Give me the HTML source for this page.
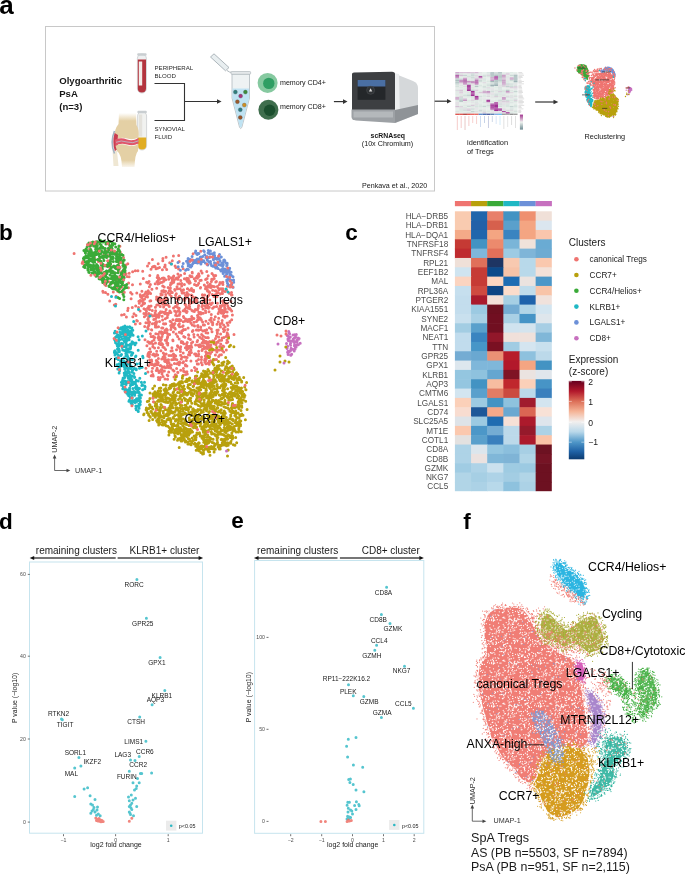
<!DOCTYPE html><html><head><meta charset="utf-8"><style>html,body{margin:0;padding:0;background:#fff}body{width:685px;height:874px;overflow:hidden;font-family:"Liberation Sans",sans-serif}svg{display:block;will-change:transform}</style></head><body><svg width="685" height="874" viewBox="0 0 685 874" font-family="Liberation Sans, sans-serif"><defs><g id="umapb"><path d="M166.7 269.6h0M126.1 273.7h0M121.9 286.7h0M143.4 295.2h0M118.5 264.5h0M103.1 292.2h0M140.1 323.5h0M142.7 271.3h0M159.5 267.6h0M171.4 264h0M107.9 294.2h0M131.1 298.7h0M105.1 282.2h0M127.8 263.7h0M158.2 263.8h0M137.9 270.7h0M183.2 268.8h0M157.8 275.4h0M149 263.3h0M147.5 266.1h0M149 281.4h0M135.3 270.7h0M140.2 294.7h0M127.7 310.6h0M136.8 292.9h0M130.6 292.5h0M169.7 262.7h0M136 315.6h0M162.4 269.7h0M117.1 280.3h0M115.4 279h0M129.2 273.2h0M136.7 320.5h0M135.4 324h0M105.9 285.5h0M121.6 314.9h0M128.6 283.1h0M117.5 256h0M172.3 260.8h0M140.1 301h0M154.6 266.3h0M105.3 284.1h0M162.8 260.8h0M178.7 255.6h0M121.7 271.4h0M116.1 296.2h0M114.3 304.9h0M152.5 266.9h0M173.4 256h0M129.1 276.8h0M109.7 300.9h0M168.6 276.5h0M175.9 267.4h0M152.4 259.5h0M128.1 308.3h0M156 268.7h0M132.6 271.7h0M139.3 303.3h0M108.7 281.7h0M132 294.1h0M118.5 271.3h0M128.4 287.7h0M149.8 275.4h0M126.4 317h0M153.3 266.6h0M137.4 320.9h0M132.3 307.4h0M158 280.9h0M105.5 292.5h0M165.1 266.9h0M122.9 293.8h0M110.8 266.4h0M155.1 266.4h0M132.5 284.7h0M146.6 282.2h0M132.8 316.8h0M179.2 261.6h0M149.4 286.8h0M164.5 266.9h0M178.6 268.9h0M166.1 257.3h0M127 276.4h0M121.2 282.7h0M119.5 261.7h0M102.8 291.3h0M115.8 304.2h0M122.9 293.1h0M124.3 292.3h0M134 313.7h0M175.1 266h0M117.9 291.5h0M120.3 288.3h0M125.9 265.1h0M165.1 264.9h0M113.3 292.1h0M124.2 314.5h0M135.7 306h0M157.6 268.3h0M140.3 283.9h0M162.9 258.6h0M138.9 301.2h0M151 269.3h0M117 287.4h0M140.1 300.4h0M155.2 283.7h0M148 282.9h0M140.1 310.9h0M143.3 278.4h0M138.5 307.6h0M103 282.4h0M159.9 303.1h0M187 292.4h0M166.9 332.6h0M187.7 278.6h0M145.9 368.2h0M188.5 354.7h0M145 339.8h0M169 355.5h0M141.5 305.8h0M227.1 332.8h0M168.7 279.3h0M177.1 288.4h0M155.4 326.9h0M234 334.5h0M207.2 307.5h0M189.8 355.1h0M198.5 359.5h0M193.6 290.2h0M183.5 329.5h0M158.9 339.8h0M216.3 291h0M188.4 348.2h0M176.5 306.7h0M167.7 336.5h0M200.7 327h0M156.3 360.5h0M156.7 288.3h0M148.8 313.5h0M155.8 324.7h0M159.5 321.4h0M190.5 352.8h0M178 284.1h0M210.2 283.9h0M212.3 303.1h0M226.6 289.9h0M186.8 349.8h0M190.2 300.5h0M148.8 306.3h0M143.3 304.1h0M160.6 312.4h0M124.6 268.3h0M98.4 261.6h0M94.5 258h0M109.8 246.1h0M119.9 246.3h0M116 284.1h0M105.4 265.7h0M90.9 275.2h0M91.1 245.6h0M86.9 251h0M111.7 259h0M97.4 243.6h0M107.4 256.5h0M99.5 259h0M120.3 252.3h0M115.5 253h0M120.3 252.3h0M106.9 251h0M74.1 253.6h0M89.6 249h0M82.2 263.2h0M107.9 255.5h0M109.8 267.4h0M84.3 264.8h0M110.5 263.9h0M123.5 257.4h0M108 250.2h0M111.2 283.8h0M113.5 252h0M103.7 255.2h0" stroke="#ef7470" stroke-linecap="round" fill="none"/><path d="M224.8 311h0M170.4 284.9h0M225.2 291.4h0M195.6 344.9h0M208.2 275.7h0M148.5 326h0M144.7 326.5h0M208.5 343.3h0M197.3 276.1h0M162 369.7h0M151.5 329.7h0M156 316.1h0M190.9 350.1h0M172.3 279.3h0M156.4 321.6h0M188.6 338.6h0M176.5 349.7h0M183.4 316.4h0M174 325.3h0M166.1 297.6h0M153.8 319.4h0M167.3 363.1h0M218.9 308.8h0M173.4 332h0M181.3 342.5h0M214 340.9h0M220.9 306.9h0M205.8 300.1h0M187.3 346h0M158.7 277.7h0M213.6 360h0M201.9 306.4h0M201.2 280.2h0M201.6 334.4h0M197.4 320.2h0M160.9 350.8h0M183.2 353h0M173.9 280.7h0M190.4 339.5h0M164.3 347.7h0M175.3 306.4h0M185.4 329.4h0M204.6 341.2h0M203.1 313.2h0M203 309h0M196.5 321.5h0M192.3 272.9h0M186.4 295.2h0M175.9 279.1h0M173 282.6h0M197.7 285h0M222.9 284.5h0M173.7 325.4h0M151 306.1h0M165.6 349.5h0M231.7 310.9h0M213.5 286.4h0M193.9 318.6h0M166.8 361.4h0M209.4 285.7h0M167.2 361.1h0M208.9 341.9h0M160.6 311.7h0M168.1 314.5h0M181.3 358.8h0M161.7 343.6h0M202.6 322.1h0M157.5 315.3h0M209.3 291.8h0M148.4 321.9h0M161.8 359.1h0M218.1 342.2h0M157.4 361.5h0M207.7 353.2h0M204.9 362.3h0M167.7 345h0M188.1 308.2h0M170.4 288.1h0M185.7 311.6h0M179.2 364.7h0M203.4 345.8h0M231.5 295h0M187.2 281.2h0M176.5 375.5h0M148 354.3h0M220.5 327h0M214.2 319.5h0M172.9 326.6h0M158.1 304.8h0M171.2 296.2h0M227.4 286.2h0M200.2 318.1h0M158.3 282.7h0M149.6 309.4h0M177.9 372.6h0M207 287.1h0M191.5 288.5h0M171.4 291.9h0M149.5 342.7h0M206.5 299.2h0M212.6 324.7h0M189.8 321.3h0M214.2 278.6h0M186 296.8h0M149.5 292.5h0M163.1 376.6h0M205 305.7h0M176.4 319.5h0M167.3 317.4h0M211.7 279.3h0M165.7 323.7h0M202.9 342.1h0M207.4 282.6h0M156.8 305h0M166.2 354.1h0M143.1 303.7h0M195.3 309.4h0M173 340.7h0M220.4 308.5h0M152.8 364.6h0M146.5 311.3h0M214 343.7h0M146.2 315.2h0M199.3 346.7h0M182 291.7h0M229.8 322.3h0M206.7 329.8h0M147.5 297h0M145.9 292h0M158.6 316.6h0M169.9 310.9h0M149.6 359.9h0M189.7 319.3h0M164.9 330.7h0M160.6 365.4h0M216.6 306.4h0M167.8 343.3h0M220.2 324.8h0M218.3 321.7h0M164.5 323.9h0M171.2 355.4h0M217.3 286.5h0M155.3 313.2h0M207.9 345.5h0M165.1 312h0M165.7 279.7h0M169.3 306.5h0M161.4 369.6h0M219.5 340.2h0M192 295.5h0M221.4 354.7h0M187.7 288.7h0M160.1 312.7h0M170.8 277.7h0M177.8 320.4h0M166.7 313.3h0M170.9 312.5h0M197.6 325.7h0M158.4 358.5h0M187.7 321.4h0M206.3 353.7h0M202.2 350.3h0M154.6 347.9h0M163.7 299.4h0M151.2 314.7h0M209.6 356.3h0M152 341.5h0M158 300.5h0M183 289.9h0M190.1 308.8h0M200.9 329.4h0M203.8 298.1h0M205.8 351.8h0M207.1 278.5h0M228 334.5h0M165.3 318.8h0M188.1 328h0M163.1 300.1h0M173.8 356.9h0M180.7 275.2h0M182.1 293.1h0M167.3 330.1h0M173.3 276.9h0M157.3 317h0M174.7 289.4h0M201.5 357h0M210.7 345.3h0M141.6 296.3h0M187.9 348.3h0M175.9 320.4h0M165 302.9h0M144.4 316.8h0M200.4 287.9h0M218.1 292.6h0M205.5 288.8h0M222 293.1h0M208 363.3h0M163.7 281.2h0M194.5 325.9h0M184.6 356.9h0M183.1 325.7h0M185.3 321h0M177.7 288.7h0M167.5 300.1h0M163.1 357.1h0M150.6 293.6h0M189 305.4h0M162.3 312.1h0M186.7 345.2h0M180 320.7h0M178.7 297.3h0M159.1 343.8h0M194.8 301.7h0M227.1 316h0M195.5 281h0M222.9 282.3h0M176.6 368.4h0M217 296.7h0M186.4 279.4h0M223.7 346.6h0M174.4 363.6h0M214.1 306.9h0M197.6 309.7h0M172.3 280.5h0M220.7 344.1h0M161.6 333.4h0M168.7 372.1h0M171.8 292.6h0M144 308.7h0M232 295h0M216.4 281.5h0M153.3 336.2h0M191.7 347.3h0M168.5 313.3h0M162.4 303.1h0M156.3 370.5h0M222.5 310.6h0M204.5 324.9h0M166.1 309.5h0M229.8 308.6h0M167.7 360h0M150.6 351.7h0M230.9 301.6h0M188.5 294.5h0M147.8 319.3h0M206.9 356.6h0M163 303.1h0M208.5 307.6h0M183 362.8h0M173.2 359.6h0M212.7 322.6h0M223.4 313.3h0M209.7 341.4h0M170.8 329.5h0M196.4 330.1h0M227.8 329.5h0M151.7 361.3h0M180.3 349.5h0M216.9 330.2h0M165.1 357.4h0M221.2 310.1h0M178.1 307.7h0M140.5 296.5h0M170.8 282.9h0M211.2 318h0M192.8 302.3h0M173.5 353.9h0M183.7 336.6h0M179.3 332.3h0M223.5 300.4h0M188.3 346.6h0M186.4 298h0M210.7 360.7h0M148.3 329h0M199.7 337.3h0M176.1 333.9h0M191.6 370.6h0M216.9 352.1h0M211.6 322h0M209.9 303.6h0M183.5 361.7h0M143.3 303h0M185.4 364.7h0M165.1 361.5h0M162.7 304.3h0M191.5 342.9h0M163.3 353h0M199.1 313.5h0M184.6 371.8h0M151.9 289.3h0M211.1 304.6h0M194.4 325.7h0M153.6 354h0M209 287h0M164.2 359.1h0M186.7 311.4h0M181.4 290.4h0M186.1 296.4h0M155.1 312.9h0M145.9 322.7h0M204.7 342.7h0M181.3 358.9h0M166.5 328.9h0M187.1 357.6h0M169 362.4h0M141.7 297.2h0M156.5 299.3h0M167.8 334.2h0M205.4 356.1h0M175.6 295.2h0M219.3 284.4h0M146 296.5h0M185.8 374.6h0M207.8 333h0M188.5 347.3h0M198.3 308h0M148.6 293.1h0M212.8 340.8h0M214.1 275.9h0M223.8 313h0M226.1 336.4h0M190.9 361h0M198.2 345.2h0M154.7 337.5h0M173.2 279.3h0M152.4 323.8h0M164.4 355.2h0M187.4 294.1h0M159.4 315.3h0M213.5 275.3h0M192 310.6h0M161.8 291.1h0M170.1 364.7h0M202.1 273.1h0M202.6 305.5h0M220.1 294.1h0M179.7 283.7h0M200 280.6h0M156.7 355.3h0M186.5 343.8h0M208.3 337.7h0M158.4 347.8h0M150.8 300.7h0M181.7 283.6h0M149.9 342.7h0M209 311.8h0M176.3 293.8h0M188.5 334.8h0M172.2 350.8h0M216.7 342.6h0M166.9 339.5h0M221.6 282.8h0M184.6 273.5h0M218.6 356.6h0M204.3 284.9h0M188.8 346.8h0M171.2 326.4h0M186.7 278.3h0M151.3 364.6h0M209.1 362.9h0M193.8 334.4h0M189.3 351.9h0M170.7 325.6h0M183.7 343.8h0M148.2 290.7h0M219.7 349.9h0M209.7 319.9h0M149.6 322.2h0M220.3 327h0M198.8 312.2h0M154 339.9h0M185.1 309h0M164 347.6h0M169.6 334.4h0M164.2 353.9h0M174.9 323.6h0M226.3 350h0M208.5 308.3h0M218.2 313.4h0M201.3 362.5h0M190.6 351.6h0M214.4 286.7h0M162.6 334.2h0M210.9 287.4h0M229.3 309.1h0M185.2 310.9h0M198.5 356.1h0M224.4 311.1h0M227.2 303.7h0M154.4 365.7h0M205.4 348.3h0M218.2 330h0M187.1 311.4h0M154.9 355.9h0M165.6 291.2h0M158.3 334.1h0M166 297.7h0M149.2 306.7h0M212 273.4h0M184.9 337.3h0M144.6 303.3h0M219.1 289.7h0M211.1 320.6h0M155.9 323.9h0M176.4 278h0M187.6 295.8h0M190.6 347.6h0M184.8 309.8h0M163 303.7h0M144.6 299.1h0M207.7 357.8h0M177.6 336.5h0M160.5 344.5h0M205.8 351.8h0M220.6 334h0M203.5 301.2h0M227.8 342h0M223.2 302.7h0M189.3 283.2h0M157.7 355.1h0M146.1 313.1h0M157.8 364.5h0M147.7 308h0M219.6 346.6h0M209.3 353.3h0M206.4 278.9h0M147.8 356h0M196.9 299.9h0M148.4 353.3h0M171.7 359.8h0M148.9 325.3h0M149.3 356.8h0M192.1 296.8h0M171.3 365.1h0M175.3 374.7h0M167.6 379.3h0M167.1 317.6h0M199.2 276h0M160.8 282.4h0M208.8 295.3h0M186.3 307.1h0M162 373.9h0M187.2 342.6h0M205.5 361.3h0M164.5 279.6h0M183.5 289.7h0M198.3 316.6h0M152.7 354.7h0M189.6 290.2h0M189.4 304h0M200.6 287.6h0M197.4 278.3h0M171.9 347.7h0M197.3 364.1h0M164.9 313.8h0M163.5 290.5h0M156.9 354.6h0M160.8 299.4h0M181.7 286h0M165 378.9h0M213.6 278.7h0M205.7 312.4h0M207 303.5h0M167.5 365.6h0M222.9 346.1h0M209.6 292.4h0M172.9 369.9h0M231.7 319.7h0M200.8 313.9h0M183.3 321.8h0M211.3 347.6h0M218.2 287.9h0M162 336.6h0M227.1 322.9h0M158.7 336.4h0M223.6 316.2h0M164.4 366.8h0M176.4 302.5h0M162.3 366.8h0M225.5 311.4h0M221.3 313h0M181.7 333.3h0M160.6 300.4h0M164.8 299.6h0M187.9 282.1h0M212.6 290.2h0M181.3 341.6h0M152.8 316h0M192.4 331.5h0M151.2 362.7h0M191.1 345.6h0M154.9 322.9h0M205.1 358.7h0M214.9 294.9h0M217.4 333.5h0M202.2 364.7h0M177.7 372.2h0M175.3 329.1h0M156.1 354.5h0M222.9 288.7h0M209.3 347.4h0M184.6 300.6h0M171.4 327.5h0M158.1 337.8h0M176.9 359.7h0M202 350.4h0M163.4 278h0M205.7 337.6h0M179 310.1h0M185.5 295.5h0M179.8 326.8h0M166.5 340.8h0M215.5 338.6h0M201.7 338.5h0M163.8 312.4h0M196.5 360.9h0M195.3 370.5h0M162.6 319.9h0M202.4 294.7h0M206.5 299.9h0M206 359.5h0M198.7 354.2h0M221.6 340.2h0M179.9 348.5h0M162.7 344.4h0M204.6 330.4h0M158.2 362.7h0M159.7 279.2h0M162.9 328.1h0M194.5 367.5h0M222.2 320.5h0M153.2 376.1h0M161.3 339.4h0M164.6 360.9h0M158.7 317.3h0M160.4 365.7h0M197.6 340.4h0M169.2 290.4h0M219.7 355.1h0M192 290.6h0M196.7 302.6h0M187.7 321.5h0M215.3 316.7h0M212 331.7h0M223.6 325.1h0M149.9 300.9h0M201.1 312.7h0M179.3 315.2h0M157.9 281.3h0M170.1 321.3h0M227 339.9h0M215.4 354.9h0M175.7 375.5h0M183.2 375.3h0M157.2 277.6h0M223.3 316.2h0M187.3 374h0M160.4 377.5h0M176.9 298.2h0M161.7 328h0M183.4 368.5h0M154.2 337.6h0M212.7 323.8h0M197.1 341.7h0M141.8 298.1h0M228 325.2h0M160.2 306.4h0M180.9 320.2h0M191 323.2h0M143.1 300.4h0M208.3 323.4h0M205.7 307.6h0M174.4 327.8h0M224.6 307.1h0M222 305.5h0M151.1 336.6h0M218.6 337h0M154.1 315.6h0M229.8 321.5h0M152.5 368.3h0M163.6 292h0M188.8 335.2h0M224.7 308.6h0M194.5 284.6h0M188.3 278.8h0M150.4 284.4h0M168 305.1h0M205.6 279.4h0M150.3 343.2h0M202.6 349.1h0M207 343.9h0M191.4 352.5h0M147.6 294.3h0M209 292.2h0M189.4 299.6h0M180.1 362.8h0M201.4 320h0M165.4 359.6h0M201.1 319.4h0M220.8 347.2h0M223.7 331.5h0M206 363.7h0M148.4 323.2h0M196.3 277.4h0M213.4 349.7h0M227.1 311.9h0M183.6 371.3h0M178.3 362.8h0M179.2 308.2h0M165.8 294.5h0M180.1 288.8h0M146.9 345.8h0M168.3 292.8h0M162.9 346.9h0M192.8 296.9h0M159.4 343h0M198.5 306h0M171.1 322h0M224.7 330.2h0M218.1 341.5h0M192.3 324.9h0M203.3 325.1h0M207.5 291h0M170 367h0M176.8 363.7h0M227.2 334.6h0M149.5 354.3h0M201.9 303h0M220.3 324.1h0M161.2 338.1h0M215.8 281.9h0M178.1 319.6h0M147.6 327.6h0M176.9 315.8h0M165 300.8h0M162.2 282.3h0M191.5 320.1h0M206.3 341.4h0M228.6 308.4h0M222.1 313.3h0M201.4 359.5h0M176.9 320.1h0M198.7 283.2h0M189.5 281.4h0M160.9 339.5h0M164.2 287.1h0M188.2 319.6h0M175.3 355.5h0M206 332.8h0M197.8 335h0M220 282.5h0M182 357h0M167.4 337.7h0M145.1 293.4h0M177.2 278.7h0M179.5 296.3h0M220.1 306.1h0M175.4 359.2h0M192 276.5h0M160.2 338.2h0M158.5 298.3h0M197.9 325.4h0M165 332.5h0M198.9 275.3h0M165.5 304.8h0M172.3 292.4h0M204.6 360.2h0M204.7 294.9h0M225.2 303.2h0M213.3 279.2h0M182.4 326.6h0M190.8 276.7h0M180 312.3h0M177.7 311.1h0M211.4 281.5h0M216 344.8h0M180.5 349.1h0M177 286.7h0M178.8 276.7h0M148.1 319.3h0M216.7 293.4h0M202.8 335.8h0M194.1 337.1h0M183.2 310.7h0M162.2 278.2h0M174.3 355.7h0M191.4 289h0M215.7 275.6h0M226.6 342.7h0M191.7 316.4h0M167.6 315.2h0M189.9 275.8h0M149.2 352.2h0M189.6 346.6h0M184.3 293.1h0M174.7 311.1h0M223.3 328.7h0M186.3 360.6h0M184.4 284.4h0M189.2 280.8h0M222.5 291.2h0M202.1 342.9h0M169.8 294.6h0M163.6 306.9h0M194.3 311.6h0M150.4 333.7h0M207.3 348.5h0M185.5 304.8h0M198.5 319.5h0M229.2 293.2h0M215.7 350.1h0M162 372.4h0M177.5 345.7h0M228.6 336.5h0M194.2 278.8h0M195.5 297.5h0M176.1 312.6h0M207.4 290h0M168.3 367.5h0M151.2 375.8h0M179.7 313.9h0M187.9 319.8h0M183.8 317.6h0M205.3 301.4h0M155.5 318.8h0M148.2 320.2h0M186 357.3h0M150.1 314.7h0M212.6 308.2h0M217.8 350h0M143.9 313.4h0M211.3 328.9h0M202.8 331.1h0M218.7 318.3h0M141 301h0M196.5 302.2h0M232.4 315h0M161.2 331.8h0M172 283.3h0M206.3 347.1h0M163.5 323.7h0M198.6 305.6h0M150 363.1h0M155.3 325h0M180.7 370.3h0M192 317.7h0M230.8 309.8h0M207.6 296.7h0M210.4 353.6h0M217 324.3h0M160.7 340.5h0M224.7 305.1h0M141.9 291.3h0M222.9 313.2h0M204.3 348.6h0M180.4 351.6h0M182.9 330.6h0M195.2 300.2h0M165.6 367.7h0M173.7 282.3h0M198.6 330.2h0M145.4 309.4h0M196.8 301.8h0M186.9 371.7h0M143.2 295.7h0M225.1 327h0M155.8 333.7h0M207.9 337.4h0M147.8 341.7h0M180.8 280.4h0M221.5 311.5h0M222.1 338h0M197.8 317.6h0M202.5 297.8h0M163.9 367.2h0M158.9 313.5h0M209.3 307.3h0M174 371h0M159.2 297.5h0M222.5 301.3h0M170.7 368h0M161 294.9h0M210 361.9h0M160.9 293.7h0M162.7 286.1h0M179.2 326.3h0M198.4 277.1h0M157.9 283.9h0M165.1 291.4h0M227.1 312.1h0M152.9 344.3h0M200.3 312.6h0M177.5 304.2h0M215 359.4h0M185.5 365.8h0M200.7 346.4h0M165 297.6h0M161.2 371.4h0M216.5 359.5h0M180.6 355.2h0M155.5 343.1h0M221.8 289.1h0M211.5 361.6h0M179.1 339.1h0M222.4 350.5h0M159.6 332h0M192.2 272.3h0M152.3 310.5h0M156.6 297.1h0M182.6 342.1h0M210.8 345h0M201.1 271.1h0M220.9 288.7h0M156.8 327.1h0M194.6 354.1h0M167.2 375h0M198.4 363.9h0M184.4 278.8h0M179.6 319.5h0M170.3 290.6h0M184.1 299h0M223 290.7h0M175.7 356h0M194 322.3h0M158.7 370.7h0M185 304.1h0M179.3 323.7h0M183.6 370.9h0M225.4 309.1h0M166.7 342.9h0M158.5 315.1h0M206.8 271.6h0M211.8 351.7h0M176 298.3h0M190.2 303.5h0M216.4 336h0M168.5 359.8h0M196.5 285.5h0M178.5 324.9h0M227.9 306.3h0M179.6 362h0M149 314.3h0M157.1 368.2h0M191.4 295h0M148.6 317.3h0M149 324.4h0M207.8 305.1h0M155.6 310.8h0M155.5 363.8h0M148.9 352.5h0M171 351.1h0M211.7 285.9h0M192.7 341.9h0M170 290.2h0M209.2 361.3h0M159.2 283.5h0M172.8 339.9h0M174 377h0M195.8 354.1h0M193.5 291.6h0M213.9 296.6h0M209 307.6h0M200.6 345.7h0M180.7 346.8h0M157 281.8h0M209.4 327.8h0M198.6 351.3h0M192.9 310.9h0M219.1 311.6h0M186.6 312.5h0M198.6 273.8h0M174.9 327.9h0M187.7 281.4h0M186.9 366h0M156.9 364.8h0M165.2 330.3h0M205.8 287h0M199.8 344.8h0M221.8 293.2h0M151.5 360h0M164.3 278.3h0M148.5 342h0M189.8 353.3h0M175.7 298.3h0M224.9 317.2h0M185.4 347.8h0M204 347.3h0M198 326.9h0M211.3 314.5h0M164.4 371h0M218.7 350h0M165.3 340.2h0M205.5 310.7h0M152.8 346.7h0M175 290.2h0M172.5 324h0M196.7 309.8h0M217.3 332.3h0M195.1 298.4h0M212.2 294.6h0M152.8 336.7h0M217.4 303.2h0M168.1 287.4h0M196.1 355.8h0M151.7 329.9h0M190.2 282.7h0M189.3 300.9h0M158.5 379.4h0M148.4 308.8h0M197.5 315.5h0M162.2 316.3h0M225.1 316.2h0M209.2 364.3h0M158.3 377.6h0M149.4 343.3h0M162.2 294.7h0M152.8 374.6h0M151.9 371.4h0M155.4 307.2h0M159.7 379.7h0M148.6 365.7h0M167.9 375.8h0M209.8 300h0M187.4 288.7h0M177.9 273.9h0M203.4 336.3h0M175.6 315.2h0M189.6 306.6h0M163.2 357.4h0" stroke="#ef7470" stroke-linecap="round" fill="none"/><path d="M182.4 377.6h0M206.1 449h0M243 415.3h0M183.1 430.1h0M202 437.9h0M234.3 426.5h0M163.9 417.7h0M226.1 396.1h0M159.3 388.2h0M226.4 374.3h0M228.2 429.1h0M201.7 419.1h0M222.7 386.1h0M163.3 425h0M186.5 394.4h0M158.3 415.5h0M158.7 425h0M189.7 430.7h0M227.5 455.9h0M208 369.6h0M149.1 420.4h0M203.5 379.2h0M160.6 390.9h0M173.6 391.8h0M180.1 431.6h0M191.1 444.7h0M196.9 383h0M245.4 419.7h0M234.3 375.7h0M182.4 378.2h0M163.3 384.7h0M198.8 393.6h0M173.6 418.3h0M198.8 450.8h0M197.3 400.7h0M165.5 409.5h0M203.5 453.7h0M175.2 389.8h0M246 389.8h0M203.5 383.6h0M173 407.7h0M147.3 401.4h0M209.2 397.2h0M165.1 424.1h0M206.4 390.2h0M207.4 440.4h0M197.8 393.9h0M209.3 404.4h0M187.6 430.6h0M200.2 435.9h0M192.3 380.7h0M225.6 439.6h0M196.2 450.3h0M219.3 448.9h0M227.9 450.3h0M177.7 410h0M240.8 421h0M174 383.8h0M205.6 371.4h0M193.4 419.7h0M215.2 401.8h0M236.7 374.2h0M211.4 386.8h0M174.8 412.2h0M235.3 386.5h0M176.2 419.5h0M216.4 424.1h0M237.6 422.6h0M216.7 415.5h0M214.6 428.8h0M213.9 365.1h0M185.2 412.9h0M164.9 407.7h0M144 414.1h0M213.8 409h0M176.3 429.3h0M184.5 389h0M222.3 422.5h0M189.2 417.9h0M204.4 437.5h0M217.4 366.1h0M151.7 408.1h0M177.7 384.2h0M208.6 451.8h0M181.2 434.6h0M175.1 430.2h0M215.3 431h0M185.6 399.3h0M232.1 405.5h0M218.2 421.4h0M233 404.7h0M172.9 403.2h0M193.9 416.1h0M246.6 382.6h0M209.5 404.2h0M213.2 363.8h0M200.9 452.5h0M203.4 452.6h0M204.9 374.5h0M187.8 429.3h0M196.9 387.9h0M209.8 439.9h0M160.7 415.9h0M170.6 406.3h0M193.6 411.3h0M202 448.8h0M209.6 387.8h0M229.5 368.3h0M223.5 412.6h0M169.8 431.8h0M172.2 405.4h0M210.4 384.4h0M202.6 454h0M175.7 403.1h0M233.4 444.7h0M243.8 394.1h0M179.7 385.9h0M200.9 398.9h0M215.7 394.9h0M203.5 371.1h0M150 392.9h0M152.8 388.4h0M227.8 368.3h0M213 373.7h0M212.3 362.2h0M203 377h0M224.3 385h0M182.7 376h0M156.6 420.5h0M205.9 375.7h0M223 420.5h0M243.7 377.6h0M177.5 440.2h0M190 398.2h0M238.9 430.4h0M189.8 425h0M163 424.6h0M170.9 422h0M181.2 434.9h0M195.2 378.5h0M180.7 386h0M192.3 422.6h0M205.9 390.1h0M160.6 415.4h0M214.6 371.5h0M235.1 422.4h0M199.2 450.3h0M154.6 386h0M148.5 414.1h0M219.4 423.6h0M180.4 405.3h0M245.7 401.3h0M191.2 411.9h0M240.4 415.6h0M177.5 414.8h0M217.4 370h0M225.8 384.3h0M196.4 381.8h0M225.7 357.5h0M228.2 450.1h0M217.6 426.3h0M170.3 429.2h0M221.4 385.4h0M238.4 431.9h0M222.6 384.5h0M147.3 412.2h0M221.9 363h0M224.8 432h0M210.7 403.3h0M191.9 414.6h0M224.6 424.7h0M222.8 434.5h0M187.9 444.1h0M219.3 394.9h0M218.5 361.6h0M183.4 438.1h0M195.6 410.8h0M203.8 450.3h0M161.9 424.7h0M189.2 378.4h0M143.7 414.8h0M159 415.1h0M185.9 393.1h0M203.9 396h0M160.6 396.3h0M237.8 374.2h0M213.5 379.3h0M197.9 409.6h0M243.4 400.1h0M169.5 427.8h0M178.4 399.6h0M175.9 385.2h0M215.1 403h0M168.9 408.1h0M212.8 385.6h0M232.9 431h0M227.2 421.6h0M164.3 424.5h0M197.6 372.1h0M156 415.4h0M200.8 410.2h0M217.5 402.8h0M203.8 420.1h0M241.4 397.5h0M179.2 447.6h0M172.5 384.2h0M241 399.2h0M196.9 398.3h0M241.2 431.7h0M242 396h0M217.4 431.8h0M183.2 435.1h0M227.7 424.9h0M234.9 445.3h0M179.3 392.7h0M185.4 381.6h0M247.1 409.6h0M218.6 416.1h0M156.6 404.1h0M210 455.2h0M238.7 425.9h0M183.5 390.1h0M216.8 389.3h0M225.1 428.7h0M168.9 435h0M210.6 415.9h0M235.1 383.1h0M221.7 381.3h0M175.4 421.1h0M176.3 376.7h0M236.7 442.7h0M158.1 390.9h0M184.5 432h0M225.4 368.5h0M175.2 379.5h0M215.2 369.1h0M200.9 423.5h0M233.1 406.6h0M165.5 397.1h0M207.5 405.4h0M172 385.8h0M200.9 418.5h0M203.1 394.2h0M191.8 403.2h0M238.6 391.1h0M179.4 412.4h0M204.4 427.2h0M184.8 393.2h0M156.5 413.9h0M224 362.1h0M224.2 411.1h0M151.7 407h0M213.1 396.4h0M232 397h0M224.1 392.1h0M175.1 411.6h0M159.2 424h0M197.3 379.2h0M199.9 400.4h0M217.9 444.5h0M241 393.2h0M210.6 415.7h0M172.8 398.4h0M208.3 405.9h0M154.6 415.3h0M240.5 425.8h0M235.2 430.8h0M211.7 429h0M237.9 378.6h0M219.4 375h0M192 390.3h0M209.6 418.7h0M222.2 430.4h0M207 442h0M234.8 415.6h0M212.5 379.7h0M195.1 413.8h0M182.2 408.5h0M205.3 449h0M202 426.7h0M226.9 367.5h0M204.3 446.3h0M225 393.6h0M204.1 402.6h0M241 410.6h0M152.9 408.9h0M195.1 401.8h0M174.3 385.2h0M218.1 447h0M222 365.3h0M229.1 435.9h0M231.1 427.1h0M171.6 405h0M200.1 383.2h0M227.6 361.1h0M217.6 434.3h0M192.1 382h0M194.7 410.3h0M189.3 388.2h0M213.2 442.7h0M180.1 407.9h0M198 443.4h0M193.7 382.6h0M182 441h0M179.7 383h0M187.3 434.3h0M157.2 406.4h0M233.6 388h0M233.1 369.5h0M210.2 388.5h0M216.6 372.1h0M234.9 412.7h0M241.5 414.6h0M203.3 439.5h0M207.4 385.9h0M207.2 437.2h0M177.8 420.2h0M221.4 431h0M221.7 439.2h0M218.6 401.6h0M229.6 425.9h0M239.9 406.1h0M171.7 396.1h0M212.3 442.5h0M199.8 401.8h0M198.6 446.7h0M185 419.7h0M215.1 435.3h0M227.9 434.8h0M206.1 447.8h0M213 371.3h0M199.9 394.8h0M153.8 393.8h0M155.2 417.3h0M177.8 430.9h0M220.4 432.1h0M203.8 409.6h0M213.8 375.8h0M238.7 405.5h0M204.2 429.7h0M226.9 424.1h0M190.3 384.6h0M150.3 417.3h0M156.2 393.1h0M228.8 376.4h0M238.7 429.1h0M198.6 387.7h0M238.7 387.8h0M178.9 412.1h0M159.5 401.3h0M159 401h0M221.1 398.6h0M216.8 375.4h0M215.3 411.5h0M215.6 424.7h0M225.2 403.5h0M203.2 381.8h0M185.3 408h0M193.9 390.1h0M208.5 396.1h0M232.5 403.4h0M181.2 420.8h0M235.3 374h0M233.1 395.2h0M181.9 435.5h0M203.3 412h0M203.1 430.7h0M234.9 396h0M178.2 438.7h0M217.1 438.4h0M217.9 405.1h0M202.1 411.8h0M223.6 412.2h0M202.8 429.6h0M227.9 425.5h0M146.1 409.7h0M230.2 435.9h0M241.8 407.3h0M197.3 411.6h0M184 432.1h0M205.5 441.4h0M179.9 396.2h0M151.1 407.2h0M224 406.8h0M198.2 445h0M223.2 387.9h0M213.9 406.2h0M223.1 439.8h0M187.8 386.9h0M157.7 409.4h0M189.6 384.6h0M197.9 421.5h0M182.4 387.2h0M233.1 420.5h0M229.7 378h0M167.1 390.5h0M214.7 393.8h0M212.4 424.7h0M146.7 410.2h0M210.2 418.5h0M211.4 432.1h0M179.2 438.8h0M211.4 390.6h0M209.8 393.5h0M195.8 410.8h0M217.2 386.1h0M213.3 380.1h0M225.7 380h0M206.1 388.7h0M203.6 387.5h0M189.8 440.7h0M241.7 406h0M220.4 446.3h0M164.2 394.3h0M235.5 407.3h0M159.2 418.6h0M237.8 383h0M183.2 418.9h0M175.6 404.9h0M199.5 378.2h0M223.9 377.8h0M227.7 396.3h0M239.9 392.5h0M173.3 397.5h0M236.1 413.7h0M227.6 439.1h0M229.9 429.8h0M202.5 396.4h0M158.1 391.8h0M227.3 431h0M219.5 411.8h0M239 379.8h0M208.3 398h0M241.1 390.6h0M169.3 431h0M227.6 426.3h0M224.9 376.2h0M206.7 409h0M237.8 395.8h0M170.1 387.2h0M216.2 426.4h0M192.6 395.7h0M240 400.8h0M165.6 395.1h0M207.4 437h0M158.9 418h0M206.7 407.1h0M188.5 409.4h0M242.6 391.5h0M237.8 390.8h0M212.5 415.2h0M212.4 433.5h0M231.4 412.2h0M188.2 384.7h0M218.1 434.6h0M149.9 404.7h0M229.7 418.7h0M188.1 387.7h0M195.7 390.9h0M185 405.2h0M152.9 415.3h0M204.4 425.6h0M217.2 393h0M206 383.7h0M180.5 383h0M195.3 419.5h0M169 388h0M192.2 424.2h0M197.9 401.1h0M153.5 393.4h0M148.6 415.1h0M238.2 407.2h0M192.3 395h0M221.4 375.9h0M238.8 400.8h0M205.9 447.8h0M174.9 415.5h0M207.8 376h0M206.2 426.9h0M227.3 439.3h0M178.1 430.7h0M160.4 393.7h0M186.4 424.1h0M207.8 435.3h0M220.1 380.8h0M231.1 387.5h0M186.9 395h0M176 408.9h0M198.5 433.4h0M218.8 376.8h0M179.6 382h0M220.8 431.2h0M230 396.8h0M174.5 433.3h0M147.1 412.4h0M239.3 398.7h0M172.6 412.9h0M177.6 392.5h0M195.9 380.2h0M196.3 404.1h0M228.4 379.8h0M196.7 400.3h0M169.6 399.3h0M201.7 428.8h0M244.3 397.2h0M224.6 389.6h0M219.5 423.1h0M149.5 404.8h0M167.2 414.2h0M163.6 415.9h0M223.5 414.4h0M230.4 394.2h0M213.2 400.5h0M232.3 366.1h0M216.1 367.7h0M224.6 379.1h0M203.8 438.5h0M225.8 367h0M231.3 375.1h0M223.4 417.6h0M184.3 394.3h0M176.4 403.2h0M146.4 408.1h0M233.3 385.6h0M212.4 448.7h0M222 430.6h0M187.6 403.3h0M237 380.5h0M196.6 427.3h0M179.4 402.8h0M167.9 426.2h0M226.5 445.7h0M215.1 379.8h0M178 392.5h0M165.7 402.3h0M225.7 407.6h0M200 434.8h0M206.8 440.8h0M206.4 432h0M167.3 413.6h0M172.2 429.7h0M170.7 387.7h0M189.3 380.2h0M218.3 427.9h0M196.8 376h0M180.4 427.8h0M169.7 400.6h0M210.6 373.1h0M203.4 405.9h0M156.5 408.6h0M155.1 412.6h0M212.1 407.1h0M168 402.4h0M204.2 400h0M194.8 443.2h0M150.8 411.4h0M174 394.9h0M239.1 417.8h0M174 400.9h0M188.4 408.3h0M210 408.2h0M204.3 393.2h0M235.8 410.9h0M232.3 424h0M214.3 421.8h0M224.1 435.3h0M214.7 388.5h0M232.3 404.2h0M163 407h0M217.3 419.1h0M236.1 431.9h0M233.3 394.6h0M211.8 421.4h0M223.5 441.9h0M181.1 440.9h0M163.3 413.1h0M180.6 408.7h0M165.1 394.4h0M192.1 413h0M165.9 415.5h0M172.7 412h0M190.5 420.6h0M156.2 397.2h0M235.4 412.3h0M209.5 411.5h0M193.4 426.4h0M192.5 432h0M174.4 389.1h0M238.1 413h0M221.3 413h0M193.9 411h0M218.7 446.2h0M236 406.7h0M211.8 381.4h0M159.7 413h0M237.1 397.8h0M202.4 447.3h0M188.9 412.7h0M188.7 400.2h0M240.4 389.1h0M209.6 404.3h0M224.4 415.4h0M179.9 397.9h0M232.3 393h0M239.5 399.9h0M225 400.2h0M168.1 414.1h0M231.4 407.8h0M165.9 398.7h0M240.4 379.4h0M216.3 381.4h0M195.4 376.3h0M171.3 424h0M232.6 435.9h0M219.5 410.9h0M217.1 443.8h0M232.6 419.3h0M186 409.4h0M201.2 412.6h0M217.3 367.6h0M158.5 393.8h0M212 382.5h0M184.9 413.7h0M215.7 400.7h0M212.2 423.9h0M180.5 439.9h0M205.4 394.1h0M217.6 388h0M232.1 388.6h0M176.2 432.5h0M202.7 447.1h0M193.6 427.7h0M227.6 403.5h0M163.4 394.5h0M184.8 392.2h0M217.9 437.5h0M229.7 376.7h0M162.2 421.7h0M219.8 432.5h0M237.2 389.9h0M214.3 406.6h0M208.6 440.6h0M203.7 442.3h0M228 408.1h0M208.2 402.7h0M184.5 427.5h0M206.3 393.1h0M211.6 408.9h0M195.7 446.2h0M172.1 424.2h0M213.7 448.3h0M180.8 423.4h0M206.4 422.8h0M241.7 391.5h0M160.4 410.4h0M202.1 394.2h0M175 435.7h0M153.2 398.1h0M226.9 436.8h0M217.3 407.8h0M161.2 395.6h0M219.4 432.2h0M207.3 443.4h0M202.6 438.5h0M237.3 374h0M175.2 400.6h0M188.2 438.6h0M190.5 441.1h0M207 409.6h0M222.5 390.5h0M157.6 393.2h0M229.7 399.4h0M185.5 432.3h0M176.5 429.1h0M161.8 420.3h0M211.8 406.3h0M234.6 407.7h0M228.5 428h0M172.8 429h0M175.2 397.9h0M196.1 437.6h0M226 372.9h0M200.3 387.1h0M165.9 392.8h0M214.4 445.9h0M221.3 405.3h0M184.6 434.2h0M230.2 437.6h0M208.1 419.6h0M149.9 398.6h0M208.8 383.9h0M214.5 410.5h0M213.1 439.3h0M179.1 417.3h0M228.1 423.4h0M215.5 411.3h0M178.2 433.7h0M158.4 413.3h0M196.2 418.2h0M162.4 397.5h0M212.3 399.9h0M218.8 366.1h0M220.4 395.5h0M221.3 429.8h0M227 445h0M190.3 429.3h0M220.9 398.8h0M162.9 421h0M217.9 417h0M181.7 390.1h0M166.3 400h0M224.7 439h0M238.2 379h0M211 397.6h0M182 430h0M202.3 417.1h0M211.9 417.8h0M222.5 444.8h0M235.6 389.5h0M227.1 444.6h0M197.7 397.6h0M205.2 381.6h0M230.7 392.1h0M174.7 431.7h0M180 385.1h0M216.8 431.4h0M220 421.5h0M221.3 445.7h0M171.9 384.4h0M212.8 433.4h0M210.6 387.3h0M202.7 381.2h0M227.5 371.2h0M225 441.9h0M193.7 423.2h0M213.1 400.2h0M230.8 443.2h0M193.1 386.6h0M240.6 424.5h0M185.2 400.2h0M228 424.7h0M197.1 444.3h0M204.7 440.1h0M232.7 427.8h0M235.3 376.2h0M221.1 439.4h0M178.6 416h0M178.8 428.4h0M168 415.4h0M226.4 417.6h0M202.9 393.7h0M213.7 448.5h0M171.3 432.2h0M175.3 429.7h0M165.8 414.7h0M182.3 408.6h0M183.2 414.4h0M220.4 424.6h0M229.4 368.1h0M183.7 432.9h0M220 445.3h0M210.3 441.2h0M208.2 430.8h0M195.4 425.5h0M232.9 377.6h0M180.3 396.2h0M231.4 435.5h0M196.6 395.4h0M204.6 417.8h0M245.8 389.8h0M187.2 431.7h0M196.4 427.9h0M222.5 379.4h0M236.5 372.8h0M185.5 421.5h0M179.5 389.2h0M189.2 443.9h0M181.3 413.7h0M200.2 448.8h0M196.9 433.1h0M221.5 402.3h0M187.7 401.7h0M153.4 395.6h0M212.4 426h0M241.7 381.2h0M177.4 429.1h0M208.8 417.4h0M179.6 430.6h0M152.6 413.8h0M238.9 408.8h0M212.4 383.6h0M179.9 432.4h0M219.9 434h0M164.4 390.6h0M209.9 405.7h0M227.3 397.3h0M237.9 378.9h0M211.7 434h0M235.2 415.2h0M210.4 382.4h0M204.4 374.6h0M213.9 372.8h0M230.2 429h0M209.6 386.2h0M212.7 424.1h0M196 423.9h0M225.7 442.7h0M229.7 368.2h0M194.3 444h0M158.4 400.2h0M215.1 411.6h0M235.9 419.8h0M219.3 365.6h0M229.8 392.6h0M231.2 436.5h0M220 387.7h0M232.5 368.9h0M197.7 410.1h0M207.3 443.3h0M180.6 396.6h0M234 369.6h0M159.6 422.7h0M219.4 379.4h0M215.7 391.9h0M161.4 400.9h0M191.2 394.6h0M237.8 394.6h0M210.3 448.4h0M191 415.5h0M179.8 430.9h0M211 431.9h0M211.1 426.1h0M158.7 420.4h0M221.2 445.4h0M209.2 437.5h0M219 404.6h0M172.4 427.3h0M232.3 378.8h0M217.5 431.3h0M177.5 433.6h0M181.8 429.8h0M189.7 378.1h0M166 385.2h0M226 438h0M209.4 377.7h0M175.4 395h0M242.2 395h0M232.4 429.4h0M224.8 412.3h0M176.1 432.5h0M164.3 424.1h0M202.7 395.5h0M199.1 381.1h0M214.1 413h0M211 424.7h0M238.9 428.1h0M204.4 404.5h0M160.8 388.1h0M206.3 390.6h0M197.1 392.8h0M201.6 373.8h0M212.5 394.6h0M239.5 388.1h0M231.8 395.4h0M211.7 391.7h0M227.5 379.3h0M183.9 427.7h0M192.2 438.1h0M204.8 408.7h0M205.2 376.2h0M161.8 416.9h0M174.2 386h0M171.3 386.6h0M170.6 387.9h0M175.4 436.9h0M244.9 395.4h0M233.5 368.1h0M194.2 436.1h0M185.7 405.4h0M166.3 401.3h0M220 401.7h0M207.6 422.9h0M172 400.2h0M235.7 390.7h0M241.9 400.3h0M211.4 432.7h0M197.6 447.7h0M227.6 442.7h0M199.5 448.3h0M201.4 398.8h0M156.5 393.6h0M163.8 401.4h0M185.4 441.9h0M218.6 400.4h0M201.5 448.8h0M222.3 416.5h0M180.7 395.2h0M178.5 421h0M233.3 386.5h0M237.8 397.8h0M195.1 382.4h0M170.6 399.6h0M195.4 438.2h0M181.7 430.7h0M170.9 403.4h0M181 418.9h0M202.3 404.4h0M155.2 405.9h0M202.6 384.2h0M214.8 371.6h0M227.4 363.5h0M231 437.5h0M236.8 375h0M211.7 402.1h0M166 421.8h0M203.3 450.2h0M176.2 403.7h0M182.9 394.3h0M204.5 432.7h0M214.7 369h0M173.1 417.5h0M222.7 440.4h0M181.8 401.6h0M149.9 407.3h0M176 408h0M206.3 374.3h0M220 373.7h0M224.2 427.5h0M239.6 420.5h0M184.1 427.9h0M206.7 385.9h0M232.7 407.1h0M239.7 415.1h0M203.8 406.1h0M164.8 391.3h0M236.4 422.4h0M223.5 397.5h0M187.6 431.9h0M211.3 446.4h0M213.8 377h0M213.9 426.6h0M193.8 419.1h0M221.2 434.2h0M212.2 396.4h0M214.7 381.2h0M172.3 426.2h0M187.7 441.9h0M229.4 422.6h0M181.7 399.7h0M178.8 387.6h0M216 409.5h0M178.7 389h0M160.8 417.1h0M239.8 423.3h0M180.2 411.5h0M151.4 411.8h0M204.8 372.7h0M197 419.7h0M199.3 422.4h0M214.6 420.8h0M232.7 372h0M182 437.9h0M211.7 394.8h0M169.5 407.5h0M229.1 377.2h0M170.2 405.5h0M227.6 397.6h0M199.5 432.7h0M213.7 410.1h0M189.3 420.2h0M229.9 371.7h0M227.6 388.8h0M190.7 406.8h0M191.6 392.9h0M228.6 409.1h0M172.1 431.9h0M161.1 398.5h0M162.5 396.7h0M183.7 408.5h0M158 419h0M216.9 375.2h0M238.8 407h0M198.8 442.8h0M222.6 421.7h0M169.4 388.8h0M171.9 403.5h0M231.7 409.1h0M168.2 393.3h0M209.5 426.8h0M224.6 386.8h0M170.1 385.4h0M191.7 442.7h0M227.1 420.2h0M224.2 382.1h0M224.6 379.4h0M196.6 395.6h0M195.1 403.8h0M189.5 392h0M168.3 418.6h0M244.7 387.1h0M185.8 424.3h0M211.2 391.7h0M235.9 416.4h0M229.9 411.3h0M217.5 442.2h0M203.3 403.5h0M198.1 392.2h0M173.2 384.8h0M196.5 427.5h0M208.4 430.4h0M168.2 410.2h0M198 396.6h0M238.7 396.1h0M166.7 415.1h0M204.4 432.6h0M169 431.2h0M169 398.5h0M232.8 437.9h0M205.4 376.6h0M200.2 425.9h0M220.3 411.8h0M206.1 407.5h0M226 419.8h0M214.6 443.8h0M199.3 400.4h0M237.6 387.3h0M214 424h0M164.4 401.7h0M163.3 411.2h0M207.8 402.7h0M202.6 376.8h0M203.7 439.1h0M231.6 368.5h0M178.1 426.2h0M205.3 394.7h0M230 443h0M202.4 381.7h0M213.9 412.1h0M196 423.7h0M179.3 417.5h0M234.4 412.4h0M198.5 416.1h0M164 389.7h0M218.1 412h0M187 381.5h0M219.5 387.4h0M160 407.6h0M213.2 447.1h0M215 368.2h0M198.1 444.6h0M240.2 401.8h0M176.2 395.8h0M163.2 399.4h0M193.1 408.7h0M208.9 412.4h0M229.3 362.6h0M204.8 393.1h0M210.4 447.1h0M180.8 408.7h0M229.5 427.7h0M201 376.3h0M196.4 399.8h0M230.8 416.3h0M170.2 412.8h0M178 419.6h0M148.8 415.3h0M202.1 445.9h0M203.3 432.3h0M167.6 410.5h0M186.7 436.6h0M205.8 434h0M231.9 419.5h0M180.7 414.6h0M225.6 435.9h0M209.4 401.3h0M210.8 395.6h0M214 407.5h0M231.4 383.8h0M196.4 435.1h0M168.7 419.3h0M200.6 422.7h0M203.7 375.3h0M213.7 389.2h0M243 396h0M178.6 382.9h0M182.5 382.7h0M225.1 395.5h0M214.7 416.6h0M206.7 424.1h0M167.2 410h0M224.7 422.2h0M198 422.9h0M171.4 424.2h0M222.3 442.7h0M226.7 443.8h0M232.2 439h0M222.3 444.1h0M214.2 392.5h0M176.7 425.9h0M201.2 446.1h0M220.2 448.9h0M182.4 395.4h0M195.1 439.1h0M167.1 419.6h0M238.2 391.2h0M210.1 428.7h0M205.5 382.6h0M224.8 401.7h0M201.7 418.4h0M178.2 420.5h0M198.4 405.4h0M215.3 449.2h0M149.9 416.6h0M216.8 403.6h0M189 425.6h0M200.2 397.6h0M211.8 415.6h0M236.2 373.1h0M198.2 418.5h0M177.9 414.9h0M214.6 434.3h0M169.6 409.4h0M232.6 399.5h0M203.2 397h0M220.5 417.6h0M224.4 412.4h0M171 406.7h0M157.5 421.9h0M211.4 405.4h0M184.3 438.9h0M181.3 381.5h0M218.7 419.3h0M187.4 435.6h0M190.8 389.4h0M187.4 432.6h0M231.3 392.3h0M191.7 430.7h0M182.4 381.7h0M192.8 419.5h0M230.5 436.1h0M190.7 401h0M198.4 391.2h0M169.4 413.9h0M220.9 376.1h0M203.6 380.7h0M212.6 418.8h0M222.1 371.2h0M217.6 376.2h0M234.4 428.9h0M212.8 424.4h0M164.8 408h0M221.7 378.4h0M176.1 384.8h0M241.8 414.1h0M215.4 426.3h0M228.3 370.9h0M165.3 390.4h0M188.7 435.3h0M217.5 434.7h0M177.4 407.9h0M226.6 430.9h0M189.3 431.6h0M222.3 375.1h0M200.6 406.5h0M224 444.9h0M230.6 400h0M201.2 403.5h0M234.6 412h0M216.8 431h0M187.3 431.7h0M197.9 383.7h0M207 421.4h0M190.1 433.2h0M223.2 422.1h0M221.7 398.7h0M160.9 408.2h0M216 400.2h0M213.9 376.2h0M237.6 423.6h0M179.3 432.1h0M236.7 373.8h0M239.3 377.2h0M223.5 403.5h0M225.8 366.8h0M221.3 371h0M219.5 427.4h0M210.9 392.9h0M209 398.9h0M225.6 422.1h0M235.7 437.5h0M230.6 367h0M241.4 415.6h0M204 436.4h0M193.3 440.4h0M227.2 363.9h0M174.5 398.9h0M181.3 418.6h0M167.7 402.6h0M160.9 404.6h0M228.7 381.7h0M217.8 391.8h0M180.1 418.7h0M178.7 416.4h0M221.4 378.5h0M148.8 408.6h0M194.3 383.8h0M228 404.7h0M241.6 382.1h0M204.5 431.8h0M198.1 388.4h0M210.6 426.2h0M226.8 422.8h0M203.5 435.8h0M208.5 425.6h0M159.6 397.3h0M154.9 391.7h0M202.9 385.6h0M222.4 394h0M224.3 394.9h0M201.1 386.7h0M197.4 433.5h0M225 432h0M183.8 385.9h0M168 402.5h0M206.5 439.9h0M202.9 385.4h0M204.5 385h0M233.8 379.6h0M186.8 379.3h0M165.7 388.5h0M236.7 393.7h0M238.8 379.7h0M170.8 410.8h0M190.7 398.3h0M211 402.8h0M189.5 439.3h0M158.1 395.8h0M155.2 395.7h0M226.6 437.1h0M216.5 374.4h0M206.1 395.6h0M175.6 395.3h0M236.5 413h0M159.8 411.4h0M161.3 405h0M217.3 416.3h0M216 367.9h0M239.3 404.3h0M200 393h0M185.7 441h0M222.4 394.8h0M228.3 394h0M188.3 400h0M162.9 424.9h0M169.3 419.8h0M198.8 419.5h0M236.1 425.6h0M207.7 422.9h0M228.3 373h0M160.8 399.4h0M221.2 409.7h0M235.1 407.1h0M196.6 416.2h0M195.3 380.6h0M219.8 428.1h0M237.7 404.4h0M217.1 440h0M241.2 414.6h0M219.9 419h0M206.5 397.7h0M236.6 385.9h0M210.4 380.2h0M232.8 410.9h0M223.6 422.9h0M204.8 435.3h0M193 394.3h0M220.6 405h0M206.8 372.5h0M225 369.4h0M189.3 431h0M209.9 437.8h0M228.2 445.3h0M210.9 438.6h0M186.1 414.1h0M201 400h0M190.7 425.2h0M217.4 377.2h0M180.6 437.9h0M188.2 438.5h0M184.2 397.9h0M195.8 439.8h0M208.3 448h0M197.5 379.5h0M230.7 415h0M227.8 420.7h0M189.9 406.8h0M225.4 380h0M213.6 408.1h0M202.9 416.6h0M230.1 436.9h0M227.7 363.6h0M234.4 407.7h0M153.3 397h0M196.6 415.2h0M206.4 404.7h0M158.7 423h0M219.3 368.9h0M155.6 404.4h0M212.8 395.6h0M242 403.1h0M159.1 414.8h0M196.3 428.1h0M231.8 432.9h0M225.7 432.6h0M170.9 419.8h0M177.2 425.3h0M157.5 401.3h0M226.8 444.5h0M228 362.1h0M214.1 451.9h0M156.3 413.5h0M180.4 411h0M222.3 376.4h0M211.7 422.1h0M180.1 386h0M168.4 415.3h0M158.6 410.1h0M186.4 406.7h0M222.4 379.4h0M176.9 403.8h0M178.2 422.8h0M194.6 390.8h0M199.9 434.2h0M169.2 432.5h0M221.3 417.9h0M235.5 415.2h0M232.1 412.7h0M174.7 415.4h0M218.6 426.4h0M185.6 429.2h0M188.2 410.3h0M181.1 416.1h0M204.9 422h0M207.3 415.4h0M173 393.1h0M208.8 370.9h0M148.7 400.9h0M183.1 411.2h0M225.5 393h0M241.5 388.1h0M186.7 424.4h0M183.3 422.7h0M151.2 412.3h0M210.9 384.3h0M211.9 387.1h0M223.2 364.8h0M198.2 448.3h0M209.1 447.3h0M227 427.8h0M197.1 433h0M225.4 439.9h0M192.3 426.2h0M187.8 394.3h0M170 418.4h0M182.8 392.8h0M180.7 391.2h0M166.1 425.8h0M215.1 445.1h0M184.3 431h0M217.4 428.7h0M193.6 385.9h0M153 394.1h0M232.4 389.4h0M202.2 436.3h0M155.7 393.2h0M182.7 425.6h0M175.7 396h0M173.7 397.2h0M181.9 405.4h0M170.5 395.1h0M167.4 397.9h0M225.8 385.3h0M202.6 383h0M183.8 440.1h0M217.1 384.4h0M169.2 411.7h0M227.2 426.9h0M185.7 428.2h0M188.4 379.6h0M230.8 376.4h0M211 384.8h0M208.1 374.4h0M234.4 393.1h0M214.4 429.2h0M192.7 409.2h0M157.1 409.4h0M199.2 443h0M186.4 432.6h0M218.3 402.3h0M164.9 421.4h0M169.6 400.9h0M185.1 424h0M163.6 415.9h0M206.5 410.8h0M226.6 366.9h0M217.8 408h0M234.4 406.8h0M214.3 382.4h0M230.3 422.8h0M194.1 393.5h0M235.6 378h0M174.7 425.5h0M223 362.6h0M229.2 435.6h0M208.6 442.7h0M182.7 388.7h0M228.7 400.1h0M216.1 436h0M156.6 396.2h0M225.3 413.2h0M205.4 444.2h0M177.9 424.3h0M197.9 410.8h0M214.1 386h0M172.3 397.2h0M209.6 451.7h0M201 384.9h0M237 417.8h0M208.2 401.8h0M223.7 421.7h0M200.7 389.8h0M225 444.5h0M208 395.8h0M188.3 393.1h0M199.3 414.3h0M230.9 441.4h0M174.1 439.2h0M227.2 422.2h0M171.5 407.7h0M184.8 435.9h0M224.2 429.8h0M195.1 402h0M152.7 419.4h0M230.7 381.9h0M158.2 418.7h0M154.6 402.2h0M228.9 428.2h0M225.7 420h0M173.7 424h0M203.3 417.2h0M221.7 385.5h0M238.2 401.9h0M177.2 408.1h0M213.7 449h0M200 409.4h0M227.2 381h0M199.7 422.9h0M205.7 430.8h0M210.7 387.4h0M204.7 424.1h0M208.2 450.7h0M208.7 399.7h0M237.7 417.7h0M216.7 347.4h0M213.8 342.5h0M209.3 357.4h0M211.6 349.2h0M229.3 346.4h0M207.9 356.3h0M233.9 346.8h0M211.3 342h0M213.3 359.6h0M228.6 338.1h0M230.5 345.2h0M209.5 350.2h0M212.9 349.4h0M222.1 348.5h0" stroke="#b8a00c" stroke-linecap="round" fill="none"/><path d="M159 372.6h0M181.7 331h0M196.8 301.6h0M203.4 339.8h0M185.6 319.1h0M148.4 355.7h0M196.7 369h0M222.4 293.6h0M215.3 290.8h0M156 323.2h0M193 330.4h0M221.9 322.9h0M172.9 319.7h0M156.7 351.2h0M158.5 326.8h0M149.9 348.7h0M174.6 356.1h0M156.5 322.4h0M223.7 351.9h0M158.4 278.8h0M178 347h0M178.1 279.2h0M147.9 372.1h0M162.7 332.5h0M178.9 299.2h0M223.9 337.4h0M205.9 321.2h0M173.7 276.1h0M208.1 285.4h0M173.5 307.9h0" stroke="#ef7470" stroke-linecap="round" fill="none"/><path d="M112.3 243.7h0M121.1 278.5h0M119.1 288.9h0M110.4 284.2h0M107.6 252.1h0M111.7 272.9h0M96.8 242.4h0M125.4 267h0M120.5 258.5h0M112.7 288.8h0M114.8 253.3h0M99.1 273.5h0M116.4 261.5h0M112.8 243.3h0M96.4 241.8h0M96.7 248.7h0M103.2 256.4h0M99.8 270h0M93.4 259.9h0M123.6 260.4h0M103 264.8h0M102.3 280.5h0M105.2 256.6h0M98.3 249.6h0M111.4 282.2h0M116.5 277.3h0M98.4 254.1h0M116.7 253.4h0M105.7 275.1h0M122.2 278.6h0M115.7 289.3h0M109.1 270.4h0M117.9 257.4h0M119 269h0M100.7 267.9h0M105.6 280.8h0M123.7 269.6h0M119.3 250.4h0M111.6 287.7h0M97.5 248.9h0M105.9 255.5h0M103.8 276.5h0M117.3 278.3h0M83.7 266.7h0M84 257.6h0M89.2 264.4h0M91.1 255.7h0M115 278.7h0M115.1 276.5h0M97.4 241.7h0M124.4 265.5h0M98.2 251h0M105.3 248.6h0M111.5 267.4h0M101 244.8h0M105.9 244h0M119.4 260.2h0M94.5 252.5h0M90.8 249.5h0M108.4 248.3h0M105.9 283.8h0M114.4 266.9h0M100.7 257.2h0M92.8 260.8h0M125.4 267.4h0M94.5 253.4h0M101.3 262.5h0M97 267.4h0M114.5 275h0M113.9 266.1h0M107.3 281.6h0M114.2 287.8h0M116.6 260h0M92.7 262.1h0M118.2 251.1h0M116.5 277.3h0M106 265.7h0M84.5 265.9h0M85.3 252.7h0M104.1 252.8h0M96.1 249.1h0M98 248.9h0M118.9 267.9h0M101.6 241.5h0M115.2 273h0M103.9 260.6h0M114 288.7h0M105.9 251.8h0M113.3 279.3h0M87.2 250.6h0M96.6 264.5h0M107.3 264.7h0M118.3 248.7h0M124.1 277.8h0M106.7 252.6h0M111.6 256.8h0M116.6 276.5h0M92 243.3h0M108.8 244.1h0M106.9 273.4h0M99.4 271.4h0M104.6 275.6h0M103.5 266h0M102.5 247.7h0M100.1 278.9h0M119.6 282.2h0M114.5 288.4h0M111.6 247.7h0M109.6 256.3h0M88.8 272.2h0M106.4 271h0M108 242.1h0M108.2 261.8h0M114.2 272.7h0M100 247.8h0M102.5 264.1h0M94.7 260.8h0M109.4 262h0M118 249.5h0M90.4 255.3h0M104.7 256h0M123.2 266.2h0M104.4 272.2h0M117.1 254.5h0M101.4 250.4h0M113.5 276.7h0M92 259.1h0M118.1 272.7h0M102.3 251.7h0M117.6 285.8h0M99.6 248.4h0M103.1 242h0M118.7 280.2h0M101.7 273.3h0M96.7 254.6h0M122.8 274.4h0M109.7 265.5h0M94.7 261.9h0M121.2 282.5h0M111.3 272.6h0M106.7 282.2h0M85.3 265.1h0M92.3 260.5h0M96.3 267.8h0M87.5 262.2h0M95.9 274.1h0M92.6 257.1h0M85.9 249.2h0M120.5 258.6h0M114.9 243.8h0M87.9 270.1h0M88.9 251.9h0M97.8 271.1h0M88.9 243.1h0M99 273.7h0M117.5 268.3h0M115.4 273h0M105.1 250.3h0M123.8 266.1h0M119.6 254.6h0M89.1 261.4h0M98.7 267.8h0M110.6 260.1h0M111.1 271h0M103.8 241.2h0M93.3 258.8h0M113.3 258h0M92.9 241.9h0M113.1 258.4h0M104.9 283.9h0M110.8 252.1h0M94 271.1h0M118.4 248.9h0M100.1 250.2h0M99.5 260.4h0M91.8 242.5h0M96 273.9h0M90.1 246.3h0M106.1 242.4h0M106.3 276.9h0M119 262.5h0M101.9 256.6h0M108.9 241.4h0M112 276.6h0M112.3 270.9h0M95.9 274h0M98.7 272.1h0M92.8 253.1h0M110.5 248.4h0M118.6 281h0M106.1 252.8h0M96.9 247.3h0M114.7 287.8h0M90.8 250.1h0M99.4 256.6h0M93.4 268.7h0M90.3 251.3h0M91.6 244h0M85.9 255.8h0M94.3 269.3h0M106.9 280.1h0M99.7 256.4h0M120.6 261.9h0M94.6 259.9h0M107.8 252h0M103.9 256.3h0M118.2 284.9h0M99.7 257.4h0M94.3 256.4h0M97.3 245.7h0M118.1 261.1h0M90.2 260.5h0M102.8 277.4h0M88.8 264.9h0M115.5 280.7h0M88.3 258.1h0M112.8 256.8h0M110.9 253h0M96 243.6h0M110.1 254.5h0M85.5 253h0M89.6 258.6h0M118.8 280h0M103.7 279.2h0M123.3 270.5h0M87.6 257.3h0M117.3 259.7h0M120.7 286.5h0M93.7 246.1h0M118.6 280.7h0M93.4 269.9h0M89.3 272.6h0M113.2 266.4h0M103.9 274h0M108.7 263.8h0M94.1 253.5h0M109 249.5h0M112.7 244.1h0M98.8 254h0M121.1 259.3h0M92.3 272.8h0M104.1 274h0M95.2 266.2h0M106.7 271h0M116.7 261.4h0M100.8 261.3h0M83.4 258.4h0M122.8 273.9h0M93.8 260.7h0M94.5 260.3h0M87.8 268.6h0M87.9 262.5h0M115.4 284.8h0M110.9 258.9h0M90.6 253.9h0M93.7 273.2h0M115.7 247h0M101.8 277.9h0M112.6 245.2h0M119.7 251.7h0M118.9 289.2h0M87 261.6h0M110.8 283.4h0M118.5 260.5h0M97.4 274.9h0M93.9 260.9h0M119.5 253.9h0M85.4 258.1h0M111.8 251h0M124.3 269.8h0M85.1 251.6h0M103.3 281.5h0M101.9 267.7h0M86.7 257.1h0M110.5 264h0M123.3 260.8h0M111.7 278.4h0M109.1 286.5h0M121.8 254.6h0M103.2 256.1h0M91.1 268.4h0M99.1 278.8h0M108.9 271.2h0M90.1 266.2h0M118.9 266.2h0M110 274.9h0M97.8 265.7h0M97.4 253.7h0M96.8 275.5h0M90.8 269.7h0M114.6 274.8h0M87 265h0M121.6 277h0M102.8 281.7h0M108.3 278.4h0M94.7 271.8h0M88.4 256.3h0M88.5 254.1h0M120.6 281.4h0M101 271.5h0M107 272h0M108.9 286.1h0M110.5 241.4h0M114.9 267.8h0M116.5 256.7h0M90.8 265.2h0M91.7 269.4h0M105.8 274.5h0M87 263.6h0M117 285.6h0M93.5 265h0M120.4 282.8h0M107.9 265h0M92.8 266.4h0M120 275.9h0M118.1 270.1h0M85.9 249.2h0M102.8 276.6h0M100.9 268.5h0M92.2 254.6h0M103.3 257.9h0M97.8 268.2h0M83.7 261.3h0M110.8 278.5h0M102.8 247.3h0M125.1 270.7h0M107.5 277.8h0M101.3 264.7h0M83.9 250.5h0M93 262h0M93 266.3h0M103.7 278.6h0M105.2 265.5h0M101.3 246h0M95.8 247.3h0M116.8 254.5h0M110.4 269.5h0M112.7 253.5h0M103.5 275.8h0M101.3 241.1h0M87 247.2h0M124.2 260h0M97.1 270h0M94.7 254.6h0M109.6 260.8h0M104.7 283.2h0M110.2 245.7h0M123 255.2h0M91.3 251.1h0M99.9 244h0M111.7 282.9h0M96.6 273.6h0M87.5 257.8h0M88.5 245h0M93.8 258.3h0M110.2 254.2h0M100.9 253.5h0M123 262.9h0M118 265.3h0M124.1 270.6h0M119.8 267.9h0M106.4 271.3h0M118.9 246h0M113.3 275.7h0M112.2 258.4h0M118.1 249.3h0M103.3 248h0M123.5 276.2h0M119.9 277.8h0M121.5 272.7h0M114.9 254.3h0M113.3 261.6h0M119.5 256.8h0M95 259.7h0M116.1 252.4h0M115.4 282.6h0M109.3 249.6h0M114 279h0M125 270.2h0M107.7 278.6h0M103.6 265h0M112 282.8h0M118.5 259.7h0M121.1 258.1h0M95.6 249.2h0M94 253.3h0M110.5 254h0M116.4 258.6h0M105 250.3h0M96.1 276.3h0M88 245.2h0M110.6 261.6h0M110 253h0M102.9 282.4h0M107.6 266.4h0M100.2 240.2h0M97.6 272.8h0M95.7 251.7h0M113.3 271.8h0M106.6 255.4h0M99.9 248.1h0M99.7 242.1h0M89.8 251.7h0M88.5 266.7h0M88 244.3h0M122.9 265.4h0M115.1 266.4h0M88.7 255.3h0M112.1 248.8h0M99.1 277.4h0M120.1 279.4h0M118 260.2h0M98.3 267.2h0M89.4 266.7h0M106.2 255.9h0M88 244.3h0M97.5 266.9h0M102.4 268.9h0M91.1 253h0M102.8 257.5h0M83.8 259.2h0M117.3 281.9h0M94.4 245h0M93.7 270.5h0M124.8 271.8h0M117.3 265.5h0M122.6 282.9h0M112.6 281.6h0M121.3 273.8h0M85.1 261.8h0M124.6 274.5h0M97.6 259.5h0M105.4 273.8h0M106.9 256.5h0M106.6 257.5h0M111.3 267.8h0M123.3 271.1h0M84.9 267.5h0M88.8 260.8h0M115.9 268.5h0M94.8 245h0M113.1 251.9h0M119.6 298.4h0M126.7 287.6h0M126.7 284.5h0M116.5 282.7h0M124.6 288.3h0M120.2 282.4h0M119.7 287h0M114.7 283.2h0M118 297.4h0M123.8 299.7h0M117.6 285.4h0M113.8 279.4h0M122.9 281.3h0M122.3 284.5h0M122.2 291h0M123.4 289.6h0M121.9 291.6h0M117.7 290.6h0M123.2 294.4h0M123.9 296.4h0M119.4 282.1h0M114.5 287.1h0M117.7 283.3h0M124.8 285.6h0M119.5 291.9h0" stroke="#3aaa38" stroke-linecap="round" fill="none"/><path d="M104.9 265.2h0M100.7 276.4h0M94.8 275.1h0M95.2 241.9h0M103.2 275.2h0M99.7 277.4h0M114.6 251.1h0M104.6 283.9h0M99.3 251h0M120.7 262.6h0M105.4 281.2h0M124.3 274.4h0M87.4 244.7h0M119.6 276.9h0M117.9 267.2h0M107.8 243.4h0M100.5 268.1h0M94.3 243.8h0M104.4 273.5h0M119.9 267.2h0M88.2 244.7h0M100.9 263.3h0M111.3 250h0M101.2 270.2h0M82.8 261.7h0M107.7 260.8h0M90.4 243h0M123.7 279.8h0" stroke="#ef7470" stroke-linecap="round" fill="none"/><path d="M190.8 265.6h0M192.7 263.8h0M224 271.4h0M230.1 279.5h0M214.6 255.6h0M189.5 264.7h0M229.6 272h0M227.4 280.6h0M201.7 261.9h0M214.7 264h0M190.2 266.8h0M229 285.5h0M231.1 272.3h0M229.8 276.5h0M197.5 263.1h0M198.4 260.9h0M218.1 268.6h0M229.8 274.1h0M226.3 270.1h0M200.9 263.9h0M198.9 260.2h0M212.7 254.2h0M213.3 256.4h0M218.1 262.6h0M209.1 257.6h0M226.3 263.2h0M220.9 265.3h0M215.9 267.1h0M195.6 262.6h0M221.6 269.4h0M187.9 263.4h0M188.2 266h0M233.7 282.3h0M216.6 266.5h0M214.3 252.8h0M229.9 275.3h0M201.7 261.1h0M220.5 264.9h0M223.1 269.2h0M221.3 256.9h0M233.1 287.3h0M229.6 276.4h0M192.8 260.2h0M220.1 261h0M228 270.3h0M223.1 273.6h0M186.5 261.2h0M212.1 253.7h0M223 262.6h0M222.2 263.3h0M202.6 256.5h0M219.2 259.2h0M208.3 250.4h0M228.1 278.2h0M231.7 284.4h0M195.7 251h0M197.1 259h0M220.5 269.9h0M190.2 259.4h0M224.4 260.1h0M193.7 260.2h0M228 284.6h0M226.7 274.1h0M196.5 261.8h0M222.7 266.6h0M228.2 269.9h0M223.5 262.2h0M212.9 266.3h0M203.1 261.4h0M228.2 272.1h0M215.7 268h0M219.1 264.7h0M207.4 260.3h0M208 253.1h0M188.1 258.5h0M221.8 263.2h0M219.5 254.5h0M221 271.1h0M213.5 259.8h0M203.8 260.8h0M231.2 275.2h0M210.8 263.8h0M195.7 260.8h0M226.9 281.3h0M197.6 253.6h0M226.6 272.3h0M204.7 254.8h0M191.8 265.7h0M194.3 261.3h0M192.1 256.6h0M203.6 250.8h0M205.9 257.6h0M209.7 254h0M218.3 257.4h0M224.8 269h0M226.7 266.1h0M215.7 258.4h0M227.2 263.2h0M188.4 259.8h0M198.3 262.5h0M206.9 256.5h0M214.8 257.6h0M233 276.8h0M227.1 265.1h0M215.2 266.7h0M190.9 267h0M208.8 262h0M190 261h0M207.8 264.9h0M223.3 264.7h0M197.1 260.9h0M209.3 261.7h0M221.4 270.6h0M225.7 270.1h0M223.2 269.7h0M202.1 260.6h0M205.4 262.9h0M227.5 283.2h0M214.1 253.6h0M223.7 260.2h0M207.1 258.9h0M217.5 258.1h0M213.4 266.1h0M214.2 256.8h0M226.2 269.7h0M210.5 261.5h0M214.5 262.7h0M209.3 253.4h0M218.3 258.4h0M229.7 268.3h0M197.3 254.5h0M210.4 251.1h0M198.1 259.2h0M231.2 280.2h0M216.2 263.7h0M196.2 259.9h0M200.7 262.5h0M229.3 269.8h0M193.3 263h0M224.5 272h0M199.7 262.2h0M226.7 279.9h0M211.5 265.4h0M196.7 254h0M195.4 252.5h0M225.3 275.9h0M224.6 276.2h0M198.9 253.5h0M216.9 259.2h0M233.6 280h0M198.7 260h0M222.8 271.1h0M189 261.2h0M200.4 257h0M213.3 258.9h0M229.6 286.4h0M224.9 260.9h0M222.9 265.2h0M199.5 258.7h0M204.3 251.5h0M186.9 269.3h0M178 262.5h0M182.4 266.5h0M178.2 266.8h0M180.4 270.2h0M183.2 263.5h0M185.6 270.3h0M188.3 269.6h0" stroke="#6c90d8" stroke-linecap="round" fill="none"/><path d="M207 264.3h0M210.1 256.9h0M229.7 277.3h0M230.2 287h0M227.8 267.9h0M218.6 255.9h0M231.7 283h0M200.8 251.3h0M193.1 253.7h0M232.7 286.9h0M217.8 262.3h0M215.5 264.9h0M191.5 259.9h0M212.6 256.9h0M230.7 285.1h0M198.7 261.7h0M230.1 281h0M190 261.2h0M206.9 257.3h0M201.3 259.3h0M192.2 259.9h0M226.6 276.5h0" stroke="#ef7470" stroke-linecap="round" fill="none"/><path d="M119.1 345.6h0M119.7 369.7h0M121.5 329.2h0M123.4 332.5h0M130.6 345.7h0M134.7 393.8h0M124.2 341h0M135.9 406h0M139.3 393.1h0M124.7 369.1h0M119.2 367.2h0M119.1 338.2h0M126.8 364.7h0M122.2 381.2h0M139 395.6h0M122.7 349.9h0M124.7 377.4h0M126 351.4h0M131.5 344.2h0M134.5 383.2h0M139.3 405.6h0M135.5 384h0M120.6 361.3h0M126.5 337.1h0M130.9 344.3h0M132.8 353h0M131.9 367h0M133.5 391.7h0M125.5 338.4h0M136.5 389.2h0M137.8 398.7h0M120.6 364.8h0M129.1 393.7h0M128.4 330.9h0M123.4 386.9h0M119 364.1h0M128.9 392h0M122 344.4h0M132.7 384.4h0M121.4 343.2h0M116.7 336.1h0M134.7 395.3h0M126.7 392.9h0M128.3 378.3h0M127.4 326.9h0M126.3 350.7h0M126.1 346.1h0M131.9 327.9h0M124.4 333.7h0M132.3 400.5h0M130.4 397.5h0M126.5 327.5h0M130.1 391.2h0M123.1 365.5h0M134.1 376.4h0M125.2 375.5h0M124.4 365.7h0M123.6 346.6h0M127.1 354.9h0M129.9 363.4h0M136.5 398.7h0M127.7 356.5h0M129.5 400h0M128.7 395.7h0M123.5 383.8h0M129.2 382.8h0M126 336.9h0M114.4 333.1h0M124.2 380.7h0M122.8 379.6h0M128.1 330.1h0M128.7 382.4h0M129.6 352h0M130.1 380.9h0M138 390.5h0M125 390.9h0M132.4 359.8h0M126.7 368.2h0M115.7 332.5h0M117.9 344.3h0M119.3 350.3h0M124.5 388.9h0M130.1 336.4h0M132.2 376.3h0M119.6 369.3h0M128 330.6h0M117.9 340.5h0M138.9 404.1h0M125.3 373.2h0M115.5 337.3h0M126.8 335.1h0M126.5 371.9h0M124.4 367.1h0M131.7 401.7h0M118.3 341.2h0M131.1 403.3h0M119.9 366.4h0M139 392.3h0M132.8 330.2h0M132.9 388.4h0M115 350.8h0M132.3 404.2h0M139.4 396.6h0M130.5 343.9h0M122.6 343.8h0M129.6 333.9h0M135.5 381.9h0M135.5 387.6h0M132 353.1h0M138.5 392.4h0M117.3 345.8h0M126.3 346.1h0M133.1 335.2h0M130.5 352h0M127.3 373.6h0M127.7 394.3h0M119.2 345.8h0M117 364.8h0M125.9 356.1h0M139.1 400.6h0M119.9 332.2h0M122.1 365.7h0M115.2 340.8h0M131.8 379.5h0M120.4 335.8h0M129.4 335.3h0M125.4 329.7h0M134.2 401.7h0M116.8 358h0M122.1 364.2h0M117.1 353.3h0M127.8 331.9h0M129.3 375.9h0M124.4 361.5h0M122.2 339.3h0M122.9 383h0M129.1 339.7h0M126.5 340.9h0M117.6 335.1h0M118.6 342h0M126.2 382.3h0M115.9 354.1h0M124.9 367h0M132.3 370.3h0M128.1 350.2h0M128.2 370.5h0M134.4 368.4h0M119.5 339.9h0M129.6 393.9h0M132.2 392.2h0M116.1 332.8h0M129.2 393h0M126.7 330.7h0M128.1 358.9h0M132.1 341.7h0M126.1 347.1h0M118.5 355.4h0M131.9 354.7h0M116.4 352.4h0M126 368.3h0M117.2 335.8h0M115.8 358.4h0M131.9 371.7h0M125.4 346.8h0M126.1 384.5h0M114.6 339h0M126.4 349.2h0M114.4 352.5h0M118.6 344.2h0M129.8 380.1h0M138.6 406.5h0M123.3 383.2h0M132.9 394.1h0M127.9 331.9h0M121.5 360.4h0M128.8 345.3h0M140.4 401.7h0M117.9 335.1h0M115.4 342.6h0M130.1 374.8h0M119.6 370.7h0M124.1 335.7h0M130.4 366.5h0M126.1 342.8h0M136.6 401.7h0M122.3 333.4h0M128.8 358.6h0M125.6 371.4h0M134.4 400.5h0M135.9 401.6h0M123 327h0M121.4 382.2h0M124.2 377.4h0M127.5 390h0M138.3 411.4h0M127.6 362h0M121.2 344.7h0M138 391.2h0M127.1 381.5h0M140.2 404.5h0M119.4 351.7h0M117 337.1h0M134.7 377.3h0M124.5 364.3h0M136.3 409.8h0M130.6 346.1h0M119.4 344.5h0M134 343.3h0M125.8 353.5h0M127.6 334.1h0M131.9 334.7h0M127.7 340.1h0M130.3 331.7h0M116.8 343.9h0M130.7 377.2h0M124.1 328.8h0M131.9 333.3h0M124.5 342h0M121.8 384.4h0M118.4 341.2h0M120.8 355.5h0M133.2 342.5h0M117.5 349.1h0M129.6 326.8h0M124.2 373.1h0M133.1 382.1h0M128.8 382.3h0M122.7 331.6h0M121 327.7h0M132.8 370.2h0M137.4 392.3h0M136.4 386.6h0M136.5 385.7h0M126.3 331.9h0M138.2 411.1h0M120.6 333.7h0M138 388.1h0M121.6 385.2h0M128.8 368.1h0M137.9 406.3h0M136.9 401.1h0M121.4 361.3h0M121.5 354.6h0M135.9 408.6h0M118.5 350.2h0M130.2 365.4h0M128.1 376.9h0M115.1 331.2h0M119.5 329.1h0M124.4 374.8h0M127.1 381.4h0M129.6 388.1h0M129 339.1h0M127.2 349.8h0M125.3 363.8h0M130 327.6h0M127.5 351.9h0M129 360.4h0M128.9 401.2h0M126.8 350h0M114.7 339.7h0M131.7 371.9h0M131.9 329.7h0M128.8 372.2h0M122.8 365.3h0M128.5 348.8h0M132.7 352.9h0M140.2 401h0M130.1 391.6h0M122.2 359.4h0M129.8 363.5h0M136.2 380.3h0M115 354.9h0M122.8 388.7h0M117.7 346.3h0M126.1 353.7h0M118.3 336.7h0M128.6 381.8h0M139.1 408.3h0M126 344.6h0M130.6 347.6h0M130.5 348.6h0M132.4 382.9h0M134.5 377.6h0M132.3 397.4h0M129.5 389.4h0M127.2 364.5h0M123.9 358.1h0M129.2 358.6h0M130 336.4h0M135 400.7h0M127.1 382.6h0M131.8 394.8h0M127.1 345.1h0M128.6 371.6h0M130.5 385.4h0M121.4 332.6h0M133.6 393.4h0M132.3 382.3h0M133.9 373.4h0M131.4 384.4h0M132.3 394h0M127.4 337.7h0M131.2 332.6h0M136.9 388.1h0M124.3 362.7h0M124.9 326h0M126.6 389.9h0M123.1 378.1h0M124.8 389.5h0M123.9 335.2h0M126.2 364.5h0M129.1 351.5h0M127.4 393.1h0M119.1 373h0M124.9 380.9h0M131.1 330.9h0M124.1 330.6h0M119.2 336.1h0M140.4 398h0M122.2 347.4h0M136 388.8h0M117.8 369.1h0M131.9 334.8h0M128.4 330.9h0M124.5 337.8h0M135.3 392.3h0M125.5 336.5h0M114.5 351.2h0M130.6 368.4h0M124.8 326.6h0M125.5 389h0M131.3 355.3h0M130.1 379.4h0M130.5 345h0M118.3 359.4h0M135.1 402.5h0M118.7 348.8h0M134.1 391.6h0M121.5 336.7h0M124.4 350.5h0M125.5 372.6h0M127 375.2h0M128.3 372.5h0M127.3 333.5h0M111.5 296.5h0M115.9 297.2h0M115.5 306h0M138.5 309.5h0M133.7 321.5h0M171.4 264h0M146 331h0M150 316h0M226 289h0M228 292h0M145.5 373.6h0M135.5 356.8h0M138.3 380.9h0M139.1 339.8h0M143 357.8h0M141.4 394.9h0M139.5 368.3h0M138.1 336.8h0M138.2 350.2h0M136 343h0M139.8 378.2h0M144.7 385.9h0M141.8 385.4h0M135 344.7h0M142.7 356.3h0M135.9 356h0M139.5 388.4h0M144.5 382.3h0M144.8 388.7h0M139.8 363.5h0M136.8 363.9h0M145.1 386.8h0M142.2 367.2h0M136.2 369.1h0M142.3 336h0M142.4 384.8h0M141.2 367.4h0M136.3 369.8h0M142.6 389.8h0M141.4 382.2h0" stroke="#1fb8c4" stroke-linecap="round" fill="none"/><path d="M118.5 357.7h0M117 332h0M114.1 338.4h0M116.4 340.3h0M125 386.9h0M131.9 398.1h0M125.4 334.6h0M131.9 405.8h0M119.3 369.6h0M118.1 327.8h0M128.4 361.9h0M121.9 346.2h0M125.3 392h0M128.5 382.2h0" stroke="#ef7470" stroke-linecap="round" fill="none"/><path d="M156 410.3h0M207.9 432.1h0M197.5 429.5h0M181.1 402.2h0M199.4 393.1h0M245.1 385.3h0M210.8 380.1h0M206.7 446.5h0M214.8 413.3h0M152.9 398.1h0M190.3 424h0M194.4 383.8h0M199.1 393.9h0M228.4 402.4h0M191.4 425.6h0M199.7 399.3h0M153.4 401.7h0M232 368.2h0M235.1 405.2h0M215.8 417.4h0M195.6 378.1h0M181.7 391.5h0M223.4 372.3h0M212.5 411.5h0M213.1 372.5h0M232.2 374.1h0M208.6 380.5h0M176.9 388.9h0M233.3 405.4h0M164.5 407.3h0" stroke="#ef7470" stroke-linecap="round" fill="none"/><path d="M291 349.3h0M293.8 341.9h0M290.4 350.7h0M287.6 346.2h0M288 351.2h0M294.6 341.7h0M291.8 349.2h0M294.4 334.7h0M296.3 334.6h0M287.1 348.4h0M286.5 343.4h0M289.2 338.2h0M288 338.7h0M296.8 341.5h0M293 335h0M295.1 349h0M290.6 345.2h0M289.1 333.1h0M287.6 352.3h0M294.2 350.9h0M294.6 344.3h0M290.9 340.9h0M299.1 338.6h0M289.6 333.7h0M289.3 352h0M290.3 336.9h0M293.3 339.1h0M295.2 346.9h0M288 335.8h0M291.7 354.3h0M298 337.9h0M295.2 337.6h0M293.5 349.4h0M288.1 354.6h0M289.7 351.1h0M294.1 338.3h0M290.3 344.2h0M296.1 334.7h0M300.2 343.3h0M296.9 340.2h0M288.8 331.4h0M292.9 340.7h0M291.1 348.3h0M290.8 355.3h0M287.2 335.6h0M290.7 342.8h0M295.6 337h0M298.6 339.3h0M298.3 344.7h0M288.9 332.7h0M297.1 341.7h0M288.2 340.5h0M295.5 347.3h0M294.4 345.7h0M295.3 345.3h0M296.1 347h0M288.6 340.8h0M297.3 344.4h0M288 339.5h0M293.3 339.4h0" stroke="#c770bf" stroke-linecap="round" fill="none"/><path d="M277 335h0M286 331h0M286 334h0M281 336h0M231.5 292.5h0" stroke="#ef7470" stroke-linecap="round" fill="none"/><path d="M280 356h0M285 361h0M280 362h0M289 362h0M275 370h0M285.8 347h0" stroke="#b8a00c" stroke-linecap="round" fill="none"/><path d="M278 344h0M284 363h0M226.5 451h0" stroke="#c770bf" stroke-linecap="round" fill="none"/></g></defs><use href="#umapb" stroke-width="3"/><text x="97.6" y="242.1" font-size="12.3">CCR4/Helios+</text><text x="198.2" y="246" font-size="12.3">LGALS1+</text><text x="156.7" y="304.3" font-size="12.3">canonical Tregs</text><text x="273.5" y="325" font-size="12.3">CD8+</text><text x="104.7" y="366.8" font-size="12.3">KLRB1+</text><text x="184.6" y="422.5" font-size="12.3">CCR7+</text><path d="M54.6 458V470.5H67" fill="none" stroke="#444" stroke-width="0.8"/><path d="M52.8 458.5L54.6 454.5L56.4 458.5Z" fill="#444"/><path d="M66.5 468.7L70.3 470.5L66.5 472.3Z" fill="#444"/><text x="75" y="472.6" font-size="7.2" fill="#333">UMAP-1</text><text transform="translate(57.2 452.8) rotate(-90)" font-size="7.2" fill="#333">UMAP-2</text><text x="-0.8" y="14" font-size="26" font-weight="bold">a</text><text x="-1" y="239.7" font-size="22.5" font-weight="bold">b</text><text x="345.2" y="240" font-size="22.5" font-weight="bold">c</text><text x="-1" y="529.2" font-size="22.5" font-weight="bold">d</text><text x="231.3" y="528.4" font-size="22.5" font-weight="bold">e</text><text x="463.2" y="529.2" font-size="22.5" font-weight="bold">f</text><rect x="45.5" y="26.5" width="389" height="164.5" fill="none" stroke="#c8c8c8" stroke-width="1"/><text x="59.2" y="84" font-size="9.6" font-weight="bold" fill="#161616">Olygoarthritic</text><text x="59.2" y="97" font-size="9.6" font-weight="bold" fill="#161616">PsA</text><text x="59.2" y="110" font-size="9.6" font-weight="bold" fill="#161616">(n=3)</text><g><rect x="137.4" y="54" width="9" height="39" rx="4.5" ry="4.5" fill="#eef0f1" stroke="#b9bec2" stroke-width="0.6"/><path d="M137.8 59.5h8.2v29a4.1 4.1 0 0 1 -8.2 0z" fill="#b3343e"/><rect x="138.8" y="61.5" width="3.4" height="24" fill="#f3ece9"/><rect x="137.2" y="53.3" width="9.4" height="2.4" rx="1" fill="#c9ced1"/></g><g><rect x="137.6" y="111.5" width="9" height="38.5" rx="4.5" ry="4.5" fill="#f1f2f0" stroke="#bcc0c3" stroke-width="0.6"/><path d="M138 137.5h8.2v8a4.1 4.1 0 0 1 -8.2 0z" fill="#e1ad23"/><rect x="139" y="114.5" width="3.2" height="22" fill="#e4e2dc"/><rect x="137.4" y="110.8" width="9.4" height="2.4" rx="1" fill="#c9ced1"/></g><defs><linearGradient id="bn" x1="0" y1="0" x2="0" y2="1"><stop offset="0" stop-color="#e4d0a5" stop-opacity="0"/><stop offset="0.3" stop-color="#e4d0a5"/><stop offset="1" stop-color="#e4d0a5"/></linearGradient><linearGradient id="bn2" x1="0" y1="0" x2="0" y2="1"><stop offset="0" stop-color="#e4d0a5"/><stop offset="0.7" stop-color="#e4d0a5"/><stop offset="1" stop-color="#e4d0a5" stop-opacity="0.2"/></linearGradient></defs><g><path d="M112.5 150 L117 151 L118.5 166 L113.5 166 Z" fill="#efe7d3"/><path d="M119 113 L136 113 L136.5 125 Q139.5 130 138.5 137.5 Q133 140.5 127 138.5 Q121 136.5 115.5 139.5 Q113.5 133 116.5 127 L118.5 124 Z" fill="url(#bn)"/><path d="M114.5 131 Q109.8 142 114.5 153.5" fill="none" stroke="#a3b2c2" stroke-width="1.6"/><path d="M114.6 133 Q112 142 114.8 151 L118.5 149 Q116.5 142 118 135 Z" fill="#c93d50"/><path d="M115 139.8 Q121 137 127 139.5 Q133 141.5 138.5 138 L138.5 143.5 Q133 146.5 127 144.5 Q121 142.5 115.5 145.5 Z" fill="#e0566a"/><path d="M116 142.3 Q121 139.8 127 142 Q133 144 138.5 140.8" fill="none" stroke="#b9c3cf" stroke-width="0.8"/><path d="M115.5 145.8 Q121 143.2 127 145.2 Q133 147.2 138.5 144.2 L138 151 Q135 154 134.5 167 L122 167 Q121.5 154 117 151 Z" fill="url(#bn2)"/></g><text x="154.5" y="70" font-size="6.1" fill="#2a2a2a">PERIPHERAL</text><text x="154.5" y="78.1" font-size="6.1" fill="#2a2a2a">BLOOD</text><text x="154.5" y="131" font-size="6.1" fill="#2a2a2a">SYNOVIAL</text><text x="154.5" y="139" font-size="6.1" fill="#2a2a2a">FLUID</text><path d="M154.5 83.5H184.5V120.5H154.5M184.5 101.5H218" fill="none" stroke="#333" stroke-width="1.1"/><path d="M217 99.2L221.6 101.5L217 103.8Z" fill="#333"/><g><path d="M210.5 57 L214 53.8 L229 67.5 L225.5 70.8 Z" fill="#e8eef0" stroke="#9aa5ab" stroke-width="0.8"/><path d="M227 70.5 Q229.5 72.5 232 72.5" fill="none" stroke="#9aa5ab" stroke-width="0.8"/><path d="M232 74 L249.5 74 L249.5 98 L241.8 127.5 Q240.7 129.5 239.6 127.5 L232 98 Z" fill="#eef2f3" stroke="#b0b9be" stroke-width="0.8"/><path d="M232.4 88.5 L249.1 88.5 L249.1 98 L241.6 126.8 Q240.7 128.3 239.8 126.8 L232.4 98 Z" fill="#bfe3f3"/><rect x="231" y="71.5" width="19.6" height="2.8" rx="0.8" fill="#e4e8ea" stroke="#a7b0b5" stroke-width="0.6"/></g><circle cx="235.4" cy="92.1" r="2" fill="#2f7f7d" stroke="#555" stroke-width="0.3"/><circle cx="245.4" cy="92.1" r="2" fill="#3c8c3a" stroke="#555" stroke-width="0.3"/><circle cx="240.6" cy="96.1" r="2" fill="#a5347a" stroke="#555" stroke-width="0.3"/><circle cx="237.4" cy="101.7" r="2" fill="#9a5a2c" stroke="#555" stroke-width="0.3"/><circle cx="244.3" cy="105.1" r="2" fill="#cf8f22" stroke="#555" stroke-width="0.3"/><circle cx="240.3" cy="109.7" r="2" fill="#2d7b80" stroke="#555" stroke-width="0.3"/><circle cx="240.3" cy="117.4" r="2" fill="#9b5428" stroke="#555" stroke-width="0.3"/><circle cx="267.6" cy="82.9" r="10" fill="#86c9a0"/><circle cx="268.8" cy="83.4" r="5.7" fill="#2f9e63"/><circle cx="268.4" cy="109.7" r="10" fill="#3f6e4d"/><circle cx="269.6" cy="110.2" r="5.7" fill="#1b4f2e"/><text x="280" y="85.2" font-size="7.1" fill="#161616">memory CD4+</text><text x="280" y="109.2" font-size="7.1" fill="#161616">memory CD8+</text><path d="M333.9 101.6H344" stroke="#333" stroke-width="1.2"/><path d="M343 99.3L347.5 101.6L343 103.9Z" fill="#333"/><g><path d="M393 73 L413 81 Q418 83 418 88 L418 114 L395 123 Z" fill="#d5d8da"/><path d="M393 73 L399 74 L400 121 L395 123Z" fill="#eceeef"/><path d="M395 110 L418 105 L418 114 L395 123 Z" fill="#8f9397"/><path d="M352 74 Q352 72.5 354 72.5 L392 71.8 Q395 72 395 74 L395 110 L352 110 Z" fill="#3d3f42"/><path d="M351.5 109.5 L395 109.5 L395 123 L356 120.5 Q351.5 120 351.5 117 Z" fill="#9da1a5"/><path d="M353.5 111.5 L393 111.5 L393 117.5 L353.5 117.5 Z" fill="#b4b8bb"/><rect x="357.6" y="80" width="27.8" height="19.8" fill="#24272a"/><rect x="357.6" y="80" width="27.8" height="6.5" fill="#4a6fa3"/><circle cx="370.6" cy="90.3" r="4" fill="#2f3235" stroke="#4a4d50" stroke-width="0.6"/><path d="M370.6 88.3 L372.3 91.4 L368.9 91.4Z" fill="#d8d8d8"/></g><text x="387.8" y="137.6" font-size="6.9" font-weight="bold" text-anchor="middle" fill="#161616">scRNAseq</text><text x="387.5" y="145.5" font-size="7.2" text-anchor="middle" fill="#161616">(10x Chromium)</text><text x="362" y="187.5" font-size="7.15" fill="#161616">Penkava et al., 2020</text><path d="M434.7 101.2H448" stroke="#333" stroke-width="1.2"/><path d="M447 98.9L451.5 101.2L447 103.5Z" fill="#333"/><rect x="455.30" y="72.20" width="3.94" height="1.30" fill="#c596c2"/><rect x="459.19" y="72.20" width="3.94" height="1.30" fill="#d0b4cf"/><rect x="463.07" y="72.20" width="3.94" height="1.30" fill="#d0b6d0"/><rect x="466.96" y="72.20" width="3.94" height="1.30" fill="#cfb1cd"/><rect x="470.85" y="72.20" width="3.94" height="1.30" fill="#d3bed3"/><rect x="474.74" y="72.20" width="3.94" height="1.30" fill="#cca9ca"/><rect x="478.62" y="72.20" width="3.94" height="1.30" fill="#dfdfe2"/><rect x="482.51" y="72.20" width="3.94" height="1.30" fill="#e4eee8"/><rect x="486.40" y="72.20" width="3.94" height="1.30" fill="#d3dfdc"/><rect x="490.29" y="72.20" width="3.94" height="1.30" fill="#aabdbf"/><rect x="494.18" y="72.20" width="3.94" height="1.30" fill="#c9d7d4"/><rect x="498.06" y="72.20" width="3.94" height="1.30" fill="#a7babc"/><rect x="501.95" y="72.20" width="3.94" height="1.30" fill="#e3eae7"/><rect x="505.84" y="72.20" width="3.94" height="1.30" fill="#e2e7e5"/><rect x="509.73" y="72.20" width="3.94" height="1.30" fill="#dce8e3"/><rect x="513.61" y="72.20" width="3.94" height="1.30" fill="#e4eee8"/><rect x="455.30" y="73.45" width="3.94" height="1.30" fill="#cbd9d6"/><rect x="459.19" y="73.45" width="3.94" height="1.30" fill="#dce7e2"/><rect x="463.07" y="73.45" width="3.94" height="1.30" fill="#e4eee8"/><rect x="466.96" y="73.45" width="3.94" height="1.30" fill="#e1e4e4"/><rect x="470.85" y="73.45" width="3.94" height="1.30" fill="#cbd9d6"/><rect x="474.74" y="73.45" width="3.94" height="1.30" fill="#dde8e3"/><rect x="478.62" y="73.45" width="3.94" height="1.30" fill="#e2e7e5"/><rect x="482.51" y="73.45" width="3.94" height="1.30" fill="#e2ede7"/><rect x="486.40" y="73.45" width="3.94" height="1.30" fill="#d9e5e0"/><rect x="490.29" y="73.45" width="3.94" height="1.30" fill="#a3b7b9"/><rect x="494.18" y="73.45" width="3.94" height="1.30" fill="#c0cfce"/><rect x="498.06" y="73.45" width="3.94" height="1.30" fill="#b8c9c9"/><rect x="501.95" y="73.45" width="3.94" height="1.30" fill="#d9e5e1"/><rect x="505.84" y="73.45" width="3.94" height="1.30" fill="#d4bfd4"/><rect x="509.73" y="73.45" width="3.94" height="1.30" fill="#e4eee8"/><rect x="513.61" y="73.45" width="3.94" height="1.30" fill="#e1e3e4"/><rect x="455.30" y="74.70" width="3.94" height="1.30" fill="#b365ac"/><rect x="459.19" y="74.70" width="3.94" height="1.30" fill="#d3bed3"/><rect x="463.07" y="74.70" width="3.94" height="1.30" fill="#c4d3d1"/><rect x="466.96" y="74.70" width="3.94" height="1.30" fill="#dfeae5"/><rect x="470.85" y="74.70" width="3.94" height="1.30" fill="#cad8d5"/><rect x="474.74" y="74.70" width="3.94" height="1.30" fill="#dddae0"/><rect x="478.62" y="74.70" width="3.94" height="1.30" fill="#e3ede8"/><rect x="482.51" y="74.70" width="3.94" height="1.30" fill="#d6e2de"/><rect x="486.40" y="74.70" width="3.94" height="1.30" fill="#dbd4dd"/><rect x="490.29" y="74.70" width="3.94" height="1.30" fill="#b9c9c9"/><rect x="494.18" y="74.70" width="3.94" height="1.30" fill="#b4c5c5"/><rect x="498.06" y="74.70" width="3.94" height="1.30" fill="#becdcc"/><rect x="501.95" y="74.70" width="3.94" height="1.30" fill="#c9a0c6"/><rect x="505.84" y="74.70" width="3.94" height="1.30" fill="#e4ece8"/><rect x="509.73" y="74.70" width="3.94" height="1.30" fill="#ccd9d7"/><rect x="513.61" y="74.70" width="3.94" height="1.30" fill="#b0c2c2"/><rect x="455.30" y="75.95" width="3.94" height="1.30" fill="#bb7bb6"/><rect x="459.19" y="75.95" width="3.94" height="1.30" fill="#e2e7e5"/><rect x="463.07" y="75.95" width="3.94" height="1.30" fill="#e3e9e6"/><rect x="466.96" y="75.95" width="3.94" height="1.30" fill="#d5e1dd"/><rect x="470.85" y="75.95" width="3.94" height="1.30" fill="#d9e4e0"/><rect x="474.74" y="75.95" width="3.94" height="1.30" fill="#e0e2e3"/><rect x="478.62" y="75.95" width="3.94" height="1.30" fill="#af58a7"/><rect x="482.51" y="75.95" width="3.94" height="1.30" fill="#d5e1dd"/><rect x="486.40" y="75.95" width="3.94" height="1.30" fill="#dae6e1"/><rect x="490.29" y="75.95" width="3.94" height="1.30" fill="#bdcdcc"/><rect x="494.18" y="75.95" width="3.94" height="1.30" fill="#b66db0"/><rect x="498.06" y="75.95" width="3.94" height="1.30" fill="#b8c8c8"/><rect x="501.95" y="75.95" width="3.94" height="1.30" fill="#cba8c9"/><rect x="505.84" y="75.95" width="3.94" height="1.30" fill="#e2e6e5"/><rect x="509.73" y="75.95" width="3.94" height="1.30" fill="#e3ede8"/><rect x="513.61" y="75.95" width="3.94" height="1.30" fill="#b6c7c7"/><rect x="455.30" y="77.21" width="3.94" height="1.30" fill="#bd7fb8"/><rect x="459.19" y="77.21" width="3.94" height="1.30" fill="#dfeae5"/><rect x="463.07" y="77.21" width="3.94" height="1.30" fill="#dad1db"/><rect x="466.96" y="77.21" width="3.94" height="1.30" fill="#dfdee1"/><rect x="470.85" y="77.21" width="3.94" height="1.30" fill="#c4d3d1"/><rect x="474.74" y="77.21" width="3.94" height="1.30" fill="#ddd9df"/><rect x="478.62" y="77.21" width="3.94" height="1.30" fill="#b66caf"/><rect x="482.51" y="77.21" width="3.94" height="1.30" fill="#e2e7e5"/><rect x="486.40" y="77.21" width="3.94" height="1.30" fill="#e3eae6"/><rect x="490.29" y="77.21" width="3.94" height="1.30" fill="#c89ec5"/><rect x="494.18" y="77.21" width="3.94" height="1.30" fill="#a8449e"/><rect x="498.06" y="77.21" width="3.94" height="1.30" fill="#b0c2c3"/><rect x="501.95" y="77.21" width="3.94" height="1.30" fill="#ceafcd"/><rect x="505.84" y="77.21" width="3.94" height="1.30" fill="#d7e3de"/><rect x="509.73" y="77.21" width="3.94" height="1.30" fill="#cfb2ce"/><rect x="513.61" y="77.21" width="3.94" height="1.30" fill="#acbec0"/><rect x="455.30" y="78.46" width="3.94" height="1.30" fill="#c2d1cf"/><rect x="459.19" y="78.46" width="3.94" height="1.30" fill="#c8d6d4"/><rect x="463.07" y="78.46" width="3.94" height="1.30" fill="#b465ac"/><rect x="466.96" y="78.46" width="3.94" height="1.30" fill="#d8e4e0"/><rect x="470.85" y="78.46" width="3.94" height="1.30" fill="#d4e1dd"/><rect x="474.74" y="78.46" width="3.94" height="1.30" fill="#cdabcb"/><rect x="478.62" y="78.46" width="3.94" height="1.30" fill="#dedbe0"/><rect x="482.51" y="78.46" width="3.94" height="1.30" fill="#d1deda"/><rect x="486.40" y="78.46" width="3.94" height="1.30" fill="#e3ebe7"/><rect x="490.29" y="78.46" width="3.94" height="1.30" fill="#ccaacb"/><rect x="494.18" y="78.46" width="3.94" height="1.30" fill="#aa4aa1"/><rect x="498.06" y="78.46" width="3.94" height="1.30" fill="#b8c9c8"/><rect x="501.95" y="78.46" width="3.94" height="1.30" fill="#d2bcd2"/><rect x="505.84" y="78.46" width="3.94" height="1.30" fill="#dfe0e2"/><rect x="509.73" y="78.46" width="3.94" height="1.30" fill="#c493c0"/><rect x="513.61" y="78.46" width="3.94" height="1.30" fill="#a2b6b8"/><rect x="455.30" y="79.71" width="3.94" height="1.30" fill="#aabdbe"/><rect x="459.19" y="79.71" width="3.94" height="1.30" fill="#c494c1"/><rect x="463.07" y="79.71" width="3.94" height="1.30" fill="#b973b2"/><rect x="466.96" y="79.71" width="3.94" height="1.30" fill="#e0e2e3"/><rect x="470.85" y="79.71" width="3.94" height="1.30" fill="#dce7e2"/><rect x="474.74" y="79.71" width="3.94" height="1.30" fill="#bb7bb6"/><rect x="478.62" y="79.71" width="3.94" height="1.30" fill="#cad8d5"/><rect x="482.51" y="79.71" width="3.94" height="1.30" fill="#dde8e3"/><rect x="486.40" y="79.71" width="3.94" height="1.30" fill="#e4ede8"/><rect x="490.29" y="79.71" width="3.94" height="1.30" fill="#c79cc5"/><rect x="494.18" y="79.71" width="3.94" height="1.30" fill="#bacaca"/><rect x="498.06" y="79.71" width="3.94" height="1.30" fill="#bececd"/><rect x="501.95" y="79.71" width="3.94" height="1.30" fill="#caa3c8"/><rect x="505.84" y="79.71" width="3.94" height="1.30" fill="#e3ebe7"/><rect x="509.73" y="79.71" width="3.94" height="1.30" fill="#cedbd8"/><rect x="513.61" y="79.71" width="3.94" height="1.30" fill="#b7c8c8"/><rect x="455.30" y="80.96" width="3.94" height="1.30" fill="#c5d4d2"/><rect x="459.19" y="80.96" width="3.94" height="1.30" fill="#c391c0"/><rect x="463.07" y="80.96" width="3.94" height="1.30" fill="#ba77b4"/><rect x="466.96" y="80.96" width="3.94" height="1.30" fill="#c595c1"/><rect x="470.85" y="80.96" width="3.94" height="1.30" fill="#c699c3"/><rect x="474.74" y="80.96" width="3.94" height="1.30" fill="#bd7fb8"/><rect x="478.62" y="80.96" width="3.94" height="1.30" fill="#d2dedb"/><rect x="482.51" y="80.96" width="3.94" height="1.30" fill="#e0ebe6"/><rect x="486.40" y="80.96" width="3.94" height="1.30" fill="#dce7e2"/><rect x="490.29" y="80.96" width="3.94" height="1.30" fill="#a3b7b9"/><rect x="494.18" y="80.96" width="3.94" height="1.30" fill="#b6c7c7"/><rect x="498.06" y="80.96" width="3.94" height="1.30" fill="#cfddd9"/><rect x="501.95" y="80.96" width="3.94" height="1.30" fill="#cfb2ce"/><rect x="505.84" y="80.96" width="3.94" height="1.30" fill="#dfeae5"/><rect x="509.73" y="80.96" width="3.94" height="1.30" fill="#e3ede7"/><rect x="513.61" y="80.96" width="3.94" height="1.30" fill="#9eb3b6"/><rect x="455.30" y="82.21" width="3.94" height="1.30" fill="#abbebf"/><rect x="459.19" y="82.21" width="3.94" height="1.30" fill="#cdaccb"/><rect x="463.07" y="82.21" width="3.94" height="1.30" fill="#b872b2"/><rect x="466.96" y="82.21" width="3.94" height="1.30" fill="#cdaccc"/><rect x="470.85" y="82.21" width="3.94" height="1.30" fill="#bc7cb6"/><rect x="474.74" y="82.21" width="3.94" height="1.30" fill="#b05aa7"/><rect x="478.62" y="82.21" width="3.94" height="1.30" fill="#e3e9e6"/><rect x="482.51" y="82.21" width="3.94" height="1.30" fill="#dcd5dd"/><rect x="486.40" y="82.21" width="3.94" height="1.30" fill="#e3ede8"/><rect x="490.29" y="82.21" width="3.94" height="1.30" fill="#cddad7"/><rect x="494.18" y="82.21" width="3.94" height="1.30" fill="#b9c9c9"/><rect x="498.06" y="82.21" width="3.94" height="1.30" fill="#d4e1dd"/><rect x="501.95" y="82.21" width="3.94" height="1.30" fill="#c597c2"/><rect x="505.84" y="82.21" width="3.94" height="1.30" fill="#dce7e2"/><rect x="509.73" y="82.21" width="3.94" height="1.30" fill="#e3ede7"/><rect x="513.61" y="82.21" width="3.94" height="1.30" fill="#cfdcd9"/><rect x="455.30" y="83.46" width="3.94" height="1.30" fill="#c3d2d0"/><rect x="459.19" y="83.46" width="3.94" height="1.30" fill="#e1e5e4"/><rect x="463.07" y="83.46" width="3.94" height="1.30" fill="#bc7db7"/><rect x="466.96" y="83.46" width="3.94" height="1.30" fill="#cddbd8"/><rect x="470.85" y="83.46" width="3.94" height="1.30" fill="#dedce0"/><rect x="474.74" y="83.46" width="3.94" height="1.30" fill="#b770b1"/><rect x="478.62" y="83.46" width="3.94" height="1.30" fill="#e4eee8"/><rect x="482.51" y="83.46" width="3.94" height="1.30" fill="#dde8e3"/><rect x="486.40" y="83.46" width="3.94" height="1.30" fill="#d3e0dc"/><rect x="490.29" y="83.46" width="3.94" height="1.30" fill="#c8d7d4"/><rect x="494.18" y="83.46" width="3.94" height="1.30" fill="#a2b6b8"/><rect x="498.06" y="83.46" width="3.94" height="1.30" fill="#dbe7e2"/><rect x="501.95" y="83.46" width="3.94" height="1.30" fill="#c79bc4"/><rect x="505.84" y="83.46" width="3.94" height="1.30" fill="#c3d2d1"/><rect x="509.73" y="83.46" width="3.94" height="1.30" fill="#cbd9d6"/><rect x="513.61" y="83.46" width="3.94" height="1.30" fill="#dfe0e2"/><rect x="455.30" y="84.72" width="3.94" height="1.30" fill="#dde8e3"/><rect x="459.19" y="84.72" width="3.94" height="1.30" fill="#e0e3e3"/><rect x="463.07" y="84.72" width="3.94" height="1.30" fill="#e3ede7"/><rect x="466.96" y="84.72" width="3.94" height="1.30" fill="#a8459e"/><rect x="470.85" y="84.72" width="3.94" height="1.30" fill="#e1e4e4"/><rect x="474.74" y="84.72" width="3.94" height="1.30" fill="#d9e5e0"/><rect x="478.62" y="84.72" width="3.94" height="1.30" fill="#dbe7e2"/><rect x="482.51" y="84.72" width="3.94" height="1.30" fill="#e4ece7"/><rect x="486.40" y="84.72" width="3.94" height="1.30" fill="#d4e0dc"/><rect x="490.29" y="84.72" width="3.94" height="1.30" fill="#9fb3b6"/><rect x="494.18" y="84.72" width="3.94" height="1.30" fill="#9cb1b4"/><rect x="498.06" y="84.72" width="3.94" height="1.30" fill="#dfe0e2"/><rect x="501.95" y="84.72" width="3.94" height="1.30" fill="#d9cfdb"/><rect x="505.84" y="84.72" width="3.94" height="1.30" fill="#dedce0"/><rect x="509.73" y="84.72" width="3.94" height="1.30" fill="#dae6e1"/><rect x="513.61" y="84.72" width="3.94" height="1.30" fill="#dce7e2"/><rect x="455.30" y="85.97" width="3.94" height="1.30" fill="#d5e2dd"/><rect x="459.19" y="85.97" width="3.94" height="1.30" fill="#e3ede8"/><rect x="463.07" y="85.97" width="3.94" height="1.30" fill="#dfdee1"/><rect x="466.96" y="85.97" width="3.94" height="1.30" fill="#a7419c"/><rect x="470.85" y="85.97" width="3.94" height="1.30" fill="#e3ede7"/><rect x="474.74" y="85.97" width="3.94" height="1.30" fill="#b6c7c7"/><rect x="478.62" y="85.97" width="3.94" height="1.30" fill="#e3ebe7"/><rect x="482.51" y="85.97" width="3.94" height="1.30" fill="#d2dfdb"/><rect x="486.40" y="85.97" width="3.94" height="1.30" fill="#e0eae5"/><rect x="490.29" y="85.97" width="3.94" height="1.30" fill="#cad8d6"/><rect x="494.18" y="85.97" width="3.94" height="1.30" fill="#e4eee8"/><rect x="498.06" y="85.97" width="3.94" height="1.30" fill="#e0e3e4"/><rect x="501.95" y="85.97" width="3.94" height="1.30" fill="#dcd5dd"/><rect x="505.84" y="85.97" width="3.94" height="1.30" fill="#c3d2d0"/><rect x="509.73" y="85.97" width="3.94" height="1.30" fill="#cddbd8"/><rect x="513.61" y="85.97" width="3.94" height="1.30" fill="#dbd3dd"/><rect x="455.30" y="87.22" width="3.94" height="1.30" fill="#e2e7e5"/><rect x="459.19" y="87.22" width="3.94" height="1.30" fill="#d9e5e0"/><rect x="463.07" y="87.22" width="3.94" height="1.30" fill="#e0eae5"/><rect x="466.96" y="87.22" width="3.94" height="1.30" fill="#a33798"/><rect x="470.85" y="87.22" width="3.94" height="1.30" fill="#dedee1"/><rect x="474.74" y="87.22" width="3.94" height="1.30" fill="#dfeae4"/><rect x="478.62" y="87.22" width="3.94" height="1.30" fill="#e3eee8"/><rect x="482.51" y="87.22" width="3.94" height="1.30" fill="#d1deda"/><rect x="486.40" y="87.22" width="3.94" height="1.30" fill="#dcd6de"/><rect x="490.29" y="87.22" width="3.94" height="1.30" fill="#e2e8e6"/><rect x="494.18" y="87.22" width="3.94" height="1.30" fill="#dde8e3"/><rect x="498.06" y="87.22" width="3.94" height="1.30" fill="#d1deda"/><rect x="501.95" y="87.22" width="3.94" height="1.30" fill="#e3ede8"/><rect x="505.84" y="87.22" width="3.94" height="1.30" fill="#dfe0e2"/><rect x="509.73" y="87.22" width="3.94" height="1.30" fill="#d7c7d7"/><rect x="513.61" y="87.22" width="3.94" height="1.30" fill="#d9ceda"/><rect x="455.30" y="88.47" width="3.94" height="1.30" fill="#dee9e4"/><rect x="459.19" y="88.47" width="3.94" height="1.30" fill="#dee9e4"/><rect x="463.07" y="88.47" width="3.94" height="1.30" fill="#d6e2de"/><rect x="466.96" y="88.47" width="3.94" height="1.30" fill="#a02d94"/><rect x="470.85" y="88.47" width="3.94" height="1.30" fill="#d9e5e0"/><rect x="474.74" y="88.47" width="3.94" height="1.30" fill="#e1e5e5"/><rect x="478.62" y="88.47" width="3.94" height="1.30" fill="#e3eae6"/><rect x="482.51" y="88.47" width="3.94" height="1.30" fill="#e2e8e6"/><rect x="486.40" y="88.47" width="3.94" height="1.30" fill="#d6e2de"/><rect x="490.29" y="88.47" width="3.94" height="1.30" fill="#dedbe0"/><rect x="494.18" y="88.47" width="3.94" height="1.30" fill="#e1ece6"/><rect x="498.06" y="88.47" width="3.94" height="1.30" fill="#d3dfdc"/><rect x="501.95" y="88.47" width="3.94" height="1.30" fill="#e3ede8"/><rect x="505.84" y="88.47" width="3.94" height="1.30" fill="#e4ece7"/><rect x="509.73" y="88.47" width="3.94" height="1.30" fill="#e4eee8"/><rect x="513.61" y="88.47" width="3.94" height="1.30" fill="#dfdfe2"/><rect x="455.30" y="89.72" width="3.94" height="1.30" fill="#dddae0"/><rect x="459.19" y="89.72" width="3.94" height="1.30" fill="#d7c7d7"/><rect x="463.07" y="89.72" width="3.94" height="1.30" fill="#e3ede7"/><rect x="466.96" y="89.72" width="3.94" height="1.30" fill="#a02d94"/><rect x="470.85" y="89.72" width="3.94" height="1.30" fill="#bfcfce"/><rect x="474.74" y="89.72" width="3.94" height="1.30" fill="#d9ceda"/><rect x="478.62" y="89.72" width="3.94" height="1.30" fill="#e4eee8"/><rect x="482.51" y="89.72" width="3.94" height="1.30" fill="#ddd9df"/><rect x="486.40" y="89.72" width="3.94" height="1.30" fill="#e1ebe6"/><rect x="490.29" y="89.72" width="3.94" height="1.30" fill="#e1e6e5"/><rect x="494.18" y="89.72" width="3.94" height="1.30" fill="#e1e4e4"/><rect x="498.06" y="89.72" width="3.94" height="1.30" fill="#dbe7e2"/><rect x="501.95" y="89.72" width="3.94" height="1.30" fill="#dce7e2"/><rect x="505.84" y="89.72" width="3.94" height="1.30" fill="#bbcbca"/><rect x="509.73" y="89.72" width="3.94" height="1.30" fill="#e1e5e4"/><rect x="513.61" y="89.72" width="3.94" height="1.30" fill="#e2ece7"/><rect x="455.30" y="90.97" width="3.94" height="1.30" fill="#e1ebe6"/><rect x="459.19" y="90.97" width="3.94" height="1.30" fill="#dddadf"/><rect x="463.07" y="90.97" width="3.94" height="1.30" fill="#e3e9e6"/><rect x="466.96" y="90.97" width="3.94" height="1.30" fill="#e3ebe7"/><rect x="470.85" y="90.97" width="3.94" height="1.30" fill="#a02d94"/><rect x="474.74" y="90.97" width="3.94" height="1.30" fill="#e4ece8"/><rect x="478.62" y="90.97" width="3.94" height="1.30" fill="#e0ebe5"/><rect x="482.51" y="90.97" width="3.94" height="1.30" fill="#cfb1cd"/><rect x="486.40" y="90.97" width="3.94" height="1.30" fill="#c597c2"/><rect x="490.29" y="90.97" width="3.94" height="1.30" fill="#d3dfdc"/><rect x="494.18" y="90.97" width="3.94" height="1.30" fill="#e1ebe6"/><rect x="498.06" y="90.97" width="3.94" height="1.30" fill="#d9cfdb"/><rect x="501.95" y="90.97" width="3.94" height="1.30" fill="#d8e4df"/><rect x="505.84" y="90.97" width="3.94" height="1.30" fill="#c699c3"/><rect x="509.73" y="90.97" width="3.94" height="1.30" fill="#e2ece6"/><rect x="513.61" y="90.97" width="3.94" height="1.30" fill="#c7d6d3"/><rect x="455.30" y="92.22" width="3.94" height="1.30" fill="#e1e4e4"/><rect x="459.19" y="92.22" width="3.94" height="1.30" fill="#d6c6d7"/><rect x="463.07" y="92.22" width="3.94" height="1.30" fill="#e2e7e5"/><rect x="466.96" y="92.22" width="3.94" height="1.30" fill="#d5e1dd"/><rect x="470.85" y="92.22" width="3.94" height="1.30" fill="#a7419d"/><rect x="474.74" y="92.22" width="3.94" height="1.30" fill="#d8e3df"/><rect x="478.62" y="92.22" width="3.94" height="1.30" fill="#d3bdd3"/><rect x="482.51" y="92.22" width="3.94" height="1.30" fill="#c79dc5"/><rect x="486.40" y="92.22" width="3.94" height="1.30" fill="#c493c0"/><rect x="490.29" y="92.22" width="3.94" height="1.30" fill="#e0e1e2"/><rect x="494.18" y="92.22" width="3.94" height="1.30" fill="#e2e7e5"/><rect x="498.06" y="92.22" width="3.94" height="1.30" fill="#d5e2de"/><rect x="501.95" y="92.22" width="3.94" height="1.30" fill="#dbe7e2"/><rect x="505.84" y="92.22" width="3.94" height="1.30" fill="#ceaecc"/><rect x="509.73" y="92.22" width="3.94" height="1.30" fill="#dad1db"/><rect x="513.61" y="92.22" width="3.94" height="1.30" fill="#dde8e3"/><rect x="455.30" y="93.48" width="3.94" height="1.30" fill="#d9e5e0"/><rect x="459.19" y="93.48" width="3.94" height="1.30" fill="#dfdee1"/><rect x="463.07" y="93.48" width="3.94" height="1.30" fill="#dbe6e2"/><rect x="466.96" y="93.48" width="3.94" height="1.30" fill="#d5e2dd"/><rect x="470.85" y="93.48" width="3.94" height="1.30" fill="#a53b9a"/><rect x="474.74" y="93.48" width="3.94" height="1.30" fill="#e0e1e2"/><rect x="478.62" y="93.48" width="3.94" height="1.30" fill="#e4ece8"/><rect x="482.51" y="93.48" width="3.94" height="1.30" fill="#dfeae4"/><rect x="486.40" y="93.48" width="3.94" height="1.30" fill="#dcd6de"/><rect x="490.29" y="93.48" width="3.94" height="1.30" fill="#dcd7de"/><rect x="494.18" y="93.48" width="3.94" height="1.30" fill="#cddbd8"/><rect x="498.06" y="93.48" width="3.94" height="1.30" fill="#d4e0dc"/><rect x="501.95" y="93.48" width="3.94" height="1.30" fill="#d7e3df"/><rect x="505.84" y="93.48" width="3.94" height="1.30" fill="#e1ece6"/><rect x="509.73" y="93.48" width="3.94" height="1.30" fill="#e4ece7"/><rect x="513.61" y="93.48" width="3.94" height="1.30" fill="#e3ede7"/><rect x="455.30" y="94.73" width="3.94" height="1.30" fill="#e4eee8"/><rect x="459.19" y="94.73" width="3.94" height="1.30" fill="#e2e7e5"/><rect x="463.07" y="94.73" width="3.94" height="1.30" fill="#d2dfdb"/><rect x="466.96" y="94.73" width="3.94" height="1.30" fill="#c5d4d2"/><rect x="470.85" y="94.73" width="3.94" height="1.30" fill="#a02d94"/><rect x="474.74" y="94.73" width="3.94" height="1.30" fill="#ddd9df"/><rect x="478.62" y="94.73" width="3.94" height="1.30" fill="#e3ece7"/><rect x="482.51" y="94.73" width="3.94" height="1.30" fill="#dee9e4"/><rect x="486.40" y="94.73" width="3.94" height="1.30" fill="#e1e5e4"/><rect x="490.29" y="94.73" width="3.94" height="1.30" fill="#e0eae5"/><rect x="494.18" y="94.73" width="3.94" height="1.30" fill="#d2dedb"/><rect x="498.06" y="94.73" width="3.94" height="1.30" fill="#dfeae4"/><rect x="501.95" y="94.73" width="3.94" height="1.30" fill="#e0e2e3"/><rect x="505.84" y="94.73" width="3.94" height="1.30" fill="#e3e9e6"/><rect x="509.73" y="94.73" width="3.94" height="1.30" fill="#e0e3e3"/><rect x="513.61" y="94.73" width="3.94" height="1.30" fill="#dde8e3"/><rect x="455.30" y="95.98" width="3.94" height="1.30" fill="#e1e5e4"/><rect x="459.19" y="95.98" width="3.94" height="1.30" fill="#dcd6de"/><rect x="463.07" y="95.98" width="3.94" height="1.30" fill="#e0eae5"/><rect x="466.96" y="95.98" width="3.94" height="1.30" fill="#dde8e3"/><rect x="470.85" y="95.98" width="3.94" height="1.30" fill="#ddd9df"/><rect x="474.74" y="95.98" width="3.94" height="1.30" fill="#a02d94"/><rect x="478.62" y="95.98" width="3.94" height="1.30" fill="#d4e0dc"/><rect x="482.51" y="95.98" width="3.94" height="1.30" fill="#dee9e4"/><rect x="486.40" y="95.98" width="3.94" height="1.30" fill="#dcd8df"/><rect x="490.29" y="95.98" width="3.94" height="1.30" fill="#e2e8e6"/><rect x="494.18" y="95.98" width="3.94" height="1.30" fill="#d9ceda"/><rect x="498.06" y="95.98" width="3.94" height="1.30" fill="#e1e4e4"/><rect x="501.95" y="95.98" width="3.94" height="1.30" fill="#e3eae7"/><rect x="505.84" y="95.98" width="3.94" height="1.30" fill="#dedce1"/><rect x="509.73" y="95.98" width="3.94" height="1.30" fill="#dce7e2"/><rect x="513.61" y="95.98" width="3.94" height="1.30" fill="#dedce0"/><rect x="455.30" y="97.23" width="3.94" height="1.30" fill="#c699c3"/><rect x="459.19" y="97.23" width="3.94" height="1.30" fill="#c4d3d1"/><rect x="463.07" y="97.23" width="3.94" height="1.30" fill="#e2e8e6"/><rect x="466.96" y="97.23" width="3.94" height="1.30" fill="#dee9e4"/><rect x="470.85" y="97.23" width="3.94" height="1.30" fill="#d4e1dd"/><rect x="474.74" y="97.23" width="3.94" height="1.30" fill="#a23397"/><rect x="478.62" y="97.23" width="3.94" height="1.30" fill="#e1e6e5"/><rect x="482.51" y="97.23" width="3.94" height="1.30" fill="#e3e9e6"/><rect x="486.40" y="97.23" width="3.94" height="1.30" fill="#e4ede8"/><rect x="490.29" y="97.23" width="3.94" height="1.30" fill="#e0e2e3"/><rect x="494.18" y="97.23" width="3.94" height="1.30" fill="#d8e4df"/><rect x="498.06" y="97.23" width="3.94" height="1.30" fill="#dfeae4"/><rect x="501.95" y="97.23" width="3.94" height="1.30" fill="#c087bb"/><rect x="505.84" y="97.23" width="3.94" height="1.30" fill="#d7e3df"/><rect x="509.73" y="97.23" width="3.94" height="1.30" fill="#ddd8df"/><rect x="513.61" y="97.23" width="3.94" height="1.30" fill="#e1ebe6"/><rect x="455.30" y="98.48" width="3.94" height="1.30" fill="#c69ac4"/><rect x="459.19" y="98.48" width="3.94" height="1.30" fill="#c1d0cf"/><rect x="463.07" y="98.48" width="3.94" height="1.30" fill="#d0b6d0"/><rect x="466.96" y="98.48" width="3.94" height="1.30" fill="#e4ede8"/><rect x="470.85" y="98.48" width="3.94" height="1.30" fill="#dfdee1"/><rect x="474.74" y="98.48" width="3.94" height="1.30" fill="#a33798"/><rect x="478.62" y="98.48" width="3.94" height="1.30" fill="#d7e3df"/><rect x="482.51" y="98.48" width="3.94" height="1.30" fill="#dfdfe2"/><rect x="486.40" y="98.48" width="3.94" height="1.30" fill="#dfeae4"/><rect x="490.29" y="98.48" width="3.94" height="1.30" fill="#e2ece7"/><rect x="494.18" y="98.48" width="3.94" height="1.30" fill="#e2ece7"/><rect x="498.06" y="98.48" width="3.94" height="1.30" fill="#dee9e4"/><rect x="501.95" y="98.48" width="3.94" height="1.30" fill="#bf86bb"/><rect x="505.84" y="98.48" width="3.94" height="1.30" fill="#e3ede8"/><rect x="509.73" y="98.48" width="3.94" height="1.30" fill="#dee9e4"/><rect x="513.61" y="98.48" width="3.94" height="1.30" fill="#d1dedb"/><rect x="455.30" y="99.73" width="3.94" height="1.30" fill="#dde8e3"/><rect x="459.19" y="99.73" width="3.94" height="1.30" fill="#b9c9c9"/><rect x="463.07" y="99.73" width="3.94" height="1.30" fill="#c595c1"/><rect x="466.96" y="99.73" width="3.94" height="1.30" fill="#dde8e3"/><rect x="470.85" y="99.73" width="3.94" height="1.30" fill="#dcd7de"/><rect x="474.74" y="99.73" width="3.94" height="1.30" fill="#dee9e4"/><rect x="478.62" y="99.73" width="3.94" height="1.30" fill="#e2e6e5"/><rect x="482.51" y="99.73" width="3.94" height="1.30" fill="#e1ebe6"/><rect x="486.40" y="99.73" width="3.94" height="1.30" fill="#a7409c"/><rect x="490.29" y="99.73" width="3.94" height="1.30" fill="#e4ece7"/><rect x="494.18" y="99.73" width="3.94" height="1.30" fill="#dfeae5"/><rect x="498.06" y="99.73" width="3.94" height="1.30" fill="#cfdcd9"/><rect x="501.95" y="99.73" width="3.94" height="1.30" fill="#dedde1"/><rect x="505.84" y="99.73" width="3.94" height="1.30" fill="#cfddd9"/><rect x="509.73" y="99.73" width="3.94" height="1.30" fill="#dce7e2"/><rect x="513.61" y="99.73" width="3.94" height="1.30" fill="#dad0db"/><rect x="455.30" y="100.98" width="3.94" height="1.30" fill="#e3eae7"/><rect x="459.19" y="100.98" width="3.94" height="1.30" fill="#bacaca"/><rect x="463.07" y="100.98" width="3.94" height="1.30" fill="#e4ece7"/><rect x="466.96" y="100.98" width="3.94" height="1.30" fill="#e3eae7"/><rect x="470.85" y="100.98" width="3.94" height="1.30" fill="#e0eae5"/><rect x="474.74" y="100.98" width="3.94" height="1.30" fill="#e2e8e6"/><rect x="478.62" y="100.98" width="3.94" height="1.30" fill="#e2ede7"/><rect x="482.51" y="100.98" width="3.94" height="1.30" fill="#e0ebe5"/><rect x="486.40" y="100.98" width="3.94" height="1.30" fill="#ae55a5"/><rect x="490.29" y="100.98" width="3.94" height="1.30" fill="#e1e3e4"/><rect x="494.18" y="100.98" width="3.94" height="1.30" fill="#e2e8e6"/><rect x="498.06" y="100.98" width="3.94" height="1.30" fill="#dfdee1"/><rect x="501.95" y="100.98" width="3.94" height="1.30" fill="#d9ceda"/><rect x="505.84" y="100.98" width="3.94" height="1.30" fill="#dad0db"/><rect x="509.73" y="100.98" width="3.94" height="1.30" fill="#e4ede8"/><rect x="513.61" y="100.98" width="3.94" height="1.30" fill="#d5e2dd"/><rect x="455.30" y="102.24" width="3.94" height="1.30" fill="#dddae0"/><rect x="459.19" y="102.24" width="3.94" height="1.30" fill="#e4ece8"/><rect x="463.07" y="102.24" width="3.94" height="1.30" fill="#e0e1e3"/><rect x="466.96" y="102.24" width="3.94" height="1.30" fill="#e0eae5"/><rect x="470.85" y="102.24" width="3.94" height="1.30" fill="#dfdfe2"/><rect x="474.74" y="102.24" width="3.94" height="1.30" fill="#d5e1dd"/><rect x="478.62" y="102.24" width="3.94" height="1.30" fill="#e3ebe7"/><rect x="482.51" y="102.24" width="3.94" height="1.30" fill="#d2dfdb"/><rect x="486.40" y="102.24" width="3.94" height="1.30" fill="#d8cbd9"/><rect x="490.29" y="102.24" width="3.94" height="1.30" fill="#e1ece6"/><rect x="494.18" y="102.24" width="3.94" height="1.30" fill="#a63f9b"/><rect x="498.06" y="102.24" width="3.94" height="1.30" fill="#dcd8df"/><rect x="501.95" y="102.24" width="3.94" height="1.30" fill="#dedde1"/><rect x="505.84" y="102.24" width="3.94" height="1.30" fill="#dcd6de"/><rect x="509.73" y="102.24" width="3.94" height="1.30" fill="#d5e1dd"/><rect x="513.61" y="102.24" width="3.94" height="1.30" fill="#e2e7e5"/><rect x="455.30" y="103.49" width="3.94" height="1.30" fill="#dcd7de"/><rect x="459.19" y="103.49" width="3.94" height="1.30" fill="#e2ede7"/><rect x="463.07" y="103.49" width="3.94" height="1.30" fill="#e2e7e5"/><rect x="466.96" y="103.49" width="3.94" height="1.30" fill="#e2ece7"/><rect x="470.85" y="103.49" width="3.94" height="1.30" fill="#e1ebe6"/><rect x="474.74" y="103.49" width="3.94" height="1.30" fill="#dcd6de"/><rect x="478.62" y="103.49" width="3.94" height="1.30" fill="#dae6e1"/><rect x="482.51" y="103.49" width="3.94" height="1.30" fill="#e4ede8"/><rect x="486.40" y="103.49" width="3.94" height="1.30" fill="#e1e4e4"/><rect x="490.29" y="103.49" width="3.94" height="1.30" fill="#ab4ea2"/><rect x="494.18" y="103.49" width="3.94" height="1.30" fill="#a43a99"/><rect x="498.06" y="103.49" width="3.94" height="1.30" fill="#c9d7d5"/><rect x="501.95" y="103.49" width="3.94" height="1.30" fill="#dddae0"/><rect x="505.84" y="103.49" width="3.94" height="1.30" fill="#d4e1dd"/><rect x="509.73" y="103.49" width="3.94" height="1.30" fill="#e2ece7"/><rect x="513.61" y="103.49" width="3.94" height="1.30" fill="#e0ebe5"/><rect x="455.30" y="104.74" width="3.94" height="1.30" fill="#e1e6e5"/><rect x="459.19" y="104.74" width="3.94" height="1.30" fill="#e3ede7"/><rect x="463.07" y="104.74" width="3.94" height="1.30" fill="#dfeae5"/><rect x="466.96" y="104.74" width="3.94" height="1.30" fill="#e0e2e3"/><rect x="470.85" y="104.74" width="3.94" height="1.30" fill="#d8cad9"/><rect x="474.74" y="104.74" width="3.94" height="1.30" fill="#dde8e3"/><rect x="478.62" y="104.74" width="3.94" height="1.30" fill="#dce7e2"/><rect x="482.51" y="104.74" width="3.94" height="1.30" fill="#dde8e3"/><rect x="486.40" y="104.74" width="3.94" height="1.30" fill="#d4e0dd"/><rect x="490.29" y="104.74" width="3.94" height="1.30" fill="#a8449e"/><rect x="494.18" y="104.74" width="3.94" height="1.30" fill="#a02e94"/><rect x="498.06" y="104.74" width="3.94" height="1.30" fill="#e0e2e3"/><rect x="501.95" y="104.74" width="3.94" height="1.30" fill="#dee9e4"/><rect x="505.84" y="104.74" width="3.94" height="1.30" fill="#d9e5e1"/><rect x="509.73" y="104.74" width="3.94" height="1.30" fill="#e4eee8"/><rect x="513.61" y="104.74" width="3.94" height="1.30" fill="#dae5e1"/><rect x="455.30" y="105.99" width="3.94" height="1.30" fill="#d4bfd4"/><rect x="459.19" y="105.99" width="3.94" height="1.30" fill="#dbd3dd"/><rect x="463.07" y="105.99" width="3.94" height="1.30" fill="#e4ede8"/><rect x="466.96" y="105.99" width="3.94" height="1.30" fill="#cddbd8"/><rect x="470.85" y="105.99" width="3.94" height="1.30" fill="#dde8e3"/><rect x="474.74" y="105.99" width="3.94" height="1.30" fill="#d8e4e0"/><rect x="478.62" y="105.99" width="3.94" height="1.30" fill="#d9e4e0"/><rect x="482.51" y="105.99" width="3.94" height="1.30" fill="#c6d5d3"/><rect x="486.40" y="105.99" width="3.94" height="1.30" fill="#dee9e4"/><rect x="490.29" y="105.99" width="3.94" height="1.30" fill="#ae54a5"/><rect x="494.18" y="105.99" width="3.94" height="1.30" fill="#a02d94"/><rect x="498.06" y="105.99" width="3.94" height="1.30" fill="#d3e0dc"/><rect x="501.95" y="105.99" width="3.94" height="1.30" fill="#e2e8e6"/><rect x="505.84" y="105.99" width="3.94" height="1.30" fill="#d9e5e0"/><rect x="509.73" y="105.99" width="3.94" height="1.30" fill="#c5d4d2"/><rect x="513.61" y="105.99" width="3.94" height="1.30" fill="#d6e3de"/><rect x="455.30" y="107.24" width="3.94" height="1.30" fill="#dfe0e2"/><rect x="459.19" y="107.24" width="3.94" height="1.30" fill="#dddadf"/><rect x="463.07" y="107.24" width="3.94" height="1.30" fill="#d5e1dd"/><rect x="466.96" y="107.24" width="3.94" height="1.30" fill="#e2ede7"/><rect x="470.85" y="107.24" width="3.94" height="1.30" fill="#e1e5e4"/><rect x="474.74" y="107.24" width="3.94" height="1.30" fill="#dfdfe2"/><rect x="478.62" y="107.24" width="3.94" height="1.30" fill="#dee9e4"/><rect x="482.51" y="107.24" width="3.94" height="1.30" fill="#e3e9e6"/><rect x="486.40" y="107.24" width="3.94" height="1.30" fill="#dfe9e4"/><rect x="490.29" y="107.24" width="3.94" height="1.30" fill="#a13196"/><rect x="494.18" y="107.24" width="3.94" height="1.30" fill="#a53c9a"/><rect x="498.06" y="107.24" width="3.94" height="1.30" fill="#e4eee8"/><rect x="501.95" y="107.24" width="3.94" height="1.30" fill="#e2e7e5"/><rect x="505.84" y="107.24" width="3.94" height="1.30" fill="#e2ece6"/><rect x="509.73" y="107.24" width="3.94" height="1.30" fill="#d8e4e0"/><rect x="513.61" y="107.24" width="3.94" height="1.30" fill="#dee9e4"/><rect x="455.30" y="108.49" width="3.94" height="1.30" fill="#e2e9e6"/><rect x="459.19" y="108.49" width="3.94" height="1.30" fill="#d3e0dc"/><rect x="463.07" y="108.49" width="3.94" height="1.30" fill="#dbd4dd"/><rect x="466.96" y="108.49" width="3.94" height="1.30" fill="#d7c7d7"/><rect x="470.85" y="108.49" width="3.94" height="1.30" fill="#c5d4d2"/><rect x="474.74" y="108.49" width="3.94" height="1.30" fill="#dfdfe2"/><rect x="478.62" y="108.49" width="3.94" height="1.30" fill="#dfe9e4"/><rect x="482.51" y="108.49" width="3.94" height="1.30" fill="#e1e4e4"/><rect x="486.40" y="108.49" width="3.94" height="1.30" fill="#e3ebe7"/><rect x="490.29" y="108.49" width="3.94" height="1.30" fill="#ab4da2"/><rect x="494.18" y="108.49" width="3.94" height="1.30" fill="#a02d94"/><rect x="498.06" y="108.49" width="3.94" height="1.30" fill="#a02d94"/><rect x="501.95" y="108.49" width="3.94" height="1.30" fill="#dbd5dd"/><rect x="505.84" y="108.49" width="3.94" height="1.30" fill="#e2e9e6"/><rect x="509.73" y="108.49" width="3.94" height="1.30" fill="#d1deda"/><rect x="513.61" y="108.49" width="3.94" height="1.30" fill="#e2ede7"/><rect x="455.30" y="109.75" width="3.94" height="1.30" fill="#e4eee8"/><rect x="459.19" y="109.75" width="3.94" height="1.30" fill="#dde8e3"/><rect x="463.07" y="109.75" width="3.94" height="1.30" fill="#d4e0dc"/><rect x="466.96" y="109.75" width="3.94" height="1.30" fill="#d8cdda"/><rect x="470.85" y="109.75" width="3.94" height="1.30" fill="#e4eee8"/><rect x="474.74" y="109.75" width="3.94" height="1.30" fill="#e4eee8"/><rect x="478.62" y="109.75" width="3.94" height="1.30" fill="#cedbd8"/><rect x="482.51" y="109.75" width="3.94" height="1.30" fill="#e1e5e4"/><rect x="486.40" y="109.75" width="3.94" height="1.30" fill="#e3ede8"/><rect x="490.29" y="109.75" width="3.94" height="1.30" fill="#dedbe0"/><rect x="494.18" y="109.75" width="3.94" height="1.30" fill="#a02d94"/><rect x="498.06" y="109.75" width="3.94" height="1.30" fill="#b568ae"/><rect x="501.95" y="109.75" width="3.94" height="1.30" fill="#dbe6e1"/><rect x="505.84" y="109.75" width="3.94" height="1.30" fill="#dddae0"/><rect x="509.73" y="109.75" width="3.94" height="1.30" fill="#dedce0"/><rect x="513.61" y="109.75" width="3.94" height="1.30" fill="#e2e9e6"/><rect x="455.30" y="111.00" width="3.94" height="1.30" fill="#e0e2e3"/><rect x="459.19" y="111.00" width="3.94" height="1.30" fill="#e0ebe6"/><rect x="463.07" y="111.00" width="3.94" height="1.30" fill="#e4eee8"/><rect x="466.96" y="111.00" width="3.94" height="1.30" fill="#e4eee8"/><rect x="470.85" y="111.00" width="3.94" height="1.30" fill="#c7d6d3"/><rect x="474.74" y="111.00" width="3.94" height="1.30" fill="#e0e1e3"/><rect x="478.62" y="111.00" width="3.94" height="1.30" fill="#e0e1e2"/><rect x="482.51" y="111.00" width="3.94" height="1.30" fill="#d8e4df"/><rect x="486.40" y="111.00" width="3.94" height="1.30" fill="#dde8e3"/><rect x="490.29" y="111.00" width="3.94" height="1.30" fill="#e3e9e6"/><rect x="494.18" y="111.00" width="3.94" height="1.30" fill="#e0e2e3"/><rect x="498.06" y="111.00" width="3.94" height="1.30" fill="#e4eee8"/><rect x="501.95" y="111.00" width="3.94" height="1.30" fill="#ab4da2"/><rect x="505.84" y="111.00" width="3.94" height="1.30" fill="#e2e7e5"/><rect x="509.73" y="111.00" width="3.94" height="1.30" fill="#e4ece7"/><rect x="513.61" y="111.00" width="3.94" height="1.30" fill="#d7e3df"/><rect x="455.30" y="112.25" width="3.94" height="1.30" fill="#e0ebe6"/><rect x="459.19" y="112.25" width="3.94" height="1.30" fill="#e0eae5"/><rect x="463.07" y="112.25" width="3.94" height="1.30" fill="#e0e3e3"/><rect x="466.96" y="112.25" width="3.94" height="1.30" fill="#d3dfdc"/><rect x="470.85" y="112.25" width="3.94" height="1.30" fill="#dae5e1"/><rect x="474.74" y="112.25" width="3.94" height="1.30" fill="#dfeae5"/><rect x="478.62" y="112.25" width="3.94" height="1.30" fill="#e4eee8"/><rect x="482.51" y="112.25" width="3.94" height="1.30" fill="#d6c6d7"/><rect x="486.40" y="112.25" width="3.94" height="1.30" fill="#e2ede7"/><rect x="490.29" y="112.25" width="3.94" height="1.30" fill="#dedce0"/><rect x="494.18" y="112.25" width="3.94" height="1.30" fill="#e0e1e3"/><rect x="498.06" y="112.25" width="3.94" height="1.30" fill="#ddd8df"/><rect x="501.95" y="112.25" width="3.94" height="1.30" fill="#dad1db"/><rect x="505.84" y="112.25" width="3.94" height="1.30" fill="#a02d94"/><rect x="509.73" y="112.25" width="3.94" height="1.30" fill="#d7e3df"/><rect x="513.61" y="112.25" width="3.94" height="1.30" fill="#e0ebe5"/><rect x="455.30" y="113.7" width="3.89" height="1.1" fill="#d7302a"/><rect x="456.89" y="116" width="0.7" height="14" fill="#d7302a" opacity="0.35"/><rect x="459.19" y="113.7" width="3.89" height="1.1" fill="#d7302a"/><rect x="460.78" y="116" width="0.7" height="12" fill="#d7302a" opacity="0.35"/><rect x="463.07" y="113.7" width="3.89" height="1.1" fill="#a31f1a"/><rect x="464.67" y="116" width="0.7" height="14" fill="#a31f1a" opacity="0.35"/><rect x="466.96" y="113.7" width="3.89" height="1.1" fill="#d7302a"/><rect x="468.56" y="116" width="0.7" height="10" fill="#d7302a" opacity="0.35"/><rect x="470.85" y="113.7" width="3.89" height="1.1" fill="#e8403a"/><rect x="472.44" y="116" width="0.7" height="7" fill="#e8403a" opacity="0.35"/><rect x="474.74" y="113.7" width="3.89" height="1.1" fill="#e04a40"/><rect x="476.33" y="116" width="0.7" height="8" fill="#e04a40" opacity="0.35"/><rect x="478.62" y="113.7" width="3.89" height="1.1" fill="#3a6fc0"/><rect x="480.22" y="116" width="0.7" height="11" fill="#3a6fc0" opacity="0.35"/><rect x="482.51" y="113.7" width="3.89" height="1.1" fill="#2050a0"/><rect x="484.11" y="116" width="0.7" height="7" fill="#2050a0" opacity="0.35"/><rect x="486.40" y="113.7" width="3.89" height="1.1" fill="#283a8a"/><rect x="487.99" y="116" width="0.7" height="12" fill="#283a8a" opacity="0.35"/><rect x="490.29" y="113.7" width="3.89" height="1.1" fill="#3a68a0"/><rect x="491.88" y="116" width="0.7" height="6" fill="#3a68a0" opacity="0.35"/><rect x="494.18" y="113.7" width="3.89" height="1.1" fill="#6a9ae0"/><rect x="495.77" y="116" width="0.7" height="8" fill="#6a9ae0" opacity="0.35"/><rect x="498.06" y="113.7" width="3.89" height="1.1" fill="#4ab0e8"/><rect x="499.66" y="116" width="0.7" height="9" fill="#4ab0e8" opacity="0.35"/><rect x="501.95" y="113.7" width="3.89" height="1.1" fill="#888"/><rect x="503.54" y="116" width="0.7" height="13" fill="#888" opacity="0.35"/><rect x="505.84" y="113.7" width="3.89" height="1.1" fill="#999"/><rect x="507.43" y="116" width="0.7" height="11" fill="#999" opacity="0.35"/><rect x="509.73" y="113.7" width="3.89" height="1.1" fill="#777"/><rect x="511.32" y="116" width="0.7" height="9" fill="#777" opacity="0.35"/><rect x="513.61" y="113.7" width="3.89" height="1.1" fill="#888"/><rect x="515.21" y="116" width="0.7" height="12" fill="#888" opacity="0.35"/><rect x="518.3" y="72.40" width="3.9" height="0.5" fill="#777" opacity="0.45"/><rect x="518.3" y="73.65" width="4.9" height="0.5" fill="#777" opacity="0.45"/><rect x="518.3" y="74.90" width="5.7" height="0.5" fill="#777" opacity="0.45"/><rect x="518.3" y="76.15" width="4.0" height="0.5" fill="#777" opacity="0.45"/><rect x="518.3" y="77.41" width="4.4" height="0.5" fill="#777" opacity="0.45"/><rect x="518.3" y="78.66" width="2.5" height="0.5" fill="#777" opacity="0.45"/><rect x="518.3" y="79.91" width="3.3" height="0.5" fill="#777" opacity="0.45"/><rect x="518.3" y="81.16" width="5.7" height="0.5" fill="#777" opacity="0.45"/><rect x="518.3" y="82.41" width="3.5" height="0.5" fill="#777" opacity="0.45"/><rect x="518.3" y="83.66" width="5.6" height="0.5" fill="#777" opacity="0.45"/><rect x="518.3" y="84.92" width="3.2" height="0.5" fill="#777" opacity="0.45"/><rect x="518.3" y="86.17" width="3.2" height="0.5" fill="#777" opacity="0.45"/><rect x="518.3" y="87.42" width="3.7" height="0.5" fill="#777" opacity="0.45"/><rect x="518.3" y="88.67" width="3.8" height="0.5" fill="#777" opacity="0.45"/><rect x="518.3" y="89.92" width="4.0" height="0.5" fill="#777" opacity="0.45"/><rect x="518.3" y="91.17" width="4.2" height="0.5" fill="#777" opacity="0.45"/><rect x="518.3" y="92.42" width="4.7" height="0.5" fill="#777" opacity="0.45"/><rect x="518.3" y="93.68" width="3.5" height="0.5" fill="#777" opacity="0.45"/><rect x="518.3" y="94.93" width="4.4" height="0.5" fill="#777" opacity="0.45"/><rect x="518.3" y="96.18" width="4.5" height="0.5" fill="#777" opacity="0.45"/><rect x="518.3" y="97.43" width="5.1" height="0.5" fill="#777" opacity="0.45"/><rect x="518.3" y="98.68" width="5.9" height="0.5" fill="#777" opacity="0.45"/><rect x="518.3" y="99.93" width="4.4" height="0.5" fill="#777" opacity="0.45"/><rect x="518.3" y="101.18" width="5.5" height="0.5" fill="#777" opacity="0.45"/><rect x="518.3" y="102.44" width="5.5" height="0.5" fill="#777" opacity="0.45"/><rect x="518.3" y="103.69" width="4.5" height="0.5" fill="#777" opacity="0.45"/><rect x="518.3" y="104.94" width="5.9" height="0.5" fill="#777" opacity="0.45"/><rect x="518.3" y="106.19" width="2.9" height="0.5" fill="#777" opacity="0.45"/><rect x="518.3" y="107.44" width="3.5" height="0.5" fill="#777" opacity="0.45"/><rect x="518.3" y="108.69" width="5.1" height="0.5" fill="#777" opacity="0.45"/><rect x="518.3" y="109.95" width="2.8" height="0.5" fill="#777" opacity="0.45"/><rect x="518.3" y="111.20" width="3.1" height="0.5" fill="#777" opacity="0.45"/><rect x="518.3" y="112.45" width="2.8" height="0.5" fill="#777" opacity="0.45"/><defs><linearGradient id="mg" x1="0" y1="0" x2="0" y2="1"><stop offset="0" stop-color="#a2348f"/><stop offset="0.5" stop-color="#f0f4f0"/><stop offset="1" stop-color="#6e8a92"/></linearGradient></defs><rect x="519.9" y="114.6" width="3.1" height="15" fill="url(#mg)"/><text x="467" y="144.7" font-size="7.4" fill="#161616">identification</text><text x="467" y="153.5" font-size="7.4" fill="#161616">of Tregs</text><path d="M535.2 102H554.5" stroke="#333" stroke-width="1.2"/><path d="M553.5 99.7L558.3 102L553.5 104.3Z" fill="#333"/><use href="#umapb" stroke-width="5.6" transform="translate(576.7 64.6) scale(0.2515 0.2455) translate(-81 -240)"/><rect x="577.6" y="67.6" width="7.8" height="0.8" fill="#222" opacity="0.8"/><rect x="602.1" y="71.5" width="8.7" height="0.8" fill="#222" opacity="0.8"/><rect x="595.1" y="79.5" width="14" height="0.8" fill="#222" opacity="0.8"/><rect x="582" y="94.5" width="7.8" height="0.8" fill="#222" opacity="0.8"/><rect x="602.1" y="107.9" width="5.2" height="0.8" fill="#222" opacity="0.8"/><rect x="626.3" y="87.5" width="3.8" height="0.8" fill="#222" opacity="0.8"/><text x="584.6" y="139.4" font-size="7.3" fill="#161616">Reclustering</text><rect x="454.90" y="201" width="16.25" height="5.2" fill="#ef7470"/><rect x="471.05" y="201" width="16.25" height="5.2" fill="#b8a00c"/><rect x="487.20" y="201" width="16.25" height="5.2" fill="#3aaa38"/><rect x="503.35" y="201" width="16.25" height="5.2" fill="#1fb8c4"/><rect x="519.50" y="201" width="16.25" height="5.2" fill="#6c90d8"/><rect x="535.65" y="201" width="16.25" height="5.2" fill="#c770bf"/><rect x="454.90" y="211.30" width="16.75" height="9.93" fill="#f9cbb0"/><rect x="471.05" y="211.30" width="16.75" height="9.93" fill="#2065ab"/><rect x="487.20" y="211.30" width="16.75" height="9.93" fill="#e8806a"/><rect x="503.35" y="211.30" width="16.75" height="9.93" fill="#4393c3"/><rect x="519.50" y="211.30" width="16.75" height="9.93" fill="#ef9070"/><rect x="535.65" y="211.30" width="16.15" height="9.93" fill="#f0e0d8"/><rect x="454.90" y="220.63" width="16.75" height="9.93" fill="#f9cbb0"/><rect x="471.05" y="220.63" width="16.75" height="9.93" fill="#2360a8"/><rect x="487.20" y="220.63" width="16.75" height="9.93" fill="#d6604d"/><rect x="503.35" y="220.63" width="16.75" height="9.93" fill="#5aa0cc"/><rect x="519.50" y="220.63" width="16.75" height="9.93" fill="#f4a582"/><rect x="535.65" y="220.63" width="16.15" height="9.93" fill="#dbe6ef"/><rect x="454.90" y="229.96" width="16.75" height="9.93" fill="#f4aa88"/><rect x="471.05" y="229.96" width="16.75" height="9.93" fill="#2166ac"/><rect x="487.20" y="229.96" width="16.75" height="9.93" fill="#f4a582"/><rect x="503.35" y="229.96" width="16.75" height="9.93" fill="#3a84c0"/><rect x="519.50" y="229.96" width="16.75" height="9.93" fill="#f4a582"/><rect x="535.65" y="229.96" width="16.15" height="9.93" fill="#fac6ad"/><rect x="454.90" y="239.29" width="16.75" height="9.93" fill="#c53a34"/><rect x="471.05" y="239.29" width="16.75" height="9.93" fill="#4393c3"/><rect x="487.20" y="239.29" width="16.75" height="9.93" fill="#ec8a6d"/><rect x="503.35" y="239.29" width="16.75" height="9.93" fill="#7ab5d8"/><rect x="519.50" y="239.29" width="16.75" height="9.93" fill="#f0e2da"/><rect x="535.65" y="239.29" width="16.15" height="9.93" fill="#6aabd3"/><rect x="454.90" y="248.62" width="16.75" height="9.93" fill="#bf2b2f"/><rect x="471.05" y="248.62" width="16.75" height="9.93" fill="#7fb7db"/><rect x="487.20" y="248.62" width="16.75" height="9.93" fill="#e2705a"/><rect x="503.35" y="248.62" width="16.75" height="9.93" fill="#9dcbe3"/><rect x="519.50" y="248.62" width="16.75" height="9.93" fill="#7fb5d8"/><rect x="535.65" y="248.62" width="16.15" height="9.93" fill="#6eabd2"/><rect x="454.90" y="257.95" width="16.75" height="9.93" fill="#efe0d8"/><rect x="471.05" y="257.95" width="16.75" height="9.93" fill="#e0705a"/><rect x="487.20" y="257.95" width="16.75" height="9.93" fill="#1e3563"/><rect x="503.35" y="257.95" width="16.75" height="9.93" fill="#f8c9b0"/><rect x="519.50" y="257.95" width="16.75" height="9.93" fill="#b8d9ea"/><rect x="535.65" y="257.95" width="16.15" height="9.93" fill="#fac8ae"/><rect x="454.90" y="267.28" width="16.75" height="9.93" fill="#cfe4f0"/><rect x="471.05" y="267.28" width="16.75" height="9.93" fill="#c63b35"/><rect x="487.20" y="267.28" width="16.75" height="9.93" fill="#0c4a8a"/><rect x="503.35" y="267.28" width="16.75" height="9.93" fill="#f7c3a8"/><rect x="519.50" y="267.28" width="16.75" height="9.93" fill="#b8d9ea"/><rect x="535.65" y="267.28" width="16.15" height="9.93" fill="#f3e1d8"/><rect x="454.90" y="276.61" width="16.75" height="9.93" fill="#fbd4c0"/><rect x="471.05" y="276.61" width="16.75" height="9.93" fill="#c63b35"/><rect x="487.20" y="276.61" width="16.75" height="9.93" fill="#fcd5c0"/><rect x="503.35" y="276.61" width="16.75" height="9.93" fill="#1e6cb3"/><rect x="519.50" y="276.61" width="16.75" height="9.93" fill="#ebe3df"/><rect x="535.65" y="276.61" width="16.15" height="9.93" fill="#4c97c8"/><rect x="454.90" y="285.94" width="16.75" height="9.93" fill="#c6dfee"/><rect x="471.05" y="285.94" width="16.75" height="9.93" fill="#cf4a40"/><rect x="487.20" y="285.94" width="16.75" height="9.93" fill="#0d4584"/><rect x="503.35" y="285.94" width="16.75" height="9.93" fill="#fbdccb"/><rect x="519.50" y="285.94" width="16.75" height="9.93" fill="#c0dceb"/><rect x="535.65" y="285.94" width="16.15" height="9.93" fill="#f8c4a8"/><rect x="454.90" y="295.27" width="16.75" height="9.93" fill="#c3dded"/><rect x="471.05" y="295.27" width="16.75" height="9.93" fill="#aa1a2c"/><rect x="487.20" y="295.27" width="16.75" height="9.93" fill="#f3e0d8"/><rect x="503.35" y="295.27" width="16.75" height="9.93" fill="#a6cfe4"/><rect x="519.50" y="295.27" width="16.75" height="9.93" fill="#1f63ab"/><rect x="535.65" y="295.27" width="16.15" height="9.93" fill="#f0e2dc"/><rect x="454.90" y="304.60" width="16.75" height="9.93" fill="#c3dded"/><rect x="471.05" y="304.60" width="16.75" height="9.93" fill="#9ccae2"/><rect x="487.20" y="304.60" width="16.75" height="9.93" fill="#6d1020"/><rect x="503.35" y="304.60" width="16.75" height="9.93" fill="#74acd3"/><rect x="519.50" y="304.60" width="16.75" height="9.93" fill="#b1d5e7"/><rect x="535.65" y="304.60" width="16.15" height="9.93" fill="#d3e5f0"/><rect x="454.90" y="313.93" width="16.75" height="9.93" fill="#c9e0ee"/><rect x="471.05" y="313.93" width="16.75" height="9.93" fill="#a9d0e5"/><rect x="487.20" y="313.93" width="16.75" height="9.93" fill="#710f21"/><rect x="503.35" y="313.93" width="16.75" height="9.93" fill="#a9d0e5"/><rect x="519.50" y="313.93" width="16.75" height="9.93" fill="#4694c6"/><rect x="535.65" y="313.93" width="16.15" height="9.93" fill="#dee6ec"/><rect x="454.90" y="323.26" width="16.75" height="9.93" fill="#a3cde3"/><rect x="471.05" y="323.26" width="16.75" height="9.93" fill="#5aa0cc"/><rect x="487.20" y="323.26" width="16.75" height="9.93" fill="#710f21"/><rect x="503.35" y="323.26" width="16.75" height="9.93" fill="#d0e3ef"/><rect x="519.50" y="323.26" width="16.75" height="9.93" fill="#d4e4ee"/><rect x="535.65" y="323.26" width="16.15" height="9.93" fill="#a7cee4"/><rect x="454.90" y="332.59" width="16.75" height="9.93" fill="#c1dced"/><rect x="471.05" y="332.59" width="16.75" height="9.93" fill="#3a84c0"/><rect x="487.20" y="332.59" width="16.75" height="9.93" fill="#92172a"/><rect x="503.35" y="332.59" width="16.75" height="9.93" fill="#f0e0da"/><rect x="519.50" y="332.59" width="16.75" height="9.93" fill="#efe1db"/><rect x="535.65" y="332.59" width="16.15" height="9.93" fill="#80b7d8"/><rect x="454.90" y="341.92" width="16.75" height="9.93" fill="#c1dced"/><rect x="471.05" y="341.92" width="16.75" height="9.93" fill="#4796c8"/><rect x="487.20" y="341.92" width="16.75" height="9.93" fill="#7a1022"/><rect x="503.35" y="341.92" width="16.75" height="9.93" fill="#a1cce3"/><rect x="519.50" y="341.92" width="16.75" height="9.93" fill="#d4e5f0"/><rect x="535.65" y="341.92" width="16.15" height="9.93" fill="#c8e0ee"/><rect x="454.90" y="351.25" width="16.75" height="9.93" fill="#74acd3"/><rect x="471.05" y="351.25" width="16.75" height="9.93" fill="#6aa8d1"/><rect x="487.20" y="351.25" width="16.75" height="9.93" fill="#ea9175"/><rect x="503.35" y="351.25" width="16.75" height="9.93" fill="#b71d2b"/><rect x="519.50" y="351.25" width="16.75" height="9.93" fill="#8ec1de"/><rect x="535.65" y="351.25" width="16.15" height="9.93" fill="#bcd9ea"/><rect x="454.90" y="360.58" width="16.75" height="9.93" fill="#dde7ee"/><rect x="471.05" y="360.58" width="16.75" height="9.93" fill="#7fb7da"/><rect x="487.20" y="360.58" width="16.75" height="9.93" fill="#7fb7da"/><rect x="503.35" y="360.58" width="16.75" height="9.93" fill="#b2182b"/><rect x="519.50" y="360.58" width="16.75" height="9.93" fill="#f4a582"/><rect x="535.65" y="360.58" width="16.15" height="9.93" fill="#4393c3"/><rect x="454.90" y="369.91" width="16.75" height="9.93" fill="#94c6e0"/><rect x="471.05" y="369.91" width="16.75" height="9.93" fill="#8ec2de"/><rect x="487.20" y="369.91" width="16.75" height="9.93" fill="#65a6d0"/><rect x="503.35" y="369.91" width="16.75" height="9.93" fill="#7f1425"/><rect x="519.50" y="369.91" width="16.75" height="9.93" fill="#ebe3e0"/><rect x="535.65" y="369.91" width="16.15" height="9.93" fill="#e0e6ec"/><rect x="454.90" y="379.24" width="16.75" height="9.93" fill="#94c6e0"/><rect x="471.05" y="379.24" width="16.75" height="9.93" fill="#4393c3"/><rect x="487.20" y="379.24" width="16.75" height="9.93" fill="#f7bca0"/><rect x="503.35" y="379.24" width="16.75" height="9.93" fill="#c0272d"/><rect x="519.50" y="379.24" width="16.75" height="9.93" fill="#fbd0b9"/><rect x="535.65" y="379.24" width="16.15" height="9.93" fill="#4794c6"/><rect x="454.90" y="388.57" width="16.75" height="9.93" fill="#d3e5f0"/><rect x="471.05" y="388.57" width="16.75" height="9.93" fill="#5aa0cc"/><rect x="487.20" y="388.57" width="16.75" height="9.93" fill="#e27c64"/><rect x="503.35" y="388.57" width="16.75" height="9.93" fill="#cb4a3f"/><rect x="519.50" y="388.57" width="16.75" height="9.93" fill="#bcd9ea"/><rect x="535.65" y="388.57" width="16.15" height="9.93" fill="#3a80bd"/><rect x="454.90" y="397.90" width="16.75" height="9.93" fill="#fbd0b9"/><rect x="471.05" y="397.90" width="16.75" height="9.93" fill="#9ccae2"/><rect x="487.20" y="397.90" width="16.75" height="9.93" fill="#4393c3"/><rect x="503.35" y="397.90" width="16.75" height="9.93" fill="#8ec2de"/><rect x="519.50" y="397.90" width="16.75" height="9.93" fill="#a11c2e"/><rect x="535.65" y="397.90" width="16.15" height="9.93" fill="#d3e5f0"/><rect x="454.90" y="407.23" width="16.75" height="9.93" fill="#f8dcd0"/><rect x="471.05" y="407.23" width="16.75" height="9.93" fill="#1d5798"/><rect x="487.20" y="407.23" width="16.75" height="9.93" fill="#f4a98a"/><rect x="503.35" y="407.23" width="16.75" height="9.93" fill="#6aa8d1"/><rect x="519.50" y="407.23" width="16.75" height="9.93" fill="#db6653"/><rect x="535.65" y="407.23" width="16.15" height="9.93" fill="#f8e1d6"/><rect x="454.90" y="416.56" width="16.75" height="9.93" fill="#dee3e8"/><rect x="471.05" y="416.56" width="16.75" height="9.93" fill="#9ccae2"/><rect x="487.20" y="416.56" width="16.75" height="9.93" fill="#1f6cb1"/><rect x="503.35" y="416.56" width="16.75" height="9.93" fill="#f6e0d6"/><rect x="519.50" y="416.56" width="16.75" height="9.93" fill="#ac1a2c"/><rect x="535.65" y="416.56" width="16.15" height="9.93" fill="#dee5ec"/><rect x="454.90" y="425.89" width="16.75" height="9.93" fill="#fbc8ae"/><rect x="471.05" y="425.89" width="16.75" height="9.93" fill="#4c97c8"/><rect x="487.20" y="425.89" width="16.75" height="9.93" fill="#74acd3"/><rect x="503.35" y="425.89" width="16.75" height="9.93" fill="#bcd9ea"/><rect x="519.50" y="425.89" width="16.75" height="9.93" fill="#951a2b"/><rect x="535.65" y="425.89" width="16.15" height="9.93" fill="#acd2e6"/><rect x="454.90" y="435.22" width="16.75" height="9.93" fill="#e3e1e0"/><rect x="471.05" y="435.22" width="16.75" height="9.93" fill="#5aa0cc"/><rect x="487.20" y="435.22" width="16.75" height="9.93" fill="#3a80bd"/><rect x="503.35" y="435.22" width="16.75" height="9.93" fill="#bcd9ea"/><rect x="519.50" y="435.22" width="16.75" height="9.93" fill="#ac1a2c"/><rect x="535.65" y="435.22" width="16.15" height="9.93" fill="#fac3a7"/><rect x="454.90" y="444.55" width="16.75" height="9.93" fill="#aed3e7"/><rect x="471.05" y="444.55" width="16.75" height="9.93" fill="#dce6ed"/><rect x="487.20" y="444.55" width="16.75" height="9.93" fill="#94c6e0"/><rect x="503.35" y="444.55" width="16.75" height="9.93" fill="#8bbfdd"/><rect x="519.50" y="444.55" width="16.75" height="9.93" fill="#a7cfe4"/><rect x="535.65" y="444.55" width="16.15" height="9.93" fill="#6d1222"/><rect x="454.90" y="453.88" width="16.75" height="9.93" fill="#aed3e7"/><rect x="471.05" y="453.88" width="16.75" height="9.93" fill="#ebe2e0"/><rect x="487.20" y="453.88" width="16.75" height="9.93" fill="#80b7d8"/><rect x="503.35" y="453.88" width="16.75" height="9.93" fill="#7fb4d6"/><rect x="519.50" y="453.88" width="16.75" height="9.93" fill="#b1d5e7"/><rect x="535.65" y="453.88" width="16.15" height="9.93" fill="#761425"/><rect x="454.90" y="463.21" width="16.75" height="9.93" fill="#a0cce3"/><rect x="471.05" y="463.21" width="16.75" height="9.93" fill="#aed3e7"/><rect x="487.20" y="463.21" width="16.75" height="9.93" fill="#cbe1ee"/><rect x="503.35" y="463.21" width="16.75" height="9.93" fill="#9ecbe2"/><rect x="519.50" y="463.21" width="16.75" height="9.93" fill="#9ccae2"/><rect x="535.65" y="463.21" width="16.15" height="9.93" fill="#6d1121"/><rect x="454.90" y="472.54" width="16.75" height="9.93" fill="#b1d5e7"/><rect x="471.05" y="472.54" width="16.75" height="9.93" fill="#a6cfe4"/><rect x="487.20" y="472.54" width="16.75" height="9.93" fill="#aed3e7"/><rect x="503.35" y="472.54" width="16.75" height="9.93" fill="#a3cde3"/><rect x="519.50" y="472.54" width="16.75" height="9.93" fill="#b1d5e7"/><rect x="535.65" y="472.54" width="16.15" height="9.93" fill="#6d1121"/><rect x="454.90" y="481.87" width="16.75" height="9.33" fill="#b1d5e7"/><rect x="471.05" y="481.87" width="16.75" height="9.33" fill="#acd2e6"/><rect x="487.20" y="481.87" width="16.75" height="9.33" fill="#b8d9ea"/><rect x="503.35" y="481.87" width="16.75" height="9.33" fill="#8ec2de"/><rect x="519.50" y="481.87" width="16.75" height="9.33" fill="#acd2e6"/><rect x="535.65" y="481.87" width="16.15" height="9.33" fill="#6d1121"/><text x="448.2" y="218.91" font-size="8.2" text-anchor="end" fill="#4d4d4d">HLA−DRB5</text><text x="448.2" y="228.25" font-size="8.2" text-anchor="end" fill="#4d4d4d">HLA−DRB1</text><text x="448.2" y="237.57" font-size="8.2" text-anchor="end" fill="#4d4d4d">HLA−DQA1</text><text x="448.2" y="246.91" font-size="8.2" text-anchor="end" fill="#4d4d4d">TNFRSF18</text><text x="448.2" y="256.24" font-size="8.2" text-anchor="end" fill="#4d4d4d">TNFRSF4</text><text x="448.2" y="265.56" font-size="8.2" text-anchor="end" fill="#4d4d4d">RPL21</text><text x="448.2" y="274.90" font-size="8.2" text-anchor="end" fill="#4d4d4d">EEF1B2</text><text x="448.2" y="284.23" font-size="8.2" text-anchor="end" fill="#4d4d4d">MAL</text><text x="448.2" y="293.56" font-size="8.2" text-anchor="end" fill="#4d4d4d">RPL36A</text><text x="448.2" y="302.88" font-size="8.2" text-anchor="end" fill="#4d4d4d">PTGER2</text><text x="448.2" y="312.22" font-size="8.2" text-anchor="end" fill="#4d4d4d">KIAA1551</text><text x="448.2" y="321.55" font-size="8.2" text-anchor="end" fill="#4d4d4d">SYNE2</text><text x="448.2" y="330.88" font-size="8.2" text-anchor="end" fill="#4d4d4d">MACF1</text><text x="448.2" y="340.21" font-size="8.2" text-anchor="end" fill="#4d4d4d">NEAT1</text><text x="448.2" y="349.54" font-size="8.2" text-anchor="end" fill="#4d4d4d">TTN</text><text x="448.2" y="358.87" font-size="8.2" text-anchor="end" fill="#4d4d4d">GPR25</text><text x="448.2" y="368.20" font-size="8.2" text-anchor="end" fill="#4d4d4d">GPX1</text><text x="448.2" y="377.53" font-size="8.2" text-anchor="end" fill="#4d4d4d">KLRB1</text><text x="448.2" y="386.86" font-size="8.2" text-anchor="end" fill="#4d4d4d">AQP3</text><text x="448.2" y="396.19" font-size="8.2" text-anchor="end" fill="#4d4d4d">CMTM6</text><text x="448.2" y="405.51" font-size="8.2" text-anchor="end" fill="#4d4d4d">LGALS1</text><text x="448.2" y="414.85" font-size="8.2" text-anchor="end" fill="#4d4d4d">CD74</text><text x="448.2" y="424.18" font-size="8.2" text-anchor="end" fill="#4d4d4d">SLC25A5</text><text x="448.2" y="433.50" font-size="8.2" text-anchor="end" fill="#4d4d4d">MT1E</text><text x="448.2" y="442.84" font-size="8.2" text-anchor="end" fill="#4d4d4d">COTL1</text><text x="448.2" y="452.17" font-size="8.2" text-anchor="end" fill="#4d4d4d">CD8A</text><text x="448.2" y="461.50" font-size="8.2" text-anchor="end" fill="#4d4d4d">CD8B</text><text x="448.2" y="470.83" font-size="8.2" text-anchor="end" fill="#4d4d4d">GZMK</text><text x="448.2" y="480.16" font-size="8.2" text-anchor="end" fill="#4d4d4d">NKG7</text><text x="448.2" y="489.49" font-size="8.2" text-anchor="end" fill="#4d4d4d">CCL5</text><text x="568.8" y="245.5" font-size="10" fill="#1a1a1a">Clusters</text><circle cx="576.4" cy="259.2" r="2.3" fill="#ef7470"/><text x="589.6" y="262.1" font-size="8.2" fill="#1a1a1a">canonical Tregs</text><circle cx="576.4" cy="275.0" r="2.3" fill="#b8a00c"/><text x="589.6" y="277.9" font-size="8.2" fill="#1a1a1a">CCR7+</text><circle cx="576.4" cy="290.8" r="2.3" fill="#3aaa38"/><text x="589.6" y="293.7" font-size="8.2" fill="#1a1a1a">CCR4/Helios+</text><circle cx="576.4" cy="306.6" r="2.3" fill="#1fb8c4"/><text x="589.6" y="309.5" font-size="8.2" fill="#1a1a1a">KLRB1+</text><circle cx="576.4" cy="322.4" r="2.3" fill="#6c90d8"/><text x="589.6" y="325.3" font-size="8.2" fill="#1a1a1a">LGALS1+</text><circle cx="576.4" cy="338.2" r="2.3" fill="#c770bf"/><text x="589.6" y="341.1" font-size="8.2" fill="#1a1a1a">CD8+</text><text x="568.8" y="363.2" font-size="10" fill="#1a1a1a">Expression</text><text x="568.8" y="375.4" font-size="10" fill="#1a1a1a">(z-score)</text><defs><linearGradient id="cb" x1="0" y1="0" x2="0" y2="1"><stop offset="0" stop-color="#67001f"/><stop offset="0.13" stop-color="#b2182b"/><stop offset="0.26" stop-color="#dc6f58"/><stop offset="0.39" stop-color="#f5b497"/><stop offset="0.52" stop-color="#f2efee"/><stop offset="0.65" stop-color="#b9d8ea"/><stop offset="0.78" stop-color="#4f97c8"/><stop offset="0.9" stop-color="#1f62a6"/><stop offset="1" stop-color="#0c3b70"/></linearGradient></defs><rect x="568.8" y="380.9" width="15.5" height="78.4" fill="url(#cb)"/><path d="M568.8 381.7h3M581.3 381.7h3" stroke="#fff" stroke-width="0.6" opacity="0.8"/><path d="M568.8 401.4h3M581.3 401.4h3" stroke="#fff" stroke-width="0.6" opacity="0.8"/><path d="M568.8 422.4h3M581.3 422.4h3" stroke="#fff" stroke-width="0.6" opacity="0.8"/><path d="M568.8 442.2h3M581.3 442.2h3" stroke="#fff" stroke-width="0.6" opacity="0.8"/><text x="588.3" y="384.8" font-size="8.6" fill="#1a1a1a">2</text><text x="588.3" y="404.5" font-size="8.6" fill="#1a1a1a">1</text><text x="588.3" y="425.5" font-size="8.6" fill="#1a1a1a">0</text><text x="588.3" y="445.3" font-size="8.6" fill="#1a1a1a">−1</text><rect x="29.5" y="562" width="173.0" height="271.20000000000005" fill="none" stroke="#c6e4ee" stroke-width="1"/><text x="35.8" y="553.9" font-size="10" fill="#1a1a1a">remaining clusters</text><text x="129.6" y="553.9" font-size="10" fill="#1a1a1a">KLRB1+ cluster</text><path d="M115.7 558H33.7M117.6 558H199.1" stroke="#4a4a4a" stroke-width="1.5"/><path d="M34.2 555.9L29.7 558L34.2 560.1Z" fill="#111"/><path d="M198.6 555.9L203.1 558L198.6 560.1Z" fill="#111"/><text x="25.9" y="576.2" font-size="5.2" text-anchor="end" fill="#4d4d4d">60</text><path d="M27.8 574.4h2" stroke="#333" stroke-width="0.7"/><text x="25.9" y="658.0" font-size="5.2" text-anchor="end" fill="#4d4d4d">40</text><path d="M27.8 656.2h2" stroke="#333" stroke-width="0.7"/><text x="25.9" y="740.8" font-size="5.2" text-anchor="end" fill="#4d4d4d">20</text><path d="M27.8 739h2" stroke="#333" stroke-width="0.7"/><text x="25.9" y="823.9" font-size="5.2" text-anchor="end" fill="#4d4d4d">0</text><path d="M27.8 822.1h2" stroke="#333" stroke-width="0.7"/><path d="M63.5 834.2v2" stroke="#333" stroke-width="0.7"/><text x="63.5" y="841.8" font-size="5.2" text-anchor="middle" fill="#4d4d4d">−1</text><path d="M115.6 834.2v2" stroke="#333" stroke-width="0.7"/><text x="115.6" y="841.8" font-size="5.2" text-anchor="middle" fill="#4d4d4d">0</text><path d="M168.2 834.2v2" stroke="#333" stroke-width="0.7"/><text x="168.2" y="841.8" font-size="5.2" text-anchor="middle" fill="#4d4d4d">1</text><text x="116" y="847.2" font-size="7" text-anchor="middle" fill="#1a1a1a">log2 fold change</text><text transform="translate(17.4 697.9) rotate(-90)" font-size="6.9" text-anchor="middle" fill="#1a1a1a">P value (−log10)</text><rect x="166" y="820.7" width="10.4" height="9.9" fill="#ebebeb"/><circle cx="171.2" cy="825.7" r="1.3" fill="#2bb7c3"/><text x="178.8" y="828.3000000000001" font-size="5.4" fill="#1a1a1a">p&lt;0.05</text><path d="M131.8 818.2h0M129.3 821.2h0M95.8 818h0M97.5 819.5h0M99 818.5h0M100.5 820h0M102 820.5h0M103.2 821.5h0M98 821h0M96.5 820.5h0M101 821.8h0M99.5 821.2h0" stroke="#ee7066" stroke-width="3" stroke-linecap="round" fill="none" stroke-opacity="0.85"/><path d="M136.9 579.5h0M146.4 618.2h0M160.1 657.6h0M164.8 690.5h0M152.1 704.7h0M139.7 717.1h0M61.5 719h0M62.3 719.8h0M145.9 741.2h0M139.2 756.4h0M130.5 759.9h0M135 760.4h0M78.9 757.4h0M80.9 766.1h0M74.7 768h0M140.4 773.5h0M141.7 773.5h0M151.6 773h0M129.3 771.3h0M137.5 778.5h0M133 782.7h0M139.2 782.7h0M136.7 785.9h0M136.2 788.4h0M131.3 795.1h0M135.5 798.3h0M129.3 800.8h0M131.8 803.3h0M130.5 805h0M136.7 806.5h0M129.3 806.5h0M131.8 809.5h0M129.3 812h0M130.5 814.5h0M133.5 815.7h0M130 813.2h0M133 800h0M128.5 797h0M131 808h0M134.5 790h0M84.1 788.9h0M87.6 787.7h0M74.7 796.6h0M90.1 795.8h0M95 799.6h0M90.8 804h0M92.5 805h0M97.5 807h0M93.3 809.5h0M95 812h0M90.8 813.2h0M98.3 814h0M100.2 815.7h0M96.5 815.2h0M92 811h0M94 807.5h0M97 810h0" stroke="#2bb7c3" stroke-width="3" stroke-linecap="round" fill="none" stroke-opacity="0.8"/><text x="124.5" y="586.8" font-size="6.5" fill="#1a1a1a">RORC</text><text x="132.1" y="625.8" font-size="6.5" fill="#1a1a1a">GPR25</text><text x="148.2" y="664.9" font-size="6.5" fill="#1a1a1a">GPX1</text><text x="151.6" y="698" font-size="6.5" fill="#1a1a1a">KLRB1</text><text x="146.7" y="701.7" font-size="6.5" fill="#1a1a1a">AQP3</text><text x="47.9" y="715.8" font-size="6.5" fill="#1a1a1a">RTKN2</text><text x="56.8" y="726.5" font-size="6.5" fill="#1a1a1a">TIGIT</text><text x="127.3" y="724" font-size="6.5" fill="#1a1a1a">CTSH</text><text x="124.3" y="744.4" font-size="6.5" fill="#1a1a1a">LIMS1</text><text x="136" y="754.3" font-size="6.5" fill="#1a1a1a">CCR6</text><text x="114.4" y="757.3" font-size="6.5" fill="#1a1a1a">LAG3</text><text x="64.7" y="754.8" font-size="6.5" fill="#1a1a1a">SORL1</text><text x="83.4" y="764.3" font-size="6.5" fill="#1a1a1a">IKZF2</text><text x="64.7" y="775.5" font-size="6.5" fill="#1a1a1a">MAL</text><text x="129.3" y="767.3" font-size="6.5" fill="#1a1a1a">CCR2</text><text x="116.9" y="778.5" font-size="6.5" fill="#1a1a1a">FURIN</text><rect x="254.6" y="560.5" width="169.20000000000002" height="272.79999999999995" fill="none" stroke="#c6e4ee" stroke-width="1"/><text x="257.1" y="553.9" font-size="10" fill="#1a1a1a">remaining clusters</text><text x="361.7" y="553.9" font-size="10" fill="#1a1a1a">CD8+ cluster</text><path d="M337.5 558H258M339.9 558H419.9" stroke="#4a4a4a" stroke-width="1.5"/><path d="M258.5 555.9L254 558L258.5 560.1Z" fill="#111"/><path d="M419.4 555.9L423.9 558L419.4 560.1Z" fill="#111"/><text x="265" y="639.2" font-size="5.2" text-anchor="end" fill="#4d4d4d">100</text><path d="M266.5 637.4h2" stroke="#333" stroke-width="0.7"/><text x="265" y="731.1" font-size="5.2" text-anchor="end" fill="#4d4d4d">50</text><path d="M266.5 729.3h2" stroke="#333" stroke-width="0.7"/><text x="265" y="823.2" font-size="5.2" text-anchor="end" fill="#4d4d4d">0</text><path d="M266.5 821.4h2" stroke="#333" stroke-width="0.7"/><path d="M290.7 834.2v2" stroke="#333" stroke-width="0.7"/><text x="290.7" y="841.8" font-size="5.2" text-anchor="middle" fill="#4d4d4d">−2</text><path d="M321.7 834.2v2" stroke="#333" stroke-width="0.7"/><text x="321.7" y="841.8" font-size="5.2" text-anchor="middle" fill="#4d4d4d">−1</text><path d="M352.5 834.2v2" stroke="#333" stroke-width="0.7"/><text x="352.5" y="841.8" font-size="5.2" text-anchor="middle" fill="#4d4d4d">0</text><path d="M383.5 834.2v2" stroke="#333" stroke-width="0.7"/><text x="383.5" y="841.8" font-size="5.2" text-anchor="middle" fill="#4d4d4d">1</text><path d="M414.2 834.2v2" stroke="#333" stroke-width="0.7"/><text x="414.2" y="841.8" font-size="5.2" text-anchor="middle" fill="#4d4d4d">2</text><text x="352.7" y="847.2" font-size="7" text-anchor="middle" fill="#1a1a1a">log2 fold change</text><text transform="translate(250.6 697.2) rotate(-90)" font-size="6.9" text-anchor="middle" fill="#1a1a1a">P value (−log10)</text><rect x="389.1" y="820" width="10.4" height="9.9" fill="#ebebeb"/><circle cx="394.3" cy="825" r="1.3" fill="#2bb7c3"/><text x="401.90000000000003" y="827.6" font-size="5.4" fill="#1a1a1a">p&lt;0.05</text><path d="M386.6 587.3h0M381.4 614.4h0M390 623.6h0M376.6 645.2h0M374.8 650.2h0M404.5 666.3h0M348.5 684.7h0M353.3 695.7h0M363.8 696.5h0M413.4 708.3h0M381.4 717.5h0M348.3 739.2h0M356 737.5h0M346.6 746.2h0M347.6 756.9h0M353.4 765.1h0M362.7 767.2h0M348.7 779.6h0M350.4 778.9h0M349.9 782.6h0M353.2 784.5h0M356 790.1h0M363.9 791.7h0M347.8 802.2h0M349.4 802.2h0M356.4 801.8h0M347.1 805.3h0M354.6 805.5h0M358.8 804.6h0M359.2 805.7h0M348.3 808.3h0M350.6 809.9h0M356 809.5h0M351.8 811.1h0M352.5 814.1h0M347.6 816.2h0M349.4 816.9h0M350.6 817.6h0M348 812h0M347 819h0M349 818.5h0" stroke="#2bb7c3" stroke-width="3" stroke-linecap="round" fill="none" stroke-opacity="0.8"/><path d="M320.9 821.6h0M325.4 821.6h0M347.1 821.6h0M349.4 820.9h0M351.3 820.4h0M348.3 820h0" stroke="#ee7066" stroke-width="3" stroke-linecap="round" fill="none" stroke-opacity="0.85"/><text x="374.8" y="594.7" font-size="6.5" fill="#1a1a1a">CD8A</text><text x="369.5" y="621.5" font-size="6.5" fill="#1a1a1a">CD8B</text><text x="383.5" y="630.6" font-size="6.5" fill="#1a1a1a">GZMK</text><text x="370.9" y="642.6" font-size="6.5" fill="#1a1a1a">CCL4</text><text x="362.2" y="657.6" font-size="6.5" fill="#1a1a1a">GZMH</text><text x="392.7" y="673.4" font-size="6.5" fill="#1a1a1a">NKG7</text><text x="322.8" y="681.2" font-size="6.5" fill="#1a1a1a">RP11−222K16.2</text><text x="339.9" y="693.6" font-size="6.5" fill="#1a1a1a">PLEK</text><text x="359.8" y="703.6" font-size="6.5" fill="#1a1a1a">GZMB</text><text x="395" y="706.2" font-size="6.5" fill="#1a1a1a">CCL5</text><text x="372.7" y="715.4" font-size="6.5" fill="#1a1a1a">GZMA</text><defs><pattern id="spk" patternUnits="userSpaceOnUse" width="47" height="43"><path d="M41.5 17.8h0M11.9 36.8h0M32.4 10.7h0M9.6 31.2h0M45.5 9.3h0M0.2 39.7h0M31.2 6.3h0M8.7 12.3h0M9.1 34.8h0M46.1 18.3h0M11.4 12.5h0M43.1 28.8h0M43.1 32.6h0M12.4 9.9h0M37.3 38.4h0M4.4 11.3h0M15.1 30h0M10.5 20.7h0M23.6 37.7h0M1.3 21.3h0M23.7 16.8h0M4.1 17.3h0M33.8 42.4h0M45.1 39.3h0M41.5 3h0M42.7 10.5h0M39.4 32h0M39.1 20.9h0M20 25.8h0M40.5 27.8h0M22.5 8h0M25.7 42.4h0M11.3 33.2h0M37.7 41.2h0M37.9 27.1h0M23.3 18.7h0M29.3 9.8h0M15.5 37.7h0M4.1 39.8h0M33.9 1.2h0M23.3 19.2h0M29.9 18h0M46 19.7h0M1.4 12.5h0M12.6 4.6h0M2.9 36.3h0M2.7 3.6h0M3.7 27.8h0M21.6 17.3h0M36.2 20.5h0M20 30.8h0M15.8 10.7h0M40.6 1h0M29.9 2h0M5.8 10h0M11.4 25.5h0M28.6 40.4h0M36.7 1h0M19.2 32.4h0M46.2 18.6h0M2.8 5.6h0M35.4 33.3h0M26.6 28h0M38 22.7h0M12.5 27.3h0M5.3 30.7h0M19.5 18.1h0M29 30.7h0M17.8 38.5h0M44.5 41.3h0M43.6 22.2h0M12 36.7h0M25.3 12.9h0M24.1 18.1h0M22.1 40.9h0M23.4 15.4h0M35.2 36.7h0M33 3.3h0M15.6 39.6h0M27.7 3.7h0M33 30.1h0M12.1 30.9h0M10.7 41.1h0M29.9 6.7h0M26 36.8h0M7.7 37.3h0M41.4 4.8h0M40 1h0M29.2 24.7h0M44.9 25.7h0M21.3 8.2h0M33.8 37.3h0M15.9 41.1h0M38.9 17.4h0M10.4 15.5h0M25.4 4.4h0M44.9 16.2h0M10.4 26.3h0M34.9 6.7h0M17.5 17.5h0M39.7 11.1h0M16.6 8.4h0M23.3 16.8h0M32.9 15.6h0M8.3 6h0M33 6.5h0M7.9 30.2h0M35.3 2.5h0M5.1 11.4h0M16.3 21.7h0M7.8 39.8h0M7.5 38.4h0M13.1 25h0M20.9 7.5h0M5.4 19.1h0M20.3 1.6h0M16.9 1.2h0M2.9 31.6h0M42.7 8.4h0M21.1 39.4h0M14.9 7.4h0M33 10.5h0M23.1 13h0M18.4 8.9h0M0.8 16.3h0M40.9 29.3h0M41.3 13.7h0M0.7 9h0M13.5 38.2h0M42.9 10.5h0M11.8 18.5h0M12.4 35.4h0M32.9 40.2h0M19.6 42.8h0M19.1 10.2h0M38.8 29.5h0M20.8 27.1h0M2.1 23.7h0M0.8 22.6h0M40.1 3.5h0M14.2 14.1h0M4.2 23.4h0M38.2 26.2h0M4.7 10h0M22.3 31.7h0M17.5 42.7h0M23.4 42.8h0M38 8.1h0M42.1 18.6h0M44.4 16.9h0M36.8 31.7h0M12.4 3h0M8.1 16.7h0M42.6 22.4h0M43.2 36h0M42.5 24.6h0M30.1 28.2h0M45 36.6h0M28 26.6h0M27.1 29.5h0M39.4 0.9h0M29.4 29.8h0M5 6.5h0M33.9 15.1h0M34.9 42.5h0M34 23.9h0M4.1 35.6h0M33.1 10h0M39.8 35.4h0M39.7 16.9h0M34.6 25.8h0M12.7 9h0M13 0.2h0M3.4 30.3h0M43.4 38.7h0M39.8 13.9h0M10.9 17.6h0M31.7 38.7h0M21.8 38.5h0M40.6 17.2h0M6 27.5h0M18.8 38.9h0M23.5 23.8h0M28.8 13.6h0M10.2 23.8h0M4.6 25.8h0M26 39.9h0M1.8 10.7h0M11.5 39.7h0M23.1 41.2h0M24.9 9.2h0M3.1 27.4h0M43.6 20.1h0M44.2 17.6h0M0.4 38.9h0M20.8 15.2h0M46.7 19h0M8.1 15.5h0M26.4 40.7h0M39.1 17.7h0M43.1 26.8h0M11.8 8.5h0M2.7 8.6h0M8.4 7.2h0M8.2 16.2h0M1.3 10.4h0M28.6 21.1h0M28.9 28h0M33.6 7.6h0M34.1 34.9h0M33.2 22.3h0M5.3 10h0M22.4 14.6h0M18.7 11.3h0M22.2 34.5h0M4.2 41.8h0M7.6 36.2h0M10.5 11.1h0M41.7 41h0M26 31.8h0M12.1 4.2h0M15.9 13.2h0M15 27.2h0M9 16.1h0M26.7 41.6h0M26.2 30h0M22.9 34h0M2.2 17.3h0M9.8 15.2h0M14.1 30.2h0M28.7 28.4h0M20.5 7.6h0M10.5 23.3h0M11.6 18.9h0M43.7 13h0M5 41.5h0M38.4 4.7h0M41.9 25.7h0M8.8 32.2h0M20.1 39.8h0M45.1 3h0M40.5 2h0M42.3 21h0M4.1 17.2h0M15.4 29.9h0M33.3 15.8h0M33.5 0.4h0M10.9 4.7h0M7.5 12.6h0M8.4 22.2h0M45.1 39.8h0M36 34.9h0M6.7 3.6h0M31 18.1h0M9 3.7h0M14.4 19.3h0M1.1 17.5h0M7.4 37.5h0M34.2 9.1h0M6 33.6h0M35.7 41.8h0M6.5 23.7h0M38.7 19.2h0M11.7 5.5h0M13.5 15.5h0M30.7 3.4h0M35.4 5.5h0M12.5 19.4h0M2.3 14.7h0M44.6 40.8h0M38 12.8h0M25.2 35h0M0 18h0M24.9 26.8h0M11.1 14.6h0M46.9 3.4h0M38.7 25.1h0M46.5 25h0M18.8 41.4h0M28.2 25.6h0M39 14.9h0M28.2 33.9h0M10.3 10.5h0M35.4 36.7h0M33.1 27.5h0M6.3 36.4h0M46.2 38h0M24.8 5.4h0M20.9 39.4h0M31.7 6.6h0M44.7 28.2h0M35.8 4.7h0M28.4 34h0M7.6 11.9h0M40.9 22.9h0M36.6 33.1h0M24.7 18.2h0M34.8 16.2h0M31.7 3.9h0M35 32.9h0M39 21.7h0M38.4 9.5h0M0.9 38.2h0M6.1 9.9h0M13.1 1h0M11.1 17.3h0M8 39.6h0M2.7 12.5h0M10.1 23.1h0M3.8 23.3h0M7.8 32.5h0M18.1 15.9h0M40.3 7h0M24.2 31.3h0M22.8 42.8h0M46.8 3.4h0M44.5 38.3h0M5.1 32.5h0M15.8 11.3h0M24.9 3.5h0M37.1 41.4h0M13.7 42.4h0M44.2 18.9h0M21.8 27.7h0M3.1 9h0M26.2 15.4h0M23.9 7.5h0M44.9 18.6h0M11.3 1.9h0M27.3 17.7h0M32.1 29.9h0M3.1 4.4h0M21.5 18.5h0M19.8 22.6h0M20.8 36.3h0M27.9 12.8h0M18.9 10h0M26.7 37.4h0M30.5 39.6h0M35.5 25.5h0" stroke="#fff" stroke-width="1.25" stroke-linecap="round" fill="none"/></pattern></defs><path d="M604.1 715.6h0M601.5 723.9h0M608.2 709.2h0M589.5 701.1h0M595.3 689.8h0M604.7 737.9h0M588.9 677.4h0M588.3 688.4h0M593.7 708.2h0M585.4 688.1h0M590.6 726h0M609.8 703.7h0M593.4 736.7h0M591 729h0M597.5 692.4h0M606.3 686.9h0M607.2 709.1h0M599.6 672.8h0M585.1 670.5h0M586.6 671.8h0M607.3 705.9h0M600.6 735.2h0M609.1 687.8h0M593.1 706h0M603.9 682.4h0M581.2 669.4h0M593.1 687.7h0M590.8 695.4h0M602.6 682.7h0M592.6 738.6h0M591.8 694.1h0M609.9 704.9h0M595.9 706.9h0M597.7 689.9h0M594.3 695.8h0M608.2 700.2h0M591.9 675.9h0M599.4 699h0M592.2 725.7h0M582 669.9h0M578.4 670.7h0M580.3 667.3h0M574.6 667.1h0M591.1 723.9h0M593.1 715.6h0M597.3 682.2h0M609.2 691.5h0M592 707.3h0M593.3 740.2h0M590.9 723.1h0M599.7 706.3h0M592.9 733.6h0M603.7 695.6h0M601 689.6h0M609.2 700.7h0M581.8 675.5h0M593.6 711.1h0M597.6 692.7h0M601 705.4h0M588.1 673.1h0M592.4 730h0M601.9 692h0M602.2 691.5h0M593.2 714.1h0M596.1 697.8h0M600.5 719h0M611.4 694.3h0M597 703.6h0M594.9 691.2h0M599.5 700.3h0M596.6 695.6h0M593.3 724.2h0M593.1 702.7h0M600.3 688.6h0M604.4 711.7h0M604.3 680.4h0M603.6 699.6h0M599.2 710.5h0M610.6 701.5h0M597.2 682.3h0M602.1 684h0M587.7 691.2h0M595.2 678.6h0M598.2 701h0M592.2 723.3h0M597.8 689h0M602.3 683.7h0M592.1 719.4h0M575.3 666.3h0M585.1 688.9h0M594.2 695.9h0M596.2 688.1h0M595 679.4h0M590.5 712.5h0M599.6 734.3h0M603.2 676.6h0M604.4 725.7h0M604.7 672.6h0M587.5 677.5h0M598.9 720.1h0M607 677.3h0M607.9 691.8h0M601.7 714.1h0M592.7 683.6h0M601.5 716.6h0M583.2 686.3h0M573.5 664.2h0M590.6 709.3h0M601.8 700.2h0M598.9 726.7h0M585.6 687.6h0M596.9 704.3h0M607.7 686.5h0M593.4 692.1h0M605 725.1h0M604.6 679.5h0M585.5 679.7h0M590.3 669.2h0M608 695.3h0M593.6 671.8h0M591 715.5h0M599.5 682.8h0M603 680.3h0M590 703.5h0M596.4 700.7h0M604.6 704.6h0M593.4 741.4h0M608.4 715.6h0M592.2 725.3h0M594.5 670h0M580.7 665.9h0M600.5 678.8h0M603.9 690.1h0M594 700.3h0M590.7 722.7h0M602.1 721.8h0M594 730h0M606.7 706.8h0M567.5 662.7h0M573.7 667.3h0M589.3 677.3h0M600 685h0M594.4 710.7h0M605.8 678h0M591.5 696.6h0M577.6 667.2h0M584.8 668.5h0M602.1 730.8h0M584.9 674.5h0M606 694.8h0M590.8 707h0M589.4 710.2h0M608.5 691.1h0M600.2 737.6h0M591.4 700.7h0M584.8 684.1h0M589.8 700.9h0M602.5 682.3h0M592.9 722.6h0M591.5 674.9h0M597.5 699.7h0M594.3 720.5h0M601.5 722.8h0M590.7 708.9h0M606.9 723.5h0M600.9 700.5h0M605.2 681.5h0M603.1 726.9h0M602.4 735.9h0M574.1 665.1h0M608.9 688.7h0M609.8 692.8h0M604 685.2h0M586.1 678h0M603.8 709.4h0M595.5 718.4h0M591.7 715.6h0M580.8 678.5h0M605.9 737.6h0M594 708.4h0M602.2 711.8h0M606.8 676.2h0M605.5 672.1h0M597.1 673.8h0M610.2 700.2h0M594.2 674.6h0M605.6 729.6h0M584.9 682.2h0M595.7 718.2h0M594.6 684.4h0M605.9 733.9h0M607 702.6h0M594.2 727.7h0M593.7 695.2h0M606.8 701.1h0M595.8 685.7h0M598.6 735.2h0M584.4 682.2h0M602.1 702.2h0M600.9 670.8h0M606.9 680.7h0M603.1 715.4h0M591.3 682.1h0M599 715.4h0M607.7 707.1h0M600.3 676.2h0M591.7 674.1h0M592.3 668.6h0M603.7 720h0M589.8 706.3h0M592.9 674h0M596.7 737.7h0M599.5 727.9h0M606.3 703h0M574 664.5h0M609 692.3h0M598.5 682.6h0M598.4 731.4h0M600.6 727.5h0M610.8 688h0M606.5 714.7h0M606.2 693.3h0M601.8 686h0M606.4 715.1h0M577.7 670.6h0M585.3 675.6h0M595.2 670.2h0M584.3 668.4h0M597.7 692.8h0M610.6 692.1h0M578.2 667.7h0M590 712h0M599.8 716.4h0M600.7 736.4h0M592.6 740.9h0M601.9 674.3h0M603 711.6h0M605.2 716.3h0M600.7 732.3h0M605.4 714.3h0M594 732h0M601.9 688.6h0M594.1 670.1h0M588.8 673.1h0M592.9 723h0M588.3 672.6h0M608.2 682.2h0M598.8 703.9h0M580.7 674.5h0M597.6 723.1h0M599.8 688.6h0M599.5 719.2h0M584.7 669.9h0M594.5 705.6h0M608.9 713.7h0M591 705.1h0M594.8 723.2h0M602.3 690.3h0M583.4 670.5h0M605.6 696.5h0" stroke="#f07d75" stroke-width="1.1" stroke-linecap="round" fill="none"/><path d="M561.1 578.8h0M566.2 593.5h0M566.4 580.7h0M559.8 581.3h0M580.8 602.7h0M563.5 594.4h0M586.7 599h0M564 580.7h0M551 575.8h0M568.3 596.5h0M576.6 588h0M583 601.4h0M581.8 596.7h0M568.3 597.1h0M564.3 588.5h0M578.6 593.9h0M575.7 594.2h0M582.3 593.1h0M570.8 590.3h0M551.9 586.2h0M564.3 589.5h0M583.6 594.9h0M556.6 579.2h0M553.7 575.5h0M575.7 587.3h0M553.6 588.5h0M583.9 602.5h0M553.6 577.5h0M579.4 591.3h0M584.8 602h0M575.1 600.6h0M567.8 592.3h0M587.5 599.3h0M556.9 592.2h0M573.3 586.5h0M557.4 593.3h0M577.3 590.3h0M553.4 581.3h0M576.2 591h0M551.2 584.6h0M569.9 591.6h0M569.4 587.4h0M584 604.5h0M558.6 587.1h0M552 581.3h0M584.2 604.7h0M575.1 598.1h0M555.1 588.7h0M549.8 580h0M551.8 576.2h0M572.8 601.2h0M554 577.2h0M570.9 596.7h0M580.4 605h0M567.9 590.8h0M553.5 581.3h0M586.2 599.8h0M569.7 594.9h0M567.7 584.1h0M565.3 585.6h0M563.7 590h0M572.4 590.8h0M579.6 596.2h0M574.8 592.4h0M581.4 602.5h0M550.3 576.7h0M567.7 596.3h0M574.6 602h0M567.6 591.3h0M559.3 592h0M570.2 599.2h0M576.8 593.8h0M572.9 595.5h0M556.6 586.5h0M563.3 585.8h0M578 598h0M581.9 596h0M566.9 594.9h0M567.8 587.1h0M554.3 581.2h0M575.9 601.5h0M578.4 593.7h0M574.9 589.2h0M579.8 591h0M561.5 590.6h0M582.9 603.3h0M573.2 601.4h0M570.4 586.4h0M575.8 597.9h0M569.9 601.1h0M573.6 594.6h0M573.2 591.9h0M551.4 584.4h0M566.8 594.3h0M564.5 596.1h0M572.3 598.3h0M573.3 597.6h0M561.1 595.2h0M573.8 591.3h0M563.9 579.9h0M577.6 593h0M584.9 595.5h0M562.4 594.9h0M578.6 589.9h0M556.2 586.2h0M563 584.1h0M571.1 601.8h0M570.8 600h0M568.5 587.8h0M571.4 590.4h0M571.2 591.8h0M564.3 580.5h0M555 579.3h0M553.2 582.2h0M558.3 584.4h0M560.6 579h0M570.3 586.6h0M560.7 580h0M572.8 593.1h0M557 583.8h0M564.1 581.8h0M568.4 591.7h0M564.1 597h0M562.3 590.1h0M571.3 590.7h0M554.9 586.1h0M582.2 595.4h0M554.9 584.9h0M574.1 586.9h0M575.5 600.9h0M571.5 588.3h0M585 597.4h0M583.4 605h0M555.5 589h0M563.2 587.4h0M585.4 597.2h0M559 593.7h0M585.3 603.9h0M550.4 574.8h0M578.6 602h0" stroke="#f07d75" stroke-width="1.1" stroke-linecap="round" fill="none"/><path d="M531.6 613.6h0M534.2 617.9h0M532.9 619.1h0M544.2 610h0M533.3 610.6h0M539.7 639.3h0M541.8 621h0M544.1 645.8h0M539.6 631.8h0M537.7 630.2h0M557.4 657.4h0M532.6 621.2h0M532.8 629h0M536.6 618.1h0M531.8 613.8h0M533.2 631.8h0M531.9 641h0M536.8 611.1h0M542 614.6h0M541.9 614.3h0M543.7 646.8h0M532.3 614.5h0M540.7 625.2h0M528.9 621.1h0M533.3 618.8h0M539.1 640.3h0M533.7 621.1h0M541.4 615.7h0M533.5 628h0M539 613.8h0M536.4 642.1h0M534.6 635.2h0M539.5 610.8h0M532.5 614.6h0M528.7 614.8h0M536.2 625.3h0M532.6 624.3h0M533.1 636.6h0M529.7 613.4h0M535.9 642.7h0M534.4 631.1h0M534.6 638.1h0M536.8 625.5h0M533.8 611.5h0M537.1 640.4h0M536.7 621.4h0M543.6 644.6h0M534.8 622.4h0M533 631.5h0M537.3 628.8h0M536.2 633.5h0M548.5 652.3h0M529.9 623.2h0M532.5 632.4h0M543.2 608.8h0M530.3 618.6h0M534.3 637.3h0M538.4 630.1h0M532.5 621h0M532.7 624.8h0M537.4 641.7h0M530.6 632.8h0M535.5 623h0M544.9 645.5h0M544.6 606.7h0M538.6 624.9h0M537.5 613.3h0M530.6 617.9h0M542.3 644.9h0M531.9 626.5h0M533 640.6h0M538.7 613.5h0M537.6 635h0M533.7 627.4h0M533.4 617.1h0M538.5 608h0M540.9 617.6h0M532.5 631.2h0M529.9 630.6h0M536.3 631.5h0M535.4 616.5h0M539.1 614.7h0M539.7 630.8h0M535 628.4h0M536.4 609.8h0M536.9 616.3h0M535.2 627.2h0M536.9 615.3h0M534.1 618.8h0M535.4 638.1h0" stroke="#f07d75" stroke-width="1.1" stroke-linecap="round" fill="none"/><path d="M563.2 747.2h0M493.6 606.8h0M507.7 764.9h0M480.9 694.2h0M560.6 748h0M587.9 696.5h0M496.5 606.7h0M579.7 699h0M549.7 645.7h0M501.7 604.6h0M486 721.3h0M531.3 784.7h0M522.1 781.5h0M587.1 746.1h0M544.8 641.6h0M520.9 606.2h0M477.6 666.5h0M589.9 735.7h0M504.8 608.4h0M501.5 754h0M580.4 751.1h0M485.3 722.6h0M500.4 755.9h0M494.3 747.5h0M586.9 730.5h0M583.6 700.8h0M532.3 617.6h0M523.2 608.4h0M508 764.4h0M482.9 648.2h0M490.3 743.2h0M588.9 726.6h0M544 759.8h0M499.8 609.3h0M477.7 700.7h0M490.5 612.7h0M558.9 650.8h0M483.4 631.5h0M563.1 743.6h0M587.9 711.9h0M474.6 696.3h0M504.4 762.3h0M581.4 708.2h0M519.6 779.7h0M588.9 738.2h0M497.5 751.7h0M502.6 603h0M504.1 759.2h0M530.9 614.5h0M547.4 643.2h0M556.4 650.8h0M494.8 751.7h0M479.7 660.5h0M576.7 748.9h0M496.3 753.6h0M537.3 777.5h0M580 749h0M481.2 659.1h0M491.3 729h0M581.7 749.1h0M475.8 677h0M513.8 604h0M500.9 757.6h0M571.7 655.2h0M583.1 681.7h0M584.8 743.6h0M532.3 613.7h0M589 733h0M506.1 605.3h0M487.5 727.3h0M584.7 711.2h0M585.1 701.2h0M526.4 610.8h0M509.9 771h0M586.5 718h0M519.8 602.8h0M484.8 655.7h0M556.2 650.2h0M492.2 609.8h0M584.3 677.4h0M509.9 769.9h0M482.6 662.6h0M477 663.4h0M590.6 737.7h0M583.2 699.1h0M488.4 613.4h0M552.3 751h0M480.2 705.6h0M493.1 744h0M487.1 729.9h0M572.6 658.1h0M578.6 670.5h0M588.7 709.5h0M549 755.9h0M586 708h0M484.8 651.5h0M581.8 676.5h0M521.7 608.2h0M583.2 747.8h0M483.5 619.4h0M495.6 604.7h0M589.3 737h0M505.8 761h0M539.6 778.6h0M573.6 658.6h0M588.7 732.9h0M581.9 659.3h0M510.5 607.2h0M587.8 733.7h0M539.2 769.1h0M585.3 693.6h0M573.1 748.5h0M492.3 744.3h0M502.9 606.7h0M488.8 613.1h0M588.9 743.6h0M587.9 737.5h0M474 675.8h0M483 719.3h0M575.5 657.7h0M480.4 704.7h0M580.8 751.3h0M518.1 776.3h0M552.1 645.7h0M580.5 673.9h0M476 683.5h0M539.1 633.6h0M497.8 606.1h0M512.4 603h0M535.7 777.1h0M584 747.9h0M524.7 782.4h0M587.7 699.4h0M527.2 608.3h0M545.4 642.1h0M482.2 635.4h0M485.7 723.5h0M512.4 769.9h0M484 625.2h0M508.6 761.1h0M520.5 608.3h0M583.7 695.5h0M498.3 754.3h0M476.7 699.3h0M496.2 748.8h0M477.1 690.6h0M566.6 746.3h0M542.7 638.1h0M538.7 760.7h0M493.8 747.9h0M483.8 716.6h0M517.2 604.7h0M546.1 642h0M483.8 657.6h0M484.1 732.3h0M582.2 682.7h0M511.7 606.7h0M529.9 790.1h0M509.1 765.3h0M514.8 606.2h0M484 628.5h0M568.1 660.1h0M515.1 773.3h0M584.2 700.6h0M505.1 605.7h0M543.2 644.6h0M535.8 777.5h0M477.4 697.1h0M477.6 662.4h0M571.8 749.3h0M583.3 698.2h0M563.1 653.9h0M485.5 616h0M474.3 687.4h0M532.9 618.4h0M586.4 712.3h0M529.5 785.5h0M499.4 754.3h0M482.3 644h0M581 678.6h0M583.2 684.5h0M587.1 740.6h0M479.2 706.8h0M487.5 717.4h0M484.9 652.5h0M562 647.4h0M518.9 781.2h0M540.9 766.3h0M491.6 607.9h0M547.8 641.3h0M534.9 779.2h0M509.4 606.5h0M499.1 756h0M583.7 687.4h0M485.2 615.2h0M483.9 645.9h0M481.9 640.6h0M584.9 708.4h0M573.6 745.9h0M534 788.9h0M479.4 696.4h0M569.7 650.4h0M507.2 761.5h0M542 769.7h0M556.8 749.4h0M585 698h0M571 749.5h0M539.9 632h0M483.7 719.8h0M561.8 750.3h0M535.6 783.2h0M500.5 758.8h0M542.8 760.2h0M591 740.1h0M589.7 702.2h0M582.6 690h0M589.4 728.9h0M565 746.5h0M484 717.7h0M482.8 657.3h0M485.4 740.2h0M485 647.5h0M484.5 647.8h0M476.8 689.8h0M484.6 660.1h0M586.5 721.5h0M559.8 749.4h0M500.7 758.5h0M482.1 648.9h0M505.4 604.6h0M543 769.7h0M586.8 745.2h0M491.4 612.4h0M507.2 768.6h0M525.6 609h0M518.7 780.8h0M512.6 607.5h0M576.1 662h0M477.6 670.4h0M539.4 775.1h0M581.1 673.6h0M547.1 641.3h0M537.9 632.1h0M476.3 673h0M519.1 779.4h0M538.4 628.5h0M536.2 781.5h0M532.2 619h0M582.1 666.2h0M515.4 777.6h0M477 695.7h0M486.3 648h0M482.8 657h0M583.3 748.8h0M587.1 708.7h0M497.5 748.1h0M541.3 775.2h0M498.7 607.3h0M590.2 729.1h0M586.5 739.4h0M589.5 718.1h0M579.8 672.9h0M527.7 609.4h0M475.1 680.3h0M492.5 741h0M537.5 630.4h0M484.4 648h0M583.8 699.1h0M489.3 742.9h0M549.3 646.5h0M484.4 652.5h0M490.2 742.2h0M499.4 753h0M477.4 680.1h0M499.3 755.6h0M477.4 691h0M581.8 685.6h0M477 718.9h0M533.6 784.5h0M548.5 753.6h0M485.5 657.4h0M588.1 727.7h0M542.3 765.8h0M531.3 617.9h0M569.1 657.5h0M511.5 770.3h0M540.6 634.5h0M533.4 627.6h0M479.3 702h0M528 611.3h0M484.7 638.6h0M587.2 708.5h0M476.5 665.4h0M587.6 744.6h0M576.6 655.9h0M560 750.9h0M487.4 728.1h0M487.5 740.1h0M487.5 620.3h0M543.2 641.8h0M538.3 632.1h0M544.3 756.8h0M570.3 654.8h0M494.1 605.5h0M540.9 761.3h0M481.4 712.9h0M479.6 659.9h0M583 681.8h0M556.3 752h0M507.5 759h0M484.9 616.1h0M516.2 773.2h0M532.2 617.8h0M550.5 749.6h0M500.2 751.4h0M586.8 713.5h0M481.6 659.5h0M588.4 710.4h0M552 643.7h0M574 661.2h0M522.3 609h0M531.8 617.5h0M539.2 769.8h0M532.1 781.7h0M488.9 734.3h0M482.7 711.5h0M588.7 729.5h0M552.3 647.4h0M589.4 704.7h0M589.2 721.6h0M480.8 618h0M547.9 754.4h0M482.3 643.3h0M537.4 624.7h0M580.5 670.6h0M535.6 781.9h0M543 765.1h0M538 766.6h0M485.3 724.9h0M576.2 749h0M566.4 653.8h0M495.8 609.2h0M527.4 612.5h0M534.9 632.4h0M589.6 715.6h0M482.5 710.3h0M568.3 654.8h0M535.6 625.4h0M523.6 608.5h0M541.2 776.8h0M582 748.3h0M542.8 765h0M528.1 612.7h0M487.3 611.3h0M535.6 628.4h0M587 694.4h0M482 669.4h0M484.5 627h0M486.3 652.9h0M585.2 672.1h0M534.4 783.6h0M486.5 621.3h0M525.2 782.4h0M484 621.9h0M554 644.6h0M485.7 738.8h0M555.4 648.5h0M588.7 708h0M519.9 779.6h0M580.2 667.1h0M581.2 748.6h0M583 690.3h0M583.6 752.7h0M500.6 607.5h0M587.6 718.5h0M483.1 703.7h0M483.5 714.4h0M564.7 654.5h0M534.7 627.5h0M577.7 685.3h0M558.3 650.9h0M484.6 719h0M582.4 682.5h0M542.2 759.7h0M529.2 785.4h0M563.1 652.9h0M514.9 606.9h0M544.8 761.6h0M518.6 606.6h0M483.2 718.9h0M539.3 636.5h0M589.2 732.6h0M569.7 658.2h0M529.7 787.9h0M553.9 646.2h0M516.1 606.6h0M480.3 674.9h0M485 617.2h0M526.9 607.7h0M577.6 662.3h0M496.4 606.8h0M516.7 777.2h0M583.2 686.3h0M578.8 749.7h0M582.3 693.8h0M543.2 767.4h0M586.9 708.5h0M535.3 626.9h0M486.5 732.6h0M578.3 750.2h0M584.6 699.2h0M550.6 753.5h0M483 714.6h0M542.7 761.3h0M519.2 780h0M552.1 647.9h0M528.2 778.5h0M561.8 650h0M485 640.3h0M541.5 761h0M532 621.4h0M479 695.4h0M534.7 630h0M533 782.2h0M533.2 787.8h0M513.7 606.3h0M488.6 733.8h0M491.3 740.2h0M485 623.1h0M506 760.4h0M548.9 752.5h0M581.9 670.2h0M540.4 638.2h0M503.3 756.1h0M484.1 656.4h0M480 706.7h0M585.9 716.6h0M582.7 671.3h0M583.4 685.5h0M510.7 608.8h0M501.2 605.2h0M477.3 675.8h0M570.7 660.4h0M550.4 645.1h0M487.8 733.2h0M484.5 655.2h0M532.3 783.1h0M561.4 752.3h0M557.7 749.6h0M485.8 651.5h0M529.6 784.1h0M545.5 757.6h0M560.7 750.1h0M483.4 642.2h0M481.8 697.6h0M475 681.8h0M489.1 611h0M529.5 784.2h0M586.8 709.7h0M579.3 674.3h0M484.7 640.4h0M496.3 752.7h0M485.5 654.1h0M577 657.7h0M492.2 608.3h0M578.2 662.7h0M552.3 644.8h0M582.8 687.6h0M529.7 787.1h0M545.3 642.2h0M553.3 752.5h0M485.9 643.7h0M587.9 721.5h0M589 741h0M497.2 607.3h0M578.2 667.7h0M527.8 785.1h0M572 748.3h0M522.9 783.6h0M579.9 668.2h0M478.4 694h0M473.9 694.4h0M497.5 757.9h0M489.3 736.6h0M478.6 704.3h0M540 767.5h0M563.2 651h0M486.9 633h0M586.8 723.2h0M502.2 604.9h0M572 660h0M573.6 750.2h0M544.7 759.5h0M502.5 759.6h0M585.5 744.7h0M476.4 661.5h0M475.1 676.3h0M582.1 698h0M483.2 728.4h0M488.3 737.3h0M581.4 684.9h0M481.3 623.9h0M587 744.6h0M538.3 774h0M519.8 607.3h0M530.6 618.5h0M563.7 751.6h0M553.4 750.4h0M480.5 699.6h0M476.7 685.7h0M497.7 607.1h0M505.3 605.3h0M590.8 708.1h0M481.6 710.9h0M588.1 716.8h0M539.5 631.9h0M517.5 608.6h0M488.8 736.9h0M577.8 751.3h0M531.7 788.9h0M479.6 662.1h0M525.7 783h0M531.5 616h0M589.6 705.5h0M488.6 732.7h0M482.8 620.4h0M483 656.9h0M482.9 658.1h0M554.8 648.6h0M484.5 625.6h0M543.9 768.1h0M550.9 646.2h0M501.6 756.7h0M499.5 755.6h0M506.4 764.6h0M476.1 665.6h0M478.1 701.4h0M510.2 606.5h0M578.8 668.4h0M526.4 780.7h0M588.6 729h0M587.3 740.4h0M577.1 662.1h0M569.8 750.6h0M484.6 614.9h0M589.8 740.5h0M477.5 667.1h0M581.9 681.3h0M480.3 713.1h0M518.2 607.6h0M478.9 691.5h0M581 674.6h0M514.1 770.8h0M548.4 756.2h0M493 742.6h0M587.7 733.3h0M588 732.3h0M573 660.5h0M592.6 726.7h0M476.4 674.2h0M553.3 750.4h0M550.2 751.3h0M480.9 632.2h0M543.9 766.7h0M533.9 783h0M482.4 713.4h0M582.5 679.8h0M482.3 652.9h0M519.6 779.7h0M588.4 729.1h0M485.6 633.2h0M476.8 660.1h0M556.3 651.2h0M523.3 779.4h0M558.6 750.3h0M484.4 619.3h0M586.9 744h0M499.1 760.4h0M485.8 723.4h0M485.6 657.5h0M558.4 750.5h0M555.1 647h0M520.7 782.4h0M579.4 665.1h0M581.4 681h0M522.8 606.5h0M533.3 781.1h0M532.8 617.1h0M482.3 625.9h0M484.3 721.3h0M483.9 725.2h0M486.9 734.7h0M545.3 641.5h0M502.6 607.2h0M505.3 767.7h0M580.4 673.2h0M510 769.1h0M523.6 778.5h0M514.9 775.9h0M577.7 678.3h0M485.4 643h0M483.3 624.3h0M587.3 739.6h0M587.5 705.9h0M573.9 659.4h0M558.4 752.2h0M587.1 720.5h0M477.2 679.3h0M583.4 701.2h0M479.4 660.1h0M507.3 767.3h0M584.2 696.1h0M512.8 768.1h0M528.8 611.5h0M476.9 670.4h0M530.7 786.3h0M482.2 709.1h0M580.7 671.9h0M538.6 777.2h0M550.9 646.4h0M528.1 612.5h0M538.1 627.9h0M591 738.3h0M502.7 759.5h0M492.4 741.2h0M556.6 650.2h0M493.8 746.2h0M591.7 738.6h0M569.4 659h0M486.2 610.9h0M578.5 662.7h0M519 779h0M583.2 691.7h0M577.8 672h0M476.3 675.6h0M508.3 766.8h0M579.4 669.5h0M533.2 781.6h0M590 711.6h0M556.5 648.9h0M488 733.7h0M583.6 687.1h0M481.9 635.8h0M493.6 608.9h0M542.1 625.4h0M587.6 735h0M486.4 729.2h0M532.9 621.3h0M591.3 732.7h0M588.4 727.5h0M486.7 612.6h0M581.4 669.5h0M484.9 611.3h0M541.4 639.8h0M503.7 763h0M479.4 703.2h0M550 754.6h0M590.2 735.3h0M589.4 709.8h0M552.2 752.4h0M563 652.4h0M482.6 611.1h0M484.3 717.8h0M585.6 682.6h0M542.3 764.8h0M561.5 749.1h0M579.4 657.1h0M586.7 745.3h0M545.6 642h0M552 647h0M565.4 749.2h0M478.9 694.7h0M582.2 675.3h0M513.5 774.3h0M584.2 692.8h0M569.5 748.9h0M521.8 604.8h0M584.5 706.5h0M480.4 629.8h0M503.8 756.6h0M573.3 748.3h0M548 643.1h0M547.3 643.8h0M514.8 772.1h0M579 666.5h0M570.3 657.5h0M568.7 654.2h0M488.1 730h0M499.4 606.3h0M589 745h0M579.8 679.1h0M586.7 727.4h0M576.7 676.8h0M485.5 729.5h0M577.6 750.7h0M485.4 730h0M533.2 622.6h0M546 756.5h0M566.9 654.5h0M582.3 745.4h0M483.9 644.5h0M483.9 614.5h0M544.1 641.1h0M503.3 759.7h0M495.7 750.6h0M541.9 636.2h0M560.7 750h0M583 713.5h0M579.7 675.9h0M478.2 689.8h0M567.3 748.2h0M477.6 671.3h0M518.7 777.2h0M574.5 669.8h0M473.3 702.3h0M490.1 613.9h0M485.7 652.9h0M519.1 607.3h0M481.1 659.9h0M500.9 607.4h0M543 636.1h0M580.9 677.8h0M480.9 657.9h0M589.6 733.1h0M477.1 686.6h0M578.4 663.7h0M485.3 729.8h0M557.8 750.6h0M486.2 724.7h0M517 774.1h0M491.1 740.9h0M539.4 633.6h0M534.1 615.8h0M528.1 612.2h0M474.3 682.7h0M540.3 772.6h0M550.9 646.2h0M590.8 740.6h0M493.4 747h0M527.1 788.2h0M502.6 757.7h0M490.4 747.1h0M475.8 682.9h0M591.6 728.1h0M558 651h0M485.6 656.3h0M475.9 672.1h0M580.3 677.2h0M482.3 733.9h0M542.3 765.2h0M510.3 763.5h0M478 677.6h0M572.8 747h0M485.2 720.1h0M583.2 689.9h0M500.4 758.4h0M587.2 716h0M481.4 637.5h0M522.7 608.5h0M586.8 708.3h0M583 745.7h0M546.4 647.6h0M594 738.6h0" stroke="#f07d75" stroke-width="1.15" stroke-linecap="round" fill="none"/><polygon points="485.0,622.4 484.5,635.8 487.0,646.6 487.0,646.7 487.0,646.9 487.0,647.1 486.7,655.1 486.7,655.3 486.6,655.5 486.6,655.7 486.5,655.9 486.4,656.0 486.3,656.2 479.9,664.8 478.5,675.1 479.0,689.7 482.9,707.5 491.9,739.2 502.4,756.8 512.9,767.6 513.1,767.8 521.4,778.5 529.7,783.5 536.2,776.9 541.1,761.4 541.2,761.2 541.2,761.1 541.3,760.9 541.4,760.8 549.4,750.8 549.6,750.6 549.7,750.5 549.8,750.4 550.0,750.3 550.2,750.2 550.3,750.1 550.5,750.1 566.5,746.1 566.7,746.0 566.9,746.0 567.1,746.0 567.3,746.0 581.3,747.9 587.9,741.2 586.0,720.2 580.0,680.4 576.2,663.2 567.0,656.7 555.1,650.8 555.0,650.7 554.8,650.6 543.8,642.6 543.7,642.5 543.5,642.3 543.4,642.1 534.4,629.1 534.3,629.0 534.2,628.8 528.3,616.1 523.8,610.6 517.5,608.0 510.0,607.5 500.4,608.0 493.0,610.3 487.7,615.2 485.0,622.4" fill="#f07d75"/><path d="M584.6 615.2h0M601.5 649.5h0M555.9 644.8h0M580.9 649.3h0M545.7 610h0M563.6 651.7h0M549.7 611.8h0M547.5 643.2h0M581.9 616.9h0M600 648.8h0M608.1 645.9h0M573 648h0M604.7 636.9h0M604.6 644.3h0M535.8 633h0M598.5 616.9h0M590.5 655.2h0M544.9 644.2h0M549.1 642.4h0M578.3 617.2h0M539 622.6h0M544.2 613.6h0M605 634.6h0M567.5 646h0M575.9 649.5h0M603.9 624.6h0M607.6 638.2h0M540.1 610.9h0M539.7 633.4h0M566.9 648.6h0M591.2 651.1h0M571.8 645h0M592.1 654.5h0M547.7 611.1h0M589.3 613.7h0M552 642.5h0M572 646.2h0M602.7 620.5h0M546 644.3h0M599 617.4h0M541.9 634.2h0M540.9 639.8h0M559.1 615.1h0M591.1 613.2h0M572.5 621.6h0M537.5 631.9h0M544.2 643.1h0M573.9 621.2h0M541.8 618.2h0M584.1 652.3h0M580.8 617.9h0M559.8 621.2h0M543.8 639.9h0M578.6 620.6h0M553.5 613.1h0M557.2 647.5h0M606.6 636.5h0M568.1 625.8h0M539.6 617.6h0M607 636.6h0M582.4 616.7h0M554.9 620.5h0M572.9 644.5h0M542.8 641.9h0M582.5 653.2h0M540.6 637.7h0M572.1 647.2h0M607.7 635.8h0M544.8 611h0M581.1 618h0M598 612.9h0M584.9 657.8h0M606.1 637.1h0M583.4 615.6h0M606.6 643.6h0M599.3 653.3h0M538.5 633h0M556 642.1h0M548.2 642.7h0M582.2 616.9h0M604.7 647.6h0M543.4 640.1h0M566 627.1h0M559.9 620.8h0M587.2 656.5h0M583.2 616.9h0M600 618.6h0M594.6 653.7h0M545.9 643.1h0M596 616h0M567.1 627.5h0M578.4 619.1h0M547.2 643.9h0M556.1 618.9h0M561.5 649.1h0M539.4 618.7h0M598.6 652.3h0M566.8 647.1h0M570.2 647.6h0M548.7 641.9h0M539 633.4h0M566.2 649.4h0M587.8 652.5h0M598.7 617.9h0M558.3 621.2h0M556.8 615.9h0M601.2 622h0M557.3 644.2h0M604.6 625.3h0M599 649h0M566.4 650.4h0M603 627.9h0M539.5 638.8h0M545.1 641h0M589.8 655.2h0M605.4 631.3h0M539.6 632.9h0M603.4 633.4h0M602 644.3h0M550.9 611.4h0M596.9 647.9h0M571.1 646.3h0M585.8 656h0M592.8 655.6h0M538.5 618.4h0M579.7 618.6h0M537.8 630h0M536.1 621h0M595.5 617.1h0M601.6 648.4h0M576.7 615.2h0M607.9 644.3h0M546.3 641.3h0M538.6 629.4h0M574.5 646h0M538.7 622.2h0M564.9 627.5h0M574.8 648h0M607.2 640.3h0M542.4 614.8h0M547.9 612.5h0M602.9 648h0M549.2 609.1h0M570.2 646.3h0M563.9 622.1h0M604.3 647h0M601.7 617.8h0M560.2 623.7h0M588.6 655.3h0M583.3 615h0M549.8 642.5h0M553.9 639.5h0M605.6 627.1h0M583.2 651.7h0M537.7 629.8h0M602 651.9h0M564.9 649.4h0M560.5 622.8h0M607.3 637.8h0M579.6 649.9h0M568 649.1h0M560.2 647h0M542.6 638.9h0M564.4 654h0M589.7 653.6h0M539.7 630.3h0M591.5 656.3h0M537.5 629h0M604.9 633.2h0M602.8 625.7h0M601.7 623h0M561 620.2h0M547.3 609h0M552.6 613.6h0M551.5 612.8h0M555.3 644.7h0M557.6 646.1h0M539.6 638.5h0M602.8 652.3h0M539.6 614.9h0M544.5 640.5h0M541.9 638.1h0M541.8 645.2h0M539 625h0M564.3 625h0M570.6 624.3h0M594.7 651.9h0M605.3 644.9h0M596.3 616.9h0M573.9 645.8h0M605.9 641.6h0M604.6 644.8h0M602.2 647.7h0M564 622.7h0M549.9 640.9h0M541.5 613h0M585.5 615.5h0M580.2 650.7h0M603.8 633h0M599.6 616.6h0M572.3 624.9h0M567 652.4h0M537.3 625.8h0M535.2 621.9h0M574.6 644h0M602.7 632h0M537.2 625.1h0M538.3 635h0M604.1 628.8h0M536.8 627.9h0M562.5 644.5h0M546.9 611.4h0M558.2 645.9h0M538.7 635.4h0M583.5 612.8h0M539.9 636.7h0M561.1 624.4h0M562.2 650.8h0M588.3 655.7h0M545.8 609.1h0M565.4 647.4h0M544.1 641.4h0M538.1 623.7h0M568.7 626.4h0M605.3 627.6h0M572.1 646.5h0M587.1 654.7h0M561.4 650.8h0M562.7 624.9h0M536 622h0M555.6 619.5h0M535.9 628.7h0M594.1 654.2h0M559 627.2h0M543.6 612.4h0M579.9 648.8h0M572.9 647.9h0M574.5 649.3h0M562.1 617.7h0M587.5 612h0M561 620.9h0M551.9 642.6h0M549.6 641.8h0M592.8 654.1h0M602.6 626.9h0M535.7 621.3h0M599.9 619h0M540.3 614.3h0M582.7 649h0M606.5 639.3h0M557.6 616.6h0M603.3 627.7h0M541.3 628.9h0M578.6 651.1h0M606.1 632.5h0M596.6 653.7h0M602.4 653h0M593.1 614h0M562 619.4h0M587.3 613.3h0M578.6 614.4h0M540.4 638.9h0M605.3 641.7h0M605 633.9h0M537.2 616.2h0M563.4 650.5h0M580.1 616.1h0M560.2 647.7h0M594.8 653.7h0M537.4 631.4h0M607.2 647.6h0M538 635.8h0M605.7 625.1h0M573.5 622.4h0M540.5 619.1h0M572 622.4h0M566.9 625.9h0M567.9 624.4h0M604.5 628h0M606.3 647.1h0M568.3 622.3h0M593.1 654.5h0M537.2 630.6h0M600.9 648.2h0M592.6 661.3h0M592.4 613.1h0M594.9 615.3h0M603.6 626.7h0M570.3 648.9h0M576 646.1h0M548.4 643.8h0M597.3 652.8h0M607.1 641.6h0M599.1 651.2h0M539.5 618.5h0M606.1 626.8h0M557.9 647.4h0M551.7 645.4h0M607.3 636.9h0M564.5 617.5h0M539.7 629.2h0M600.6 627.8h0M540.4 616.5h0M537.4 628.4h0M605.9 642.2h0M539.7 616.8h0M542.1 641.6h0M553.1 646.4h0M550.1 612.7h0M608.1 643.5h0M559 648.7h0M549.7 642.8h0M589.2 613.2h0M599.8 617.8h0M564.6 648.8h0M597.5 656h0M535.2 633.1h0M550.3 644.4h0M564.3 624.1h0M535.3 626.6h0M590.9 656h0M570.4 645.7h0M604 631.8h0M541.6 614.2h0M548.7 610.2h0M565.3 626h0M563.1 651.2h0M559 623.3h0" stroke="#a3a62c" stroke-width="1.15" stroke-linecap="round" fill="none"/><polygon points="541.8,618.3 541.2,623.0 540.6,633.4 545.1,639.0 555.7,641.7 556.0,641.8 556.2,641.9 556.4,642.0 556.7,642.1 564.0,647.0 571.3,643.4 571.5,643.3 571.8,643.2 572.1,643.1 572.5,643.1 572.8,643.1 573.1,643.1 573.4,643.2 573.7,643.3 574.0,643.4 582.7,647.8 582.9,648.0 583.2,648.2 589.2,652.9 599.6,649.5 604.3,638.7 601.9,632.6 601.9,632.5 597.1,619.0 591.3,615.8 585.6,618.1 574.3,625.2 568.5,629.5 568.3,629.7 568.0,629.8 567.7,629.9 567.5,630.0 567.2,630.1 566.9,630.1 566.6,630.1 566.3,630.1 566.1,630.0 565.8,630.0 565.5,629.9 565.3,629.7 565.0,629.6 564.8,629.4 564.6,629.2 555.9,620.5 555.8,620.5 550.4,614.7 546.4,613.6 541.8,618.3" fill="#a3a62c" fill-opacity="0.88"/><path d="M561.8 626.5h0M553.5 643.3h0M546.8 626.7h0M586.1 628.8h0M579.3 646.3h0M575.2 635.8h0M568.3 647.6h0M568.5 638.7h0M554.7 615.5h0M591.9 625h0M585.5 626.6h0M593.5 650.1h0M569.8 646.2h0M589.6 653.3h0M587.7 631h0M542.3 614.8h0M598.4 628.2h0M594.6 630.2h0M563.5 642.7h0M587.8 619.4h0M560.8 636.7h0M544.3 614.4h0M583.6 650.3h0M545.8 641.4h0M557.6 640.3h0M577.8 633.6h0M597.7 646.9h0M558 644.5h0M554.4 641.7h0M575.5 622.2h0M590.5 638.5h0M593.6 623.4h0M546 635.7h0M599.4 642.3h0M582.5 641.4h0M559.4 642.8h0M549.9 627.1h0M563.6 629.5h0M544.5 625.6h0M570.4 629.9h0M570.9 631.4h0M589.2 650.3h0M584.1 618.7h0M538.9 621.8h0M556.4 622.9h0M557.6 641.5h0M553.8 631.6h0M596.3 624.9h0M539.4 633.8h0M582.4 631h0M547.3 631.8h0M552.7 636.8h0M559.1 625.4h0M573.5 623.5h0M551 626.2h0M590.6 651.6h0M578.3 636.8h0M585.4 652.6h0M547.8 641.6h0M595.7 641.3h0M596.9 617.3h0M564.2 629.1h0M580 640.1h0M563.8 634.1h0M554.9 641.6h0M567.9 633.6h0M576.2 623.9h0M599.3 630.6h0M594.4 614.1h0M578 641.8h0M582.6 636.9h0M575 627.2h0M587.2 629.2h0M598.9 652.6h0M570.7 630.9h0M583.9 618.3h0M591.5 633.1h0M587.8 621.8h0M595.3 650.2h0M568.9 627.5h0M565.4 632.2h0M587.3 649.9h0M555.2 643h0M599.5 650.3h0M554.6 626.5h0M561.4 625.7h0M548 640h0M549.2 641.2h0M552.4 627.7h0M549.6 637.2h0M599.1 625.7h0M591.8 629.8h0M574.3 635.9h0M581 649.9h0M590.9 637.3h0M598.7 632.4h0M589.8 652h0M575.8 639.3h0M574.3 643.8h0M602.4 640.4h0M589.3 631.1h0M556.1 637.1h0M599.9 640.1h0M559.8 630.4h0M589.1 621h0M563.2 635.3h0M591.6 619.6h0M584 650.3h0M597.3 648.6h0M551.3 643.6h0M550.3 638.7h0M549.9 628.6h0M599.6 647.1h0M579.3 635.8h0M562.2 626.2h0M554.5 626.2h0M581.8 647.7h0M603 639.6h0M554.4 640.7h0M595.7 626.1h0M547.7 617.3h0M579.4 644.1h0M541 619.3h0M550.6 620.4h0M581.8 627.2h0M577.3 641.2h0M595.2 616.4h0M585.6 636.5h0M600.1 633.4h0M596.7 626.9h0M565.8 634.9h0M556.2 641.5h0M588.6 626.6h0M570 647h0M596.6 622.7h0M562.5 630.4h0M546.5 611.3h0M558.6 627.6h0M547.8 636.8h0M572.5 631.8h0M586.1 617.3h0M600.5 632h0M598 652h0M600.4 647.9h0M595.6 619.4h0M600.2 628.7h0M546.2 622.5h0M563.1 648.9h0M538.7 623h0M555.5 637.9h0M581.9 630.9h0M588.5 619.2h0M545.8 633.8h0M591.6 618.8h0M595.7 640h0M546.9 630h0M595.9 634.7h0M559.7 640.3h0M550.1 624.3h0M594.1 632.3h0M563 627.5h0M553.7 634.5h0M586.5 617.4h0M561.1 627.8h0M569 628.9h0M572.7 638.3h0M553 643.8h0M596.1 650h0M566.9 634.8h0M581.9 647.7h0M583 629.8h0M590.9 626.1h0M580.2 619h0M540.4 619.4h0M567 629.9h0M581 631.9h0M576.7 637.7h0M553.9 621.3h0M547.1 631.3h0M576.4 638.7h0M542 632.4h0M586.6 634.4h0M559.3 632.8h0M583.7 640.8h0M573.1 644.2h0M604.7 633.7h0M544.2 637.1h0M601.7 629.5h0M540.4 625.1h0M592.9 640.2h0M559.5 630.7h0M565.3 641.7h0M591.2 636.6h0M563.5 644.3h0M552.7 632h0M606.4 637.5h0M563.6 625.7h0M540.8 633.3h0M577.6 641h0M541.2 624.1h0M555.1 623.3h0M556.9 636.5h0M544.1 612.1h0M579.3 645.5h0M550.9 640.9h0M605.5 641.7h0M582.4 628.2h0M582 619.1h0M563.6 636.6h0M589.8 642.7h0M589.4 621.6h0M575.6 636.7h0M572.7 623.7h0M586.3 650.3h0M577 632h0M599.4 637.8h0M560.7 638.4h0M589.3 629h0M597.1 625.6h0M589.2 653.6h0M590.6 614h0M585.7 644.4h0M554.1 614.6h0M589.7 633.1h0M592.7 651h0M542.7 638.2h0M571.7 627.6h0M544.5 619.4h0M553.4 625.2h0M550.4 621.8h0M597.2 639.7h0M573.2 636.4h0M568.7 643.1h0M599.9 618.3h0M590.2 639.4h0M551.6 630.7h0M602.4 637.1h0M588.5 638.8h0M589.5 628.6h0M589.2 618.7h0M591.8 639.1h0M547.1 628.8h0M572.4 624h0M556.9 631.2h0M578.6 624.7h0M576.6 640.7h0M564.5 625.2h0M590.7 636.8h0M596 627.7h0M599.9 630.8h0M569.9 643.2h0M591.3 638.4h0M588 624.2h0M584.9 624.8h0M573.3 628.8h0M598.7 636.2h0M563.3 632.6h0M562.3 630.7h0M554.1 636h0M598.7 627.6h0M574.5 637h0M549.9 628.4h0M548.7 621.8h0M538.9 619.5h0M541.8 616h0M594.5 631.1h0M599.9 634.5h0M596 636.4h0M596.2 643.5h0M600 650.9h0M590.1 613.4h0M574.5 630.4h0M590.6 623.4h0M566.5 631.9h0M560.8 623.5h0M590.7 644.5h0M570.2 635.1h0M593 623.5h0M604.3 638.4h0M587 654.1h0M567.9 639.1h0M589 642.4h0M574.9 644.1h0M543.5 638.1h0M544.6 627h0M580.5 620.7h0M555.4 640.5h0M581 634h0M599.8 648h0M581.1 623.1h0M543.2 613.1h0M545.3 624.4h0M596.8 630h0M579.2 621.1h0M556.4 637.6h0M562.4 642.1h0M559.4 637.7h0M605.2 638h0M588.4 637h0M575.1 636.9h0" stroke="#a3a62c" stroke-width="1.15" stroke-linecap="round" fill="none"/><path d="M556.9 640.7h0M582.1 649.9h0M560.8 642.8h0M552.5 645.8h0M564 643h0M566.9 652h0M547.3 636h0M549.7 634.9h0M580.1 646.2h0M550.5 640.7h0M566.1 651.9h0M562.7 650.9h0M554 647.7h0M562.6 637.4h0M548.6 632.1h0M552.4 643.5h0M558.3 648.6h0M566.1 647.4h0M548.4 635.5h0M558.5 646.2h0M565.7 650.3h0M564.8 647.1h0M573 642.4h0M547.4 643h0M557.4 643.4h0M558.7 648.3h0M566.8 649.2h0M549.8 633.5h0M557.4 643h0M546.4 639.5h0M568.3 647.2h0M544.1 631h0M557.6 644h0M572.3 642h0M573.5 652h0M556.5 635.8h0M577.5 648.5h0M563.9 648.3h0M551.7 639.5h0M553.3 640.5h0M560.7 638.2h0M547.9 633.9h0M568.1 647.1h0M551.2 632.6h0M579.5 645.7h0M579.2 653.5h0M558.4 641.4h0M563 646.8h0M576.3 652.6h0M546.9 631.2h0M562.1 641.5h0M552.6 641.6h0M578.6 645.3h0M565.1 642.2h0M542.2 633.2h0M575.9 649.9h0M572 642.7h0M546.7 644.3h0M547.5 637.8h0M558.3 636.9h0M562.6 647.4h0M571.4 650.6h0M556.8 648.4h0M558.5 646.7h0M574.4 642.9h0M579.6 653.3h0M547.8 645.3h0M587.8 653.3h0M550.3 632.9h0M558 640.1h0M567.8 642.2h0M565.6 642.3h0M559.5 635.3h0M556.8 636.6h0M583.8 652.2h0M577.3 650.8h0M554.7 634.9h0M551.7 636h0M580.3 652.1h0M545.6 640.5h0M560.8 646.1h0M576.1 644.2h0M564.3 641.4h0M550.1 638.7h0M560 645.4h0M572.5 650.5h0M557.9 638.5h0M549.4 633.5h0M552.1 640.6h0M579.1 650.3h0M570 646.8h0M557.7 645.6h0M562.5 646.8h0M577.6 651.5h0M560.3 637.2h0M547.8 642.3h0M550.5 634.3h0M555.5 648.1h0M573.1 646.6h0M545.5 630.8h0M555.1 639.9h0M556.5 643.6h0M577.4 646.2h0M557.4 643.5h0M550.3 640.8h0M565.5 641.5h0M566 640.1h0M547.1 639.6h0M547.6 642h0M573 652.3h0M571.7 651.6h0M556.7 646.7h0M557.1 638h0M571.2 650.4h0M560.3 645.9h0M574.2 652.7h0M587.1 653.9h0M563.7 640.6h0M570.7 638.8h0M553.4 645.7h0M541.6 632.5h0M579.2 647.4h0M569.2 647.2h0M569.3 647.2h0M551.3 642.6h0M558.9 639.1h0M553.9 638.2h0M564.2 644.9h0M544.3 638.6h0M542.9 635.8h0M556.4 646h0M549.3 637.2h0M576.2 641.3h0M548 645.4h0M545.8 634.7h0M585.1 650.9h0M569.4 645.2h0M586.7 653.9h0M562.7 642.7h0M574.1 641.8h0M571.7 645.1h0M559.2 639.6h0M548.3 633.4h0M546.3 635.5h0M554.4 648.3h0M567.5 646.1h0M561.5 647.8h0M546.8 644h0M563.7 641.9h0M544.1 639.8h0M572.7 648h0M561 636.4h0M542.5 633.1h0M588 654.4h0M541.2 631.3h0M542.6 636.9h0M573.8 651.5h0M568.3 639.5h0M574.5 641.5h0M568.8 650h0" stroke="#f07d75" stroke-width="1.1" stroke-linecap="round" fill="none"/><path d="M552.7 632.8h0M597.8 651h0M548.1 620.8h0M596 650.3h0M549.4 636.3h0M557 633.5h0M562.3 632.8h0M547.8 633.9h0M592 629.3h0M551.2 633.1h0M590.2 631.1h0M543.3 641.1h0M593.3 654.4h0M594.7 648h0M543.8 620.5h0M571.3 630.8h0M543 637.6h0M579.1 618.8h0M575.3 641.7h0M581 641.4h0M543.2 628.3h0M538.4 628.4h0M557.6 624.1h0M601.2 624h0M597.2 648.7h0M600.4 639.4h0M601.8 630.6h0M541.2 615.7h0M568.4 637.3h0M573.8 642h0M584.7 634.1h0M542.4 626.8h0M547.6 615.5h0M597.1 625.6h0M575.8 635.4h0M559.1 637.8h0M567.1 643h0M583.3 641h0M596.3 625.2h0M573.3 631.6h0M592.7 637.2h0M588 639.4h0M595.7 645.1h0M575.4 636.2h0M571 624.5h0M566 635.3h0M558.9 644.4h0M560.2 631.9h0M582.6 639.9h0M560.7 639.5h0M571.1 637.8h0M576.8 627.1h0M576.6 630.9h0M538.1 634.6h0M566.6 633.5h0M541.6 628.1h0M547.3 616h0M599.9 637.7h0M596.1 627h0M588 644.5h0M578.5 642.4h0M554.9 639.6h0M583.9 623.4h0M560.9 644h0M591.5 648h0M598.2 640.2h0M598.3 646.5h0M577.7 637.4h0M549 637.7h0M568.6 632.5h0M581.1 647.9h0M543.5 617.2h0M595.8 639.7h0M602.6 638.7h0M550.2 631.8h0M571.3 627.4h0M597.6 625h0M558.2 642.4h0M573.4 643.7h0M576.6 647.5h0M538.1 634.9h0M589.2 641.9h0M586 632.3h0M576.5 633.9h0M559.4 635.3h0M596.5 648h0M570.1 641.5h0M586.7 617.7h0M586.4 615h0M567.6 643.3h0M594.2 615h0M601.3 633.1h0M568.7 636.1h0M579.7 648.7h0M544.6 639.7h0M592 619.7h0M574.7 633.3h0M567.1 630.5h0M601.2 626.8h0M565.6 648.9h0M559.8 628.8h0M593.7 620h0M573 622.9h0M575.5 623.9h0M567.4 637.3h0M600.9 624.6h0M598 625.3h0M579.9 637.9h0M588.4 639.4h0M553.5 624.8h0M551.5 630.8h0M593.6 643.3h0M544.9 622.8h0M586.1 634h0M579.6 640.8h0M585.6 621.2h0M587.5 620.6h0M550.5 623.6h0M553.1 628.4h0M566.8 634.6h0M548.9 641.8h0M571.7 633.7h0M594.9 641.3h0M590.6 639.9h0M591.4 644.4h0M547.9 617.4h0M551.9 631.7h0M571.6 626.3h0M585.9 637.3h0M555 634.5h0M553.1 619.3h0M540.4 615.9h0M544.3 623.9h0M545.2 641.1h0M588.1 655.6h0M599.3 642.5h0M593.8 627.2h0M585 643.8h0M602.5 629.6h0M592.3 613.8h0M541.3 620.2h0M599.9 636.7h0M594.7 642.9h0M545.4 629h0M572.7 639.2h0M586 643.8h0M562 630.3h0M546.3 633.8h0M594.6 617.7h0M552 640h0M542.8 638.5h0M558.9 624.5h0M592.7 634.1h0M573.5 626.6h0M598.3 630h0M585.5 632.2h0M589.1 623.4h0M594.4 623.8h0M572.7 633.8h0M552.9 632.2h0M562.4 625.1h0M543.9 633.4h0M604.7 636.9h0M584.7 632h0M594.5 643h0M556.6 630.9h0M599.4 623.8h0M602.1 641h0M595.1 631.3h0M603.9 634h0" stroke="#f07d75" stroke-width="1.1" stroke-linecap="round" fill="none"/><path d="M565.5 565.4h0M586.5 596.2h0M554.9 562.5h0M586.4 587.5h0M563.6 563.5h0M574 595.5h0M578.6 574.4h0M553.4 567.9h0M580.9 577.6h0M570.5 590.2h0M556.2 577.8h0M563.3 562.6h0M553.1 562.5h0M587.3 596h0M582.9 603.8h0M587.6 588.9h0M556 560.2h0M554.2 569.1h0M571.9 567.6h0M588.8 595.6h0M585.4 588.6h0M587.4 598.7h0M584.9 604.3h0M555.8 559.4h0M569.4 568.4h0M588.8 590.9h0M555.5 576.2h0M563.2 585.9h0M555.7 577.3h0M587.8 598.4h0M586.2 593.3h0M584.4 580.7h0M584.6 582.9h0M565.5 562.9h0M564.1 583.9h0M585.7 579.8h0M585.8 587.9h0M577.6 575.1h0M568.7 589.7h0M582.4 578.4h0M587.3 596.6h0M577.5 575.6h0M561.1 582.2h0M582.8 579.3h0M578.9 604.1h0M584.2 602.5h0M557.1 560.5h0M552.8 565h0M555.7 575.2h0M563.4 586.1h0M571.4 569.1h0M558 576h0M555 564.6h0M554.6 573h0M574.3 596.1h0M560.6 576.4h0M580.9 575.6h0M563.6 586.9h0M585.3 582.7h0M586.6 583h0M558.8 578.9h0M564.7 560.7h0M559.4 560.2h0M570.8 592.5h0M556.6 575.4h0M580.1 600.6h0M576.4 598.5h0M564.3 562.5h0M585.1 603.2h0M554.5 566.1h0M586.5 597.3h0M580.5 601.5h0M579 571.3h0M568.2 567.3h0M555 570.4h0M573.3 570.1h0M554.2 566h0M553.5 572.7h0M564.1 563.5h0M560.4 580.3h0M559.3 560.8h0M552.9 568h0M558.3 579.1h0M556.4 560.1h0M565.5 585.7h0M586.9 592.4h0M570 567.4h0M587.8 592.3h0M586.7 592.3h0M553.1 570.4h0M584 603h0M557.7 573.6h0M578.7 598.9h0M588.4 591.2h0M574.8 571.6h0M564.3 585.6h0M578.7 598.5h0M556.5 560.9h0M575.6 570.1h0M589.2 592.5h0M577.6 573.2h0M555.9 559.2h0M553.6 559.5h0M564.1 587.5h0M570.4 591.1h0M580.2 600h0M575.2 597.1h0M573.2 570.5h0M585.3 582.5h0M586.7 601.8h0M557.5 574.5h0M584 583h0M563.4 586.1h0M566 562.1h0M570.5 591.7h0M558.4 561.7h0M585.5 593.9h0M566.6 565.1h0M584.5 582.3h0M556.2 571.9h0M562.1 584.3h0M554.2 567h0M567.3 585.9h0M587.1 597.7h0M578.6 573.4h0M558.8 576.6h0M571.8 569h0M581.3 578.7h0M580.6 597.6h0M575.3 573.7h0M566.5 585.3h0M564.4 564h0M565.8 563.9h0M582 578.5h0M587.7 592.5h0M577.5 572.5h0M565.5 566.4h0M588.5 596h0M553.2 562.8h0M555.9 572.6h0M557.2 580.3h0M567.1 591.5h0M584.7 580.5h0M587.3 592.5h0M561.6 583.2h0M576.7 600h0M570.5 569.5h0M583.3 575.3h0M565.1 586.7h0M566.6 590.6h0M583.7 583.7h0M572.4 589.9h0M563.1 563.3h0M586.3 588.4h0M560.1 559.2h0M560.7 559.8h0M553.8 560.2h0M579.5 575.7h0M575.8 597.7h0M561.4 586.1h0M573.6 571h0M580.4 599.7h0M555.2 570.5h0M582.1 601.5h0M556 575h0M564.7 583.2h0M586.1 584.3h0M582.8 582.1h0M553.2 567.9h0M589.8 595.3h0M551 566.9h0M571.5 568h0M580.7 574.4h0M574.8 570.9h0M563.3 586.7h0M585 584.2h0M567.5 565h0M553.5 567.1h0M563.6 586h0M582.9 601h0M560 560.6h0M583.9 578.9h0M585.8 597.8h0M584.1 601.8h0M588.5 590.6h0M559.2 579.5h0M564.8 563h0M589 589.7h0M569.7 591.7h0M581.8 579.5h0" stroke="#2cb5e1" stroke-width="1.15" stroke-linecap="round" fill="none"/><polygon points="556.2,562.0 555.3,566.9 557.0,574.0 562.7,581.6 571.5,590.4 580.3,598.2 583.9,600.2 584.8,595.7 585.3,588.4 582.1,581.2 575.6,573.7 565.9,567.9 565.7,567.8 565.6,567.7 559.1,562.2 556.2,562.0" fill="#2cb5e1"/><path d="M559.2 561.8h0M565.4 575.9h0M576.5 587.6h0M579.2 592.1h0M571.4 571.9h0M560.9 575.6h0M570.2 577.2h0M560.7 579.5h0M555 569.8h0M566.1 584.3h0M560.5 564.2h0M574.8 577.5h0M570.4 578.1h0M585.3 594.6h0M578 587.4h0M567.9 571.1h0M579.3 598.5h0M571.6 583h0M568.1 576.4h0M560.2 578.6h0M570 571.7h0M559.2 568h0M585.6 590.2h0M580.7 585.7h0M564 568.8h0M563.1 582.5h0M554.1 563.9h0M571.6 573.7h0M573.2 585h0M586 600.8h0M562.3 566.2h0M557.5 561.5h0M586.3 598.6h0M555.3 570.6h0M566.9 580.5h0M560.3 575.4h0M560.5 563.2h0M572.9 578.5h0M555.1 561.1h0M568.9 569.9h0M567.6 588.3h0M571.6 571.3h0M559.1 580.1h0M554.9 571.2h0M556.9 571.8h0M578.8 589.8h0M579.3 595.7h0M585.9 584.5h0M585.6 592.4h0M573.1 581.7h0M570 589.1h0M570 577.8h0M568.5 567.6h0M576.5 596.3h0M557.5 566.4h0M559 569.4h0M572.3 569.8h0M576.2 594.4h0M558.6 577.1h0M569.8 583.6h0M556.4 564.3h0M559.3 577.1h0M570.2 591.9h0M570.9 581.4h0M567.5 588.9h0M579.8 592.8h0M574.9 578.3h0M579.3 587.6h0M568.7 569.4h0M570.7 578.3h0M578.8 590.4h0M560.2 575.2h0M560.1 572.8h0M561.3 563.6h0M573.4 589.2h0M569.3 578.6h0M572.1 573.3h0M586.4 593.4h0M557.3 576.1h0M568.1 580.3h0M559.6 576.6h0M571.4 591h0M572.6 593.3h0M566.3 565.9h0M585.9 588.2h0M573.4 575.6h0M581.6 594.8h0M572.5 583.2h0M574.7 579.2h0M579.5 578.9h0M572.2 570.3h0M571.4 578.9h0M561.6 561.5h0M569.4 572.1h0M585.6 591.7h0M585 586.9h0M566.3 567.7h0M572.8 579.1h0M582.4 600h0M563.1 581.3h0M586.7 597h0M561.9 570.3h0M568.7 584.9h0M567 578.2h0M565.4 566h0M562.2 582.4h0M572.8 574.4h0M570.2 569.5h0M554.5 564.1h0M578.8 574.5h0M567 587.8h0M558.7 573.4h0M566.2 568.4h0M575.3 595.6h0M559.3 571.4h0M562 568.8h0M577.7 592.1h0M553.5 568.9h0M580.1 597.5h0M565.9 578.7h0M566.8 583.1h0M574.9 580.2h0M558.3 570.3h0M563.5 583h0M566.8 570.5h0M572.8 578.6h0M582.8 594.7h0M563.3 583.1h0M576 589.9h0M569.7 583.3h0M573.1 572.6h0M585.8 592.1h0M560.3 564.7h0M555.1 561h0M583.8 584.1h0M562.2 562.9h0M579.2 580.1h0M566.6 583.6h0M557.9 563.2h0M578.5 583h0M576.5 581.5h0M567.7 569.4h0M580 585.7h0M574.8 583.3h0M573.8 585.5h0M583 595.5h0M562.5 566.5h0M556 569.3h0M579.8 582.4h0M569.5 581.4h0M574.2 581.7h0M558.6 572.1h0M568.2 583.8h0M569.5 588.4h0M555.4 565.4h0M573.7 587.4h0M569.6 574.9h0M579.9 581.1h0M573.2 588.1h0M571.2 570.6h0M578.2 580.3h0M578.2 591h0M577.9 595.8h0M570.8 573.4h0M560.3 575.4h0M553.6 566.4h0M574.9 595h0M569.6 579.9h0M581.9 588.7h0M559.1 577.4h0M582.5 593.6h0M564.8 566.5h0M569.9 585.4h0M586.5 591.1h0M558.1 573.2h0M557.9 577.5h0M581.7 587.5h0M579.6 593.8h0M558.7 573.9h0M568.7 589.7h0M565 576.1h0M578.2 587.1h0M582.4 587.4h0M566.7 574.2h0M577.8 581.7h0M580 584.9h0M567.1 567.6h0M579.9 592.5h0M558.6 562.6h0M577.2 581.4h0M568.3 582.1h0M575.6 573h0M565.8 576.1h0M573.4 578.1h0M581.2 583.2h0M580 597.2h0M573.9 590.7h0M570.6 586.5h0M585.3 602.8h0M565.6 566.2h0" stroke="#2cb5e1" stroke-width="1.15" stroke-linecap="round" fill="none"/><path d="M575.6 594.6h0M578.6 599.4h0M560.9 586.6h0M564.8 590.9h0M561.3 586.1h0M564.9 586.2h0M569.5 590.7h0M569.5 596.1h0M567.8 595.6h0M568.3 592.2h0M578.1 597h0M564.6 588.8h0M563.1 590.8h0M572.6 599h0M557.4 582.3h0M561.1 587.8h0M570 591.4h0M568.6 595.1h0M565.9 592.4h0M567.6 595.4h0M569.3 596.8h0M576.6 593.6h0M564.6 587.7h0M558.5 589.1h0M575.2 600.9h0M581.9 600.5h0M580.3 598h0M555.2 579.9h0M579.8 598.6h0M578.5 598.1h0M575.4 594.3h0M555.4 580.8h0M577.7 596.3h0M581.9 596.7h0M567.2 592.4h0M559.9 582.9h0M566.7 588h0M581.8 599.7h0M583.8 602.3h0M579.5 596.5h0M580.6 602.2h0M555.9 580.4h0M572.2 594h0M554.6 582.7h0M559.9 585.5h0M571.3 597.9h0M556.1 583.4h0M577.8 601.8h0M556.4 584.8h0M572.5 593.8h0M574.6 594.7h0M557.9 586.9h0M561 587.5h0M560.5 587.1h0M574.1 595.3h0M557.2 582.4h0M572.2 594.1h0M555.5 580.3h0M575.7 594.3h0M554.8 582.2h0M567.4 592.6h0M576.5 599.4h0M581.8 602.2h0M570.2 595.7h0M570 592.9h0M571.9 596.9h0M561.9 590.7h0M581.2 601h0M568.5 594.1h0M569.1 589.8h0M561 584.1h0M579.2 596.8h0M559.7 589.1h0M575 596.1h0M560.1 586.5h0M567.9 595.3h0M566.5 594.1h0M573.2 596.9h0M572.3 593.2h0M582.4 602.5h0" stroke="#f07d75" stroke-width="1.1" stroke-linecap="round" fill="none"/><path d="M634.9 696.4h0M635.5 698.3h0M624.3 707h0M641.4 703.7h0M623.2 694.4h0M632.4 700.1h0M622.4 694.9h0M630.5 711.4h0M629.1 693.8h0M634.2 713.5h0M638.1 708h0M629.2 690.7h0M627.4 698.1h0M627 714.3h0M632.6 713.7h0M627.2 695.5h0M641.4 709.3h0M636.8 710.5h0M642.7 715.7h0M640.4 694.2h0M639.4 687.5h0M639.7 688.4h0M640.8 694.9h0M635.4 689.9h0M632.3 720.2h0M633.2 718.6h0M639.7 687.6h0M634.7 704.5h0M622.9 707.3h0M640 705.6h0M630.5 712.3h0M641.6 703.9h0M640.9 707.8h0M624 690.5h0M642.1 700.3h0M636.5 710.8h0M628.1 699.2h0M635.3 718.5h0M621.6 692.9h0M642.7 701.4h0M635 703.7h0M638.5 706.2h0M644.6 713.4h0M631.5 688.4h0M640.4 716.5h0M640.4 708.6h0M637.9 713.5h0M625.2 714h0M632.1 701.1h0M627 695.7h0M642.3 699.3h0M639.5 692.5h0M641.4 697.7h0M633.8 703.1h0M633.2 720.4h0M635 713.7h0M634.2 716h0M644.6 714.1h0M625.2 691h0M626 703.8h0M623.5 695.5h0M639.6 692.2h0M632 695.7h0M630.8 709.2h0M625.2 695.3h0M624.5 693.9h0M638.7 694.3h0M624.4 695.7h0M638.8 694.6h0M639.1 691h0M628.8 692.1h0M638 686.9h0M624.1 710.5h0M624 692h0M628.1 705.9h0M630.3 689.3h0M622.4 691.5h0M627.4 701.2h0M630 707.7h0M624 693h0M625.3 693.9h0M623.4 708.8h0M629.1 716.7h0M623.7 690.3h0M633.6 695.5h0M638.2 713.9h0M641.7 698.2h0M632.5 721.4h0M627.2 689.8h0M626.7 698.7h0M643 711.1h0M637.7 719.4h0M625.7 693.6h0M636.4 690.6h0M631.7 707.2h0M622.5 701.5h0M639.1 708.6h0M642 702.1h0M628.4 713.9h0M632.2 721h0M638.5 711.8h0M639.6 709.7h0M632.7 704h0M627.8 709h0M641.5 694.4h0M631.2 703.5h0M628 706.3h0M633.3 701.2h0M626.2 709.4h0M639.4 708.5h0M638.8 690.2h0M623.6 701h0M628.4 696.5h0M626.8 694.1h0M639 700.1h0M629.1 711.5h0M629.9 705.8h0M632.2 717.9h0M640.7 712.1h0M635.8 708.4h0M639.8 719.3h0M632.8 715h0M626.2 697.2h0M628.3 705h0M624.7 703.9h0M628.2 697.4h0M641.1 695.3h0M638.6 711.8h0M630.2 688.3h0M624.2 696h0M627.9 704.3h0M629.1 716.2h0M639.9 711.1h0M622.2 697.2h0M629.1 713.2h0M634.9 699h0M635.5 688.5h0M623.5 709.5h0M635.4 696.9h0M639.4 693h0M624.6 698.4h0M644 710.3h0M641.8 699.7h0M626 689.7h0M626.2 702.4h0M629 714.7h0M633 705.1h0M627.2 712.8h0M627.4 713.5h0M626.1 695.3h0M639 711.6h0M633.1 722h0M631.6 699.9h0M640.8 700.5h0M622.5 707h0M643 704.6h0M641 704.1h0M634.5 715.3h0M627.1 702.7h0M635.9 694.8h0M635.2 721.2h0M639.5 712.4h0M638.2 714.3h0M627.5 713.6h0M643.7 710.9h0M630.2 692.6h0M624.4 694.3h0M631.2 714.3h0M635.9 704.2h0M642.4 705.4h0M637.5 708.3h0M641 697.5h0M638.8 688h0M635.7 706.1h0M637.9 709.4h0M623.3 700.8h0M623.9 702.4h0M632.3 688.8h0M633.7 702.4h0M639.4 694.2h0M630.2 714.6h0M638.1 706.9h0M626.4 707.1h0M626.4 692.6h0M634.5 695.2h0M629.3 704.2h0M626.3 710.4h0M632.3 711.7h0M622.6 702.1h0M632.8 715h0M633.6 695.5h0M621 692.2h0M633.3 719.3h0M636.3 705.5h0M631.6 714.2h0M641.6 703.1h0M620.4 694h0M637.8 699.1h0M626.9 689.4h0M640.2 703.2h0M626.7 713h0M627.8 701.2h0M626.9 691.7h0M620.8 691.6h0M634.2 695.3h0M626.8 704.4h0M626.4 696.3h0M626.5 716.4h0M639.5 691.3h0M640.7 697.2h0M621.2 691h0M628.3 697h0M634.7 693.4h0M639.1 703.7h0M635.9 702.4h0M629.3 707.1h0M621.6 700h0M640.7 699.3h0M634.3 706h0M631.7 699.6h0M634.2 710.5h0M633.1 717.3h0M627.9 710.5h0M640.2 705.1h0M629.6 698.4h0M634.1 690h0M631.7 694.6h0M635.1 710.8h0M638.5 705h0M634.7 702h0M637.7 707.8h0M638.3 708h0M636.1 709.1h0M623.9 707.6h0M632.3 720.1h0M624.8 693.8h0M631.9 693.4h0M634.3 722.9h0M642.9 713.5h0M638.6 690.9h0M628.6 699.7h0M626.5 709.3h0M624.1 698.4h0M630.1 716.5h0M635.3 692.6h0M631.5 706.9h0M638.5 696.5h0M638.2 699h0M625 698.8h0M640.4 694.9h0M632 721h0M639.2 712.1h0M637.9 693.3h0M629.7 711.6h0M637.2 714.5h0M637.2 703.4h0M622.4 694h0M639.7 697.3h0M636 686.7h0M623.4 691.2h0" stroke="#40ae3f" stroke-width="1.2" stroke-linecap="round" fill="none"/><path d="M618.9 692.5h0M610.7 675h0M623.5 695.1h0M611.9 676.2h0M611.2 677.6h0M606.4 680.3h0M621.7 676.8h0M630.2 692h0M624 683.7h0M619 696.6h0M615.3 690.8h0M633.2 693.9h0M631.2 693.4h0M614.2 673.9h0M608.2 681.7h0M625.1 694.4h0M622.6 681.4h0M622.4 679h0M618.5 694.9h0M610.2 675.4h0M613.8 689.8h0M622.2 678.8h0M607.3 682.5h0M630.2 690.9h0M620.3 695.1h0M609.5 676.3h0M618.5 675.5h0M628.3 689.8h0M622.6 696.4h0M607.5 686.3h0M628 695.4h0M619.5 695.8h0M620.4 694.8h0M615.9 691.4h0M613.5 691.3h0M618.1 676.5h0M629 693.9h0M611.8 674.5h0M629.4 688.9h0M612.5 689.2h0M618.9 691.2h0M623.6 698.9h0M608.4 683.5h0M606.2 677.3h0M630.5 694.4h0M606.4 681.4h0M607.2 678.9h0M608.7 678.2h0M609.7 688h0M616.1 674.3h0M608.2 681.6h0M629.6 686.2h0M608.4 678.4h0M620.5 677.4h0M621.7 676.8h0M626.1 698h0M611.8 688.5h0M613.5 689.4h0M610.4 688.8h0M629.6 683.4h0M606.1 679.3h0M624.8 697.2h0M619 692.1h0M620.2 693.5h0M612.4 688.2h0M619.2 692h0M617 695.1h0M607 684.8h0M627.5 700.9h0M621.5 678.4h0M627.6 695.3h0M608.8 688.9h0M628.5 693.6h0M621.6 696.7h0M617.5 693.2h0M610.7 678.4h0M624.7 696.7h0M611.2 674.5h0M625.6 682.5h0M611.3 693h0M607.8 688.1h0M618.9 679.8h0M624 697h0M612.9 674.7h0M615.8 689.8h0M622 678.8h0M619.9 674.7h0M623.9 679.8h0M604.6 682.2h0M623.3 679.4h0M631.6 691.9h0M626.1 682.8h0M622.8 697.1h0M611.6 688.3h0M611.6 670.5h0M615 694.5h0M604 681.3h0M607.4 683h0M627.1 681.5h0M616.3 694.2h0M617.8 678h0M620.6 678.1h0M626.1 693.6h0M623.7 680.8h0M622.6 679.8h0M629 695.8h0M628.4 696.8h0M605 677.6h0M615.9 676.6h0M606.1 680.2h0M618.9 693.7h0M626.7 683.1h0" stroke="#40ae3f" stroke-width="1.15" stroke-linecap="round" fill="none"/><polygon points="608.3,678.9 611.5,686.9 618.9,692.4 625.5,694.9 628.9,691.5 626.5,685.1 619.1,678.6 612.2,676.9 608.3,678.9" fill="#40ae3f" fill-opacity="0.85"/><path d="M615.7 686.2h0M610.7 683.3h0M626.7 691.4h0M611.7 685.6h0M628.9 687.9h0M626.9 685.4h0M625.7 684h0M619 693h0M612.4 684.4h0M619 690.7h0M611.8 681.2h0M612.5 685.9h0M612 686.8h0M628.2 690h0M623 693.3h0M623.6 690.5h0M613.6 681.3h0M619.5 678.1h0M617.2 684.7h0M616.9 688.1h0M614.4 680.3h0M625.6 694.4h0M612.6 687.6h0M626.4 682.8h0M612.1 675.4h0M620.8 694.1h0M622.6 680.7h0M626.4 683h0M626.5 688.5h0M625.9 691h0M627.5 688.9h0M625.8 686.4h0M629.1 691h0M610.5 686.6h0M618.9 686.5h0M617 685.3h0M614.3 689.5h0M627.2 694.4h0M615.2 678.7h0M612.9 676.5h0M630.8 691.8h0M611.7 685.2h0M615 685.1h0M619 683.1h0M621 693.3h0M620.5 693.7h0M622.4 684.1h0M611.4 688.2h0M620.1 680h0M624.5 688.1h0M622.5 693.6h0M628.8 687.8h0M626.2 695.1h0M620.6 680.4h0M613.3 686h0M617.6 679.9h0M625.9 685.6h0M623.1 684.1h0M619.5 692.1h0M624 693.7h0M627.4 683.6h0M618.5 682.1h0M616.5 690.2h0M622.1 688.6h0M608.6 681.9h0M629.7 689.7h0M615.7 689.8h0M626.2 689.2h0M622.2 680.3h0M614.9 678.1h0M607.5 681.4h0M609.7 686.5h0M621.4 686h0M615.5 685.3h0M615.1 689.1h0M607.3 677.8h0M613.4 683.4h0M623 679.6h0M619.2 685.7h0M618.7 688.7h0M610.2 686h0M627 692.2h0M616.5 676.3h0M630.2 690.1h0M613.8 679.1h0M617.6 689h0M609.5 679.6h0M620.5 685.7h0M613.7 683.2h0M609.4 682.1h0M622.3 692.8h0M609.6 679.9h0M620.7 684.8h0M612 684.2h0M616.7 684.1h0M611.7 676.9h0M618.7 685.4h0M623.3 683.6h0M623 680.9h0M622 682.8h0M614.8 677.3h0M620.1 680.6h0M618 691.1h0M625.3 682.8h0M617.7 682.8h0M625.5 684.7h0M619.1 689.8h0M613.2 687.3h0M612 687.5h0M621.3 693.1h0M619.9 681.7h0M613.2 676.5h0M621.9 684.1h0M626.1 684.2h0M618.1 688.1h0M618.4 679.1h0M612.7 682h0M620 677h0M617.3 682.3h0M611.6 679h0" stroke="#40ae3f" stroke-width="1.15" stroke-linecap="round" fill="none"/><path d="M653.7 674.8h0M641.5 716.9h0M641.1 707h0M648 669.4h0M637 721.5h0M650.2 670.7h0M640.9 699.8h0M643 721.1h0M636.7 685.5h0M655.2 680.6h0M656.8 679.2h0M657.8 706.5h0M661.8 696.8h0M641 717.8h0M653.5 709.3h0M659.1 691.2h0M642.7 720.3h0M652.6 677.4h0M636.5 681.3h0M653.3 709.1h0M644.2 718.3h0M637.1 690.5h0M658.3 689.9h0M643 701.1h0M641.3 715h0M637.3 687.4h0M639.1 713.8h0M641 699.7h0M654.1 672.4h0M654.5 677.6h0M645.6 670.1h0M641.8 716.9h0M637 674.6h0M636 672.6h0M652.4 713.3h0M640.2 715.8h0M657.8 682.7h0M658.3 684.4h0M651.4 706.5h0M643.5 704.5h0M652.7 709.5h0M656.2 704.9h0M656.4 692.4h0M639 689.3h0M647 715.5h0M652.2 710.9h0M637.2 685.3h0M641.2 699.4h0M648.4 713.3h0M641.1 716.5h0M655.7 688.3h0M634.9 678.8h0M652.4 709h0M641.2 704h0M641.9 705.4h0M640.1 703.3h0M640.5 712.2h0M642.8 696.3h0M656.1 707.7h0M641.2 717.1h0M636.7 677.5h0M655.5 702.9h0M637.4 688.8h0M637.8 688.2h0M635.8 684.9h0M634 681.5h0M641.2 696.8h0M655.8 684.5h0M651.3 715.7h0M640.8 701.7h0M640.4 704.2h0M658 692.9h0M641 693h0M648.7 718.1h0M652.3 709.8h0M639 685.4h0M642.9 706.3h0M640.7 713.1h0M635.1 674.9h0M659 690.2h0M642.2 708.4h0M651.9 673.5h0M641.1 695.4h0M652.4 674.6h0M639.5 714.8h0M635.5 674.7h0M657.3 704.9h0M645.8 721.3h0M635.5 680.3h0M638.7 681.6h0M644.3 719.7h0M654.8 678.3h0M653.3 672.1h0M657.2 706.7h0M655.4 699.2h0M643 704.2h0M659.5 696.1h0M647.9 668.2h0M647 668h0M638.4 688.2h0M659.3 696.8h0M659.5 703.1h0M653.7 687.3h0M654.7 709.1h0M649.1 668.1h0M651.5 712.1h0M638 689.4h0M640.1 689.4h0M642.4 717.1h0M658.8 704.9h0M640.5 669.8h0M636.3 673.7h0M635 684.9h0M641.4 704.7h0M636 718.1h0M637.6 682.8h0M635.5 678.2h0M639.5 707.2h0M638.5 671.6h0M637.4 677.8h0M639.3 671.3h0M657.4 706.2h0M651.6 716.7h0M640.4 701.9h0M640.7 706.4h0M647.4 717.5h0M638.6 669h0M653.3 677.6h0M660 684.9h0M658.8 700.7h0M635.7 682.1h0M634.8 680h0M640 669.6h0M640.9 669.8h0M637.5 703h0M640.2 715.6h0M635.9 683.9h0M641.9 699.6h0M637.9 688.9h0M655.8 681.6h0M638.4 691.6h0M658.4 687.8h0M643.1 718.6h0M639.8 703.3h0M642.1 668.4h0M658.1 705.2h0M656.5 702h0M650.1 704.9h0M659.6 695.1h0M648.2 713.3h0M647.9 668.1h0M635.8 684.6h0M652.4 671.7h0M659 689.5h0M649.9 711.6h0M646 714.6h0M655 675.3h0M645.2 669.4h0M636.2 679.6h0M658.1 694.9h0M658.8 700.8h0M641.8 716.3h0M658.5 702.5h0M647 718h0M641.2 703.1h0M647.8 670.1h0M640.9 709h0M637.4 677.5h0M658.1 682.7h0M637.1 687.4h0M640.4 716.3h0M657.9 680h0M641.2 706.9h0M643.5 703.2h0M656.4 703.6h0M636.9 684.7h0M641.2 711.1h0M640.5 704.1h0M652.6 671.4h0M649.1 715.5h0M636.1 693.5h0M658.9 692.5h0M646.9 669.4h0M656.6 699h0M660.2 704.4h0M656.8 708.5h0M640.3 711.6h0M652.8 708.3h0M634.2 684.5h0M643.2 710.5h0M648.8 671h0M646.5 714.2h0M658 690.4h0M654.1 681.5h0M646.8 669h0M646.2 716.9h0" stroke="#40ae3f" stroke-width="1.15" stroke-linecap="round" fill="none"/><polygon points="638.7,673.0 637.8,683.8 641.7,694.4 641.7,694.5 641.8,694.7 643.8,705.7 643.8,705.8 643.8,706.0 643.8,706.2 643.8,706.4 642.0,715.4 643.9,717.4 648.6,711.8 648.7,711.7 655.4,705.1 657.2,697.9 656.2,686.4 652.4,676.9 648.0,670.7 643.4,669.9 638.7,673.0" fill="#40ae3f" fill-opacity="0.85"/><path d="M638.8 688.3h0M644.8 693.3h0M651 710.9h0M653.9 689.4h0M638.1 679.6h0M644.5 711.4h0M653.7 680h0M641.3 714.4h0M643.2 670.9h0M647.5 710.7h0M644.1 690.9h0M655.2 690.7h0M641.9 680.8h0M644.3 671.5h0M650.2 680.5h0M648.8 674.2h0M654.3 679h0M656.2 683.4h0M647.7 682.1h0M649.8 708.6h0M644.1 693.9h0M647.7 670.6h0M650.9 691.7h0M654 694.4h0M641.5 692.2h0M645.3 669.7h0M656 695.2h0M646.2 676.3h0M640.3 685.7h0M646.3 705.4h0M640.7 671.6h0M641.5 677.5h0M640.7 673.8h0M649.5 698h0M650.1 672.3h0M638.1 676.1h0M650.6 687.2h0M641.6 712.4h0M642.9 695.7h0M655.3 690.3h0M650.5 706.8h0M647.8 673.3h0M641.5 669.6h0M646.5 693.4h0M650.7 676.8h0M640.5 683.6h0M643.6 672.5h0M654.2 685h0M641.7 714.6h0M639.3 685.1h0M644.6 675.3h0M650 696.3h0M643 671.9h0M644.2 689h0M646.5 716.1h0M641.1 672.7h0M641.3 690.7h0M644.9 709.6h0M644.8 711.3h0M647.8 709.6h0M646.6 698.7h0M648.3 708.3h0M654.9 703.5h0M642.6 668.4h0M638.4 675.7h0M644.8 679.4h0M637.4 686.3h0M655.9 692.2h0M645.3 679.9h0M646.1 683.6h0M653.7 687.5h0M642.3 687.9h0M644.8 699.1h0M654 702h0M641.4 688.2h0M643.2 715h0M649.2 699h0M639.7 674.5h0M648.3 702.4h0M642.5 683h0M645.4 673.6h0M647.2 708.2h0M642.9 678.2h0M647 674.7h0M637.2 682.2h0M647.4 707.4h0M643.7 697.7h0M649.6 681.7h0M646.1 694.5h0M651.6 677.2h0M645.7 711.2h0M644.4 683h0M652.7 701h0M637.1 680.3h0M647.1 669.6h0M642.5 712.3h0M653.3 690.3h0M641.2 694.3h0M649.9 711h0M636.9 680.9h0M652.3 698h0M637.5 683.8h0M646.9 703.7h0M651.4 677.3h0M643.5 693.2h0M638.3 675h0M639.1 689.7h0M644.5 713.8h0M644.7 670.9h0M647.2 707.4h0M640.7 675.3h0M637 682.2h0M645.5 691.1h0M648.6 678.7h0M646.4 716.7h0M644.3 699h0M652.7 695.8h0M657.4 697.8h0M643.8 716.2h0M650.7 683.6h0M653 694h0M641.5 676h0M643 711.5h0M644.3 682.8h0M651 685.7h0M652.5 697.8h0M647.3 712h0M653.8 684.2h0M648.3 679.4h0M651.1 684.1h0M652.2 704.5h0M638.2 671.6h0M643.9 676.2h0M652.4 682.6h0M638.5 676h0M643.1 717.8h0M655.6 703.1h0M651.3 693h0M640.5 690.7h0M644.1 702.6h0M644.3 713.9h0M648.8 677.6h0M638.8 684.5h0M652.5 691.2h0M641.3 688h0M643 674.1h0M649.6 702.3h0M646.1 708.5h0M639.7 692.9h0M642.1 678.9h0M649.3 673.2h0M645 672.2h0M641.5 678.8h0M645.1 679h0M647.6 705h0M655 681.6h0M658.3 700.7h0M648.4 710.6h0M643.5 668.2h0M646.8 675.7h0M647.5 701.7h0M658.3 694.5h0M641.6 686.7h0M649.7 676.9h0M652.5 695h0M656.3 696.2h0M644.6 696h0M657.5 690.8h0M643.4 717h0M647.7 692.3h0M657.3 685.4h0M642 677.5h0M654.1 684h0M637.7 685h0M642.3 694.1h0M648 688.9h0M640.9 688.4h0M642.5 688.1h0M649.1 700.9h0M644.5 686.3h0" stroke="#40ae3f" stroke-width="1.15" stroke-linecap="round" fill="none"/><path d="M614.2 676.9h0M616.7 682h0M640.7 703h0M649.1 675.1h0M640 691.8h0M652.6 703.7h0M634.1 697.3h0M652.2 701.3h0M625.7 684.2h0M646.5 712.3h0M625.7 687.4h0M623 698.5h0M614.6 687.6h0M617.4 682.1h0M642.9 679.9h0M624.2 681.7h0M631.6 688.5h0M650.8 697.2h0M636.3 697.5h0M633.5 693.3h0M635 709.7h0M646 696.9h0M646.1 701.7h0M640.9 690.3h0M651.9 676h0M651.4 696.9h0M641.9 699.7h0M641.9 675.2h0M655.6 685.2h0M634.4 692.1h0M639.3 705.6h0M638.5 700.8h0M619.4 688.8h0M645 691.1h0M627.8 707.6h0M608.9 680.8h0M623.8 685.7h0M651.5 679.1h0M653.4 691.8h0M620.5 679.6h0M645.7 680h0M621.2 699.2h0M655.8 689.3h0M639 678.9h0M642.3 678.5h0" stroke="#f07d75" stroke-width="1.1" stroke-linecap="round" fill="none"/><path d="M603.4 684.6h0M598.6 686.1h0M607 682.2h0M608.2 683.4h0M602.6 678.5h0M600.7 683.7h0M602.7 675.1h0M604.5 674.9h0M600 682.6h0M609 682.2h0M605.2 685.3h0M605.9 683.5h0M606.4 676.4h0M610.5 679.4h0M600.5 683h0M602.6 674.6h0M608.8 676.2h0M606.8 685h0M606.4 675.9h0M602.2 678.9h0M603.4 680.3h0M603.3 685.4h0M603.2 676.2h0M607.5 683.2h0M605.1 680.3h0M600.1 687.5h0M605.1 674.3h0M603.1 674.3h0M606.1 680h0M607.1 686.5h0M608.4 676.3h0M604.3 688.3h0M607 677.9h0M599 685.8h0M605.3 686.7h0M602.4 682.7h0M609.5 682.4h0M608.6 680.1h0M603.7 674.2h0M608.3 682.2h0" stroke="#f07d75" stroke-width="1.1" stroke-linecap="round" fill="none"/><path d="M546.8 746.9h0M548.3 751.7h0M591.7 777.4h0M549.9 816.7h0M588.1 796.4h0M587.7 772.6h0M588.2 798.5h0M562.5 817.1h0M542.1 758.5h0M536.6 763.3h0M538.1 793.6h0M580.1 810.2h0M555.8 819.5h0M585.6 804.6h0M536.3 763.9h0M581.2 810h0M583.5 747.7h0M531.8 781.8h0M588.2 797.8h0M539.8 801.6h0M585.5 800h0M592.1 777.9h0M533.3 766.8h0M550.9 818.9h0M589.5 764.8h0M546.2 754.6h0M540 758h0M540.5 801.2h0M553.1 818.4h0M534.9 794.2h0M566.7 817.7h0M559.5 818.9h0M549.6 751.2h0M589.9 768.7h0M533.5 781.4h0M536.8 791.7h0M587.4 769.7h0M540 799.7h0M553.4 745.7h0M549.2 814.2h0M566 818.5h0M551.9 747.8h0M592.1 780.2h0M570.3 746h0M544 752.2h0M566.4 817.5h0M578.9 748.1h0M581.3 808.2h0M591.3 775.9h0M590 761.6h0M568.6 817.5h0M562.5 744.3h0M583.1 804.4h0M548.3 815.3h0M532.7 777.3h0M536.4 773.3h0M589.9 792.5h0M591.3 776.9h0M562.8 820.7h0M591.7 760.8h0M591.5 760.1h0M551 753.1h0M578.5 744.9h0M535 772.3h0M573.6 744.4h0M590.2 755.1h0M591.2 782.1h0M581.5 748.6h0M539.9 761.9h0M537.1 771.4h0M536.1 790.3h0M569.7 739.7h0M590.5 760h0M583.2 745.9h0M572.1 813.8h0M567.4 742.8h0M567.2 816.1h0M530.2 784h0M561.3 820.3h0M549.7 818.2h0M532.3 783.1h0M582 808.5h0M579.5 808.9h0M587.9 782.3h0M540.1 755.6h0M534 790.5h0M537.3 768.1h0M589.9 756.6h0M539 801.3h0M587.1 794.3h0M581.7 743.1h0M536.8 770h0M552.9 815.5h0M532.3 777.1h0M594.3 770.3h0M538.4 799.5h0M531.8 783.5h0M586.8 754.9h0M539.1 765.6h0M542.2 758.7h0M538.4 793.3h0M537.5 764.4h0M539.3 792.1h0M531.5 790.1h0M561 745.3h0M549.8 814.6h0M593.6 772.1h0M575.8 812h0M553.8 743.2h0M550.3 818h0M585.6 753.9h0M570.2 818h0M529 783.8h0M573.5 748.5h0M592.2 778.4h0M538.8 764.5h0M570 815.7h0M541.3 807.9h0M584.9 752.5h0M576.8 815.1h0M574.9 744.1h0M542.5 751.8h0M558.2 744.5h0M579.8 752.6h0M554 819.1h0M590.5 763.6h0M591.8 762.1h0M538.3 795.8h0M538.2 765.7h0M552.3 819h0M534.5 777.3h0M550.8 817.5h0M551.9 818.2h0M535.5 770.7h0M591.3 771.3h0M543.9 753.5h0M583.9 803h0M591.9 777.7h0M557.1 745.8h0M538.4 799.6h0M584.3 750.6h0M568.7 744.4h0M539.6 794.8h0M534.8 778.1h0M579.7 748.4h0M564.2 744.4h0M563.6 744.2h0M577.1 743h0M539.8 806.7h0M586.9 800.4h0M573.2 743.4h0M583.8 805.7h0M554.3 746.1h0M539.7 761.2h0M590.8 771.9h0M555.6 747.4h0M553.9 820.4h0M555.1 745.5h0M589.7 788.4h0M548.9 816.9h0M554.3 745h0M586.4 805.4h0M586.7 753.3h0M582.9 800.8h0M551.5 747.7h0M582.6 809.3h0M570.2 739h0M592.5 774.1h0M547.2 747.7h0M580.6 812.7h0M586.7 794.7h0M549.6 748.8h0M533.2 776.4h0M537.9 794.2h0M590 758.1h0M562.8 745.3h0M562.2 818.6h0M592.3 763.9h0M579.9 749.7h0M556.3 818h0M573.7 742.9h0M588.4 792.9h0M537.6 806.2h0M553.5 743.7h0M565.5 741.8h0M588.9 780.6h0M537.6 794.7h0M537.3 761.4h0M541.4 755.7h0M536 791.4h0M587.8 793.6h0M539.2 759.2h0M536.8 797.6h0M561.2 820.4h0M549.8 815.6h0M536.9 771.9h0M552.5 817.2h0M546.8 745.9h0M591.9 765.5h0M570.1 744.3h0M528.8 782.3h0M546.8 751.3h0M530.7 784.1h0M543.3 810.1h0M540.6 762.3h0M556 746.2h0M591.1 769.9h0M580.3 807.9h0M534.4 791.6h0M551.9 813.5h0M567.3 743.6h0M533.9 789.9h0M591.3 762.2h0M536.6 793.5h0M561.5 746.4h0M535.4 789.6h0M535.9 789.2h0M552 748.1h0M548.4 814h0M540.3 758.1h0M547 754.5h0M588.8 783.1h0M580.4 808.9h0M542.7 757h0M556.9 744.9h0M590.5 781.6h0M545.8 752.1h0M538.3 797.9h0M583.2 750.4h0M588.3 793.4h0M580.1 808.5h0M591.1 774.8h0M543.8 755.5h0M590.5 782.5h0M574 743.3h0M574 740.8h0M556.7 744.7h0M582.2 803h0M588 755.8h0M533.1 785.6h0M592.3 769.8h0M589.6 757.1h0M532.3 768h0M541.5 805.1h0M539.2 768.1h0M589 755.4h0M583.5 802.3h0M537 767.6h0M577.6 746.6h0M548.4 818h0M540.3 804.3h0M573.8 741.2h0M547.2 752h0M550.9 748h0M536.1 798.2h0M584.3 748.4h0M588.8 789.1h0M532 781.4h0M588 756.3h0M586.5 802.5h0M587.9 749.9h0M589 756.6h0M537.9 795h0M592.2 776.4h0M584.6 749.6h0M586.9 795.4h0M547.8 815h0M592.2 773.9h0M589.9 763.6h0M539.3 797.4h0M541.2 806.9h0M540.4 762.7h0M549 749h0M540.4 756h0M591.4 759h0M538.2 796.6h0M572.4 743.1h0M578 746.2h0M556.2 746h0M539.8 761.5h0M532.7 778.2h0M589.2 786.7h0M590.8 770.1h0M550.6 746.8h0M561.5 817.9h0M578.5 810h0M536.9 773.7h0M555.6 747.5h0M587.6 790.4h0M585.7 801.5h0M585.9 753.4h0M537.9 794.4h0M568.9 812.5h0M576.2 744.4h0M534.8 794.8h0M575.7 744.8h0M567.4 815.7h0M537.2 792.5h0M583.8 802.1h0M587.5 754.7h0M584 801.7h0M590.9 783.7h0M542.5 763.5h0M557.6 818.7h0M533.1 781.3h0M564.5 817.3h0M577.3 808.7h0M592.1 766.4h0M537.8 763.5h0M534.2 788.3h0M548 810.7h0M552.4 748.3h0M585.9 747.6h0M569.2 817.9h0M590.6 780.2h0M536.3 791.5h0M535.1 785.9h0M588 798.3h0M593.5 769.1h0M534.9 788.3h0M560.5 748.2h0M574 744.6h0M568.2 743.4h0M589.3 761.4h0M535.5 769.7h0M541.8 761.4h0M583.7 804.2h0M558.4 818h0M549.2 750.8h0M590.1 772.3h0M561.3 816.4h0M593.9 762.8h0M587.9 795.2h0M552.9 817.9h0M589.4 789.7h0M586.1 754.6h0M567.8 744.5h0M583.6 750.6h0M546.7 813.9h0M582.3 748.4h0M537.2 769.6h0M532.5 787.8h0M570.6 815.5h0" stroke="#d59c1f" stroke-width="1.15" stroke-linecap="round" fill="none"/><polygon points="536.5,779.1 533.4,783.9 538.6,790.9 538.7,791.1 538.8,791.3 538.9,791.5 542.9,803.5 548.6,813.0 557.5,817.5 568.6,814.6 578.1,809.0 583.8,799.5 587.7,785.6 589.8,771.7 587.8,758.3 580.4,749.1 567.4,745.4 552.2,749.2 542.8,758.6 536.8,778.5 536.7,778.7 536.6,778.9 536.5,779.1" fill="#d59c1f"/><path d="M625.6 736.9h0M593.7 782.1h0M620.2 775.5h0M606.2 738.5h0M590.8 799h0M620.1 762.5h0M601.1 762.8h0M621.2 760.7h0M596.2 773.9h0M602.2 753.9h0M628.1 749h0M620.1 758.7h0M614.6 775.9h0M590.5 790.8h0M598.9 769.9h0M614.7 779h0M600.6 770.4h0M616.1 772.3h0M630.2 749h0M602 749.8h0M603 792.1h0M621.8 735.8h0M612.4 735.4h0M600 750.3h0M616.1 776.4h0M602.7 753.9h0M621.4 761.2h0M599.2 771.4h0M607.4 738.5h0M600.4 776.5h0M604.9 738h0M627.2 755.1h0M626.5 753.9h0M621.8 761.2h0M616.5 732.5h0M626.5 744.5h0M622 735.8h0M600.9 796.4h0M617.2 771h0M623.8 754.5h0M592.7 798.5h0M616.9 771.1h0M628.1 754.5h0M604.6 751.6h0M600.3 765.3h0M630.9 748.6h0M598.2 769.5h0M601.4 749.1h0M591.4 785.4h0M609.5 789h0M589.5 801.2h0M599.9 753.5h0M630.8 743.1h0M610.2 735.5h0M626.2 741.6h0M601.2 752.2h0M627.5 739.4h0M599.5 746.6h0M601.1 765h0M616.8 777.2h0M611.9 786.4h0M627.5 747.2h0M600.9 761.7h0M591.2 797.9h0M604.2 793.6h0M589.6 792.3h0M601 791.8h0M616.4 774.8h0M613.7 735.1h0M609.6 788.6h0M615.4 764.7h0M604 750.3h0M609.9 736.5h0M620 734.1h0M629.5 748.8h0M590.9 786.6h0M629.9 750.9h0M604.9 740.6h0M590.6 785.3h0M603.6 790.1h0M617.1 763.1h0M594.1 799h0M615.8 773.7h0M603.4 748.3h0M602.5 747.7h0M612 785h0M594.7 774.9h0M601.6 795.8h0M614.4 736.4h0M614.9 781.7h0M603.2 756h0M599.3 771.4h0M621.3 760.3h0M628 750.9h0M591 796h0M617.6 761.7h0M607.5 790.5h0M613.4 783.4h0M591.4 798.7h0M614.5 778.8h0M627.2 734.4h0M614 782.9h0M604.4 767.2h0M593.4 780.2h0M590.5 789.8h0M611.6 782.9h0M615.7 774.1h0M623.6 767h0M614.7 776.7h0M606.1 736.9h0M601.7 762.2h0M620.7 763.5h0M603.7 744.7h0M627.5 742.8h0M604.4 734.6h0M611.4 785.3h0M625.7 736.7h0M617.4 764.1h0M588.7 798.4h0M627.6 745.4h0M600.9 748.6h0M604.9 764.5h0M597.7 795.3h0M594.2 798.1h0M615 772.3h0M623.8 741.3h0M605.1 790.4h0M602.5 738.6h0M629.1 742.2h0M590.8 786h0M590.4 787.1h0M620.4 774h0M596.8 775.4h0M627 752h0M595.3 772.9h0M591.2 787.6h0M624.3 759h0M629.1 755.9h0M590.7 788.1h0M601 769.1h0M595.7 801h0M613.8 782.1h0M587.1 793h0M602 753.9h0M611 791.6h0M608.2 790.2h0M611.2 786.7h0M600.3 762.3h0M590.7 799.2h0M588.2 797.7h0M629.2 748.5h0M595.2 798.4h0M607.1 740.3h0M605 794.1h0M617.4 764.8h0M585.2 793.7h0M615.9 774.5h0M596.6 774.2h0M604.4 757h0M615.5 776.8h0M598.2 800.4h0M601 760.2h0M615.3 777.8h0M590.9 786.1h0M597 798.3h0M600.9 795.1h0M618 770.7h0M616.5 768.9h0M603.3 742.1h0M624.8 756.4h0M607.9 737.4h0M584.3 792.2h0M605.6 741.6h0M601.6 767.3h0M593.6 782.3h0M617.4 734.7h0M616.4 765.2h0M599.6 742.2h0M592.3 799.5h0M601.8 795.3h0M615.4 763.9h0M615.2 772.4h0M593.5 784.3h0M627.5 743.3h0M594.8 793.2h0M626.9 742.4h0M594.3 798.4h0M615 733h0M616.1 731.7h0M624.9 746.7h0M601.9 795.7h0M596.3 776h0M629.3 752.9h0M619.8 762.4h0M611.6 771.1h0M618.6 767.8h0M601 754h0M610.6 789.4h0M591.3 782.7h0M599.2 796.9h0M628.1 740.2h0M621.9 767h0M625.7 738.5h0M603.6 741.4h0M609.2 788.1h0M627.3 754.1h0M603.1 744.7h0M601.4 794.4h0M601.5 773.7h0M601.3 738.8h0M606.9 790.1h0M587.5 801h0M630.2 752.2h0M603.1 743.8h0M624.6 731.4h0M597.6 797.1h0M610.3 736.7h0M615.6 773.1h0M629.5 742.7h0M589.5 799.8h0M602.4 745.3h0M624.4 734.2h0M624.5 739.4h0M606.2 788.7h0M625.7 738.2h0M615.7 773h0M597.4 798.5h0M604.6 792.6h0M626.3 757.8h0M610.1 790.2h0M600.2 770.6h0M604.7 758.9h0M602.8 746h0M620.4 762.2h0M623.6 735.8h0M599 797.1h0M602.7 752.6h0M617.4 761.4h0M603.4 766.3h0M610.8 785.9h0M609.8 738.3h0M592.8 798.2h0M588.9 790.7h0M604.7 744.7h0M592.1 799.2h0M601.6 751.2h0M616.8 770.7h0M625.1 757.4h0M592.1 783h0M621 734.8h0M623.6 756.3h0M598.2 770.5h0M602 764.8h0M593.8 798h0M617.8 761.6h0M602.6 749.7h0M599.6 752.7h0M589.8 791.7h0M594.3 778.4h0M589.8 796.4h0M614.4 769.8h0M612.9 780.2h0M595.9 778.2h0M602.6 764.3h0M617.3 736.5h0M600.2 764.3h0M624.4 758.6h0M601.1 762.2h0" stroke="#2db39d" stroke-width="1.15" stroke-linecap="round" fill="none"/><polygon points="607.6,739.7 604.2,746.4 605.2,757.8 605.2,758.0 605.2,758.2 605.2,758.4 605.1,758.6 602.1,768.6 602.0,768.8 598.0,778.8 598.0,779.0 597.9,779.1 592.1,788.8 590.6,796.2 593.5,796.7 601.7,791.2 609.3,784.6 613.8,776.4 613.8,768.0 613.8,767.8 613.8,767.5 613.9,767.3 614.0,767.1 614.1,766.9 618.1,759.9 618.2,759.7 618.4,759.5 618.5,759.4 618.7,759.2 625.1,754.7 626.7,748.0 625.0,741.1 621.0,737.1 614.4,736.7 607.6,739.7" fill="#2db39d" fill-opacity="0.9"/><path d="M590 793h0M602.6 786.3h0M606 783.1h0M606 773.5h0M621.9 753.5h0M626 752.8h0M597.7 784.9h0M607.3 761.1h0M616.7 758h0M611.8 784.2h0M615.3 772h0M606.7 748.1h0M613 774.7h0M600.6 772h0M605.4 787.7h0M606.2 742.9h0M625.3 751.8h0M607.1 749.3h0M605.8 775.9h0M615.7 751.3h0M609 781.9h0M620.7 744.7h0M605.4 741.1h0M606.7 763.4h0M605.1 754.4h0M608.1 757.6h0M594.1 792.7h0M607.4 756.8h0M603.1 744.2h0M619.5 744h0M603.9 765h0M601.6 764.7h0M603.7 747.3h0M597.8 793.3h0M608.9 739.1h0M590.7 791.8h0M607.3 745.8h0M608 763.7h0M604.8 788.8h0M599.2 794.6h0M620.5 745.6h0M608.6 766h0M605.6 741.6h0M604.3 757.3h0M602.7 774.8h0M607.6 746.3h0M612.2 753.7h0M601.5 782.1h0M608.8 750.2h0M608.2 750.4h0M593.1 789.3h0M611.2 760.6h0M597.5 777.4h0M611.6 739h0M620.4 753.8h0M624.2 751.5h0M611.7 769.2h0M601.8 769.8h0M599.5 771.6h0M614.6 746.1h0M614.3 777.1h0M603.3 791.1h0M599.5 783.9h0M603.7 790h0M591.4 791.1h0M601.2 777h0M616.5 751.1h0M606.5 785.8h0M607.1 788.4h0M607.6 782.6h0M627.5 747.2h0M611.6 781.8h0M608.2 756.4h0M611.7 771.1h0M611.4 762.6h0M590.4 791.3h0M616.7 763.3h0M599.8 782.4h0M622.4 754.6h0M593.1 794.4h0M597.6 774.1h0M615.8 772.8h0M602.9 764.7h0M616.6 741.4h0M597.8 783.4h0M607.3 778.7h0M596 787.2h0M609.7 784.9h0M618.2 756.2h0M622 745.2h0M611.3 751.6h0M621.3 750.8h0M613 740.1h0M604.5 785h0M606.8 771.9h0M616.9 750.2h0M604.5 775.3h0M621.1 756.9h0M600.4 791.4h0M612.6 754h0M605.8 772.5h0M614.7 756.5h0M596.9 786.4h0M609.8 784.6h0M616 751.4h0M617.7 740.3h0M600 780.7h0M618.2 759h0M600.6 773.8h0M611.4 769.3h0M608.3 785.4h0M605.7 770.8h0M611.8 757.5h0M604.8 776.9h0M604.6 755.1h0M605.2 765h0M606.9 759.6h0M612.3 758.5h0M621.5 737.7h0M603.1 782.1h0M612.6 767.6h0M612.4 763.9h0M599.8 776.3h0M592.5 791.7h0M598.7 774.5h0M607.2 746.1h0M611 772.9h0M604 764.3h0M623.1 754.3h0M604.9 743.1h0M624.3 753.8h0M622.9 739.8h0M612.3 776.1h0M612.8 772.3h0M628.3 750.1h0M602.6 765h0M598.5 773.2h0M612.4 737.1h0M604.7 788.9h0M621.1 741.9h0M605.1 766.9h0M601.6 769.9h0M607.2 755.6h0M619.8 749.1h0M601.1 784.5h0M596 791.2h0M613 778.8h0M611.3 756.2h0M620 742.7h0M618.4 747.7h0" stroke="#2db39d" stroke-width="1.15" stroke-linecap="round" fill="none"/><path d="M603.6 724.3h0M587.1 700.2h0M590.6 741.1h0M586.3 690.1h0M598.3 704h0M591.4 734.7h0M601 699.6h0M589.5 739.7h0M592.2 738.8h0M599 744.1h0M597.9 695.8h0M597.1 744.8h0M591.3 742.5h0M588.6 703.6h0M592 744.6h0M600.1 736.7h0M592.2 733.7h0M594.3 729.9h0M590.2 743.3h0M597.7 735.1h0M586.4 693.3h0M602.5 727.9h0M604.6 727.5h0M599.5 736.7h0M603 702.7h0M591.6 733.9h0M589.5 691.1h0M591.4 746.2h0M590.4 733.9h0M602 725.3h0M597.5 696.7h0M588.6 740.6h0M604 719.9h0M590 710.9h0M596.4 743.8h0M591 744.2h0M600.7 731.8h0M592.3 692h0M592.4 727.8h0M587 688.6h0M602 726.5h0M591.6 693.6h0M599.6 738.1h0M588.4 703.3h0M591.4 736.4h0M599.1 697.5h0M603 723h0M588.7 711.7h0M592.5 741.4h0M602 707.3h0M600.4 735.6h0M587.2 704.1h0M600.4 707.1h0M591.1 710.6h0M591.4 735.9h0M588.7 741.9h0M600.1 712.7h0M600.9 711.2h0M597.1 741h0M596.7 695.6h0M591 742.1h0M589.8 741.4h0M605.3 711.1h0M604.6 722.6h0M600.3 738.3h0M585.2 691.1h0M591.8 710.7h0M596 695.1h0M589.8 711.4h0M606.2 721.5h0M591.9 726.1h0M593.3 728.7h0M595.5 693.8h0M601.3 726.8h0M603.2 722.6h0M605.1 714.3h0M593.6 691.9h0M587.7 739h0M590.8 712.5h0M592 726.1h0M588.9 709.2h0M600.5 731.5h0M600.8 734.1h0M601.1 730.3h0M597.5 739.9h0M590.2 711.2h0M598.7 742h0M601.8 713.4h0M605.9 728.9h0M592.7 724.9h0M590.5 692h0M603.9 716.1h0M587.3 697.6h0M588.2 702.7h0M602.5 712.3h0M592.7 693.6h0M603.8 723.2h0M593.4 744.3h0M597.6 696.2h0M589.4 704.3h0M590.8 718.3h0M604.2 714.7h0M603.7 720.3h0M590 743.5h0M601.9 701.6h0M598.8 732.5h0M604.4 723.1h0M604.2 720.4h0M593.9 738.2h0M591.4 732.3h0M587.7 741.1h0M602.3 730.1h0M591.7 738.2h0M598.6 701.2h0M591.6 690h0M603.5 722.9h0M591 742.4h0M600.8 725.4h0M602.7 729.9h0M603 722.8h0M599.2 736.5h0M601.9 705.9h0M587.9 691.9h0M599.2 740.8h0M599.7 737.4h0M604.2 721.5h0M590.4 728.3h0M594.1 747.4h0M597.7 702.5h0M604 716.8h0M598.8 698.5h0M603.4 719.2h0M598.8 735.6h0M596.8 745.8h0M598.5 735.9h0M600.5 723.7h0M587.2 699.3h0M602.9 713.1h0M588.1 690.5h0M602.6 715.5h0M589.9 708.6h0M591 734.7h0M591.2 726.4h0M599.8 705h0M588.5 708.7h0M591.8 735.4h0M594.9 749h0M588.3 705.6h0M589.9 737h0M599.4 701.9h0M600.3 704.4h0M602.3 723.1h0M601.2 707.1h0M602.4 709.4h0M596 746.2h0M595.9 747.9h0M589.8 731.9h0M592.6 719.4h0M604.2 713.5h0M592.4 691.7h0M597.9 698.7h0M589 741.8h0M590.8 714.7h0M594.3 745.8h0M587.2 691.1h0M591.3 718.2h0M589.3 707.3h0M601.8 713.6h0M600.6 736.8h0M602.4 714.4h0M594.8 732.2h0M586.9 696.4h0M590.8 721.6h0M585.1 693.9h0M586.6 695.2h0M592.3 730h0M604.1 731h0M590.2 703.2h0M600.6 706.1h0M592.3 694h0M600.9 702.9h0M601.5 737.4h0M586.9 702.7h0M590.5 708.8h0M602.8 717.6h0M604.2 717.8h0M591.2 722.9h0M601.7 736.9h0M604.3 705.6h0M602.2 708.1h0M588.3 702.5h0M604.7 713.1h0M599.9 706.1h0M602.5 728.2h0M586 695.4h0M598.8 741.1h0M600.3 705.8h0M590.5 715.3h0M600.9 728.1h0M600.9 712.1h0M591.4 690.3h0M590.9 727.8h0" stroke="#a986cc" stroke-width="1.15" stroke-linecap="round" fill="none"/><polygon points="587.9,692.0 587.5,695.9 589.4,702.6 589.5,702.6 592.5,714.6 592.5,714.8 592.5,714.9 593.5,727.9 593.5,728.1 593.5,728.2 591.5,739.8 593.5,744.6 595.7,742.2 599.6,732.6 602.0,721.9 601.5,710.3 597.7,700.7 592.1,693.3 587.9,692.0" fill="#a986cc"/><path d="M605.9 738.9h0M610.4 745.7h0M600.2 730.2h0M597.7 743.8h0M609.6 743.6h0M597.1 743.8h0M603.9 752.3h0M605.9 756.3h0M608.8 761.6h0M604.6 763.5h0M602 766.3h0M610.9 754.3h0M610.3 757.5h0M598.3 758.2h0M607.4 738.3h0M602 765.6h0M607.6 732.2h0M602.3 758.6h0M601.7 749.1h0M605.9 746.6h0M598.5 750.8h0M610.4 730.3h0M611.4 756.2h0M611.6 733.7h0M610.3 744h0M611.4 735.5h0M605.3 732.4h0M601.3 756.3h0M598.1 744.9h0M602.3 742.2h0M606.5 756.1h0M607.3 761.5h0M607.3 731.7h0M600.4 757.8h0M606.2 745.1h0M607.8 754.2h0M603.3 757.6h0M607.6 740.6h0M608 738.8h0M611 738.7h0M606.3 741.8h0M610.2 737.9h0M611 741.4h0M597.6 746.3h0M600.5 738.2h0M598.7 744.1h0M599.4 763.3h0M598.4 756.9h0M608.2 746.4h0M605 749.7h0M597.8 756.9h0M598.3 746.7h0M607.2 758.1h0M600.4 751.2h0M607.2 757.5h0M608.1 741h0M596.5 746.8h0M596.8 751.3h0M598 732.2h0M606.8 756.1h0M602 763.6h0M607.2 748.2h0M600.6 736.7h0M610.2 744h0M599.5 733.4h0M606.5 734.6h0M606.7 757.7h0M604.3 741.9h0M603.6 756h0M603.2 735.3h0M607.1 735.8h0M601.4 761.3h0M607.6 754.6h0M600.7 748.4h0M597.9 737h0M610.3 739.1h0M609 728.5h0M599.5 763h0M610.6 734.8h0M599.6 736.7h0M600.4 733.4h0M601 761.2h0M605.8 754.4h0M607.1 741.5h0M605.4 730.7h0M599.9 753.7h0M605.3 729.8h0M598 741.7h0M610.7 741.9h0M602.8 741.8h0" stroke="#2db39d" stroke-width="1.1" stroke-linecap="round" fill="none"/><path d="M591.5 765.3h0M588.5 751h0M595.5 747.5h0M589.4 752.7h0M593.6 760.9h0M593 755.6h0M592.2 756.9h0M595.5 752.8h0M589.7 764.8h0M597 769.3h0M597 755.7h0M595.3 751.6h0M592.9 767.6h0M595.2 762.3h0M594 761.2h0M592.2 751.6h0M592.8 764.6h0M588.6 745.2h0M595.3 760.6h0M591.2 764.7h0M591.1 760.9h0M590.9 763.8h0M590.9 769.3h0M588.3 748.8h0M595.1 762.1h0M593.1 764.2h0M597.5 763.7h0M588.9 751.4h0M593.9 770.8h0M599.5 750.6h0M597.2 752.3h0M593.8 768.7h0M590.5 760.7h0M593.8 752.9h0M592.7 755.3h0M594.8 748.4h0M599.2 751.8h0M596.2 764.3h0M592.5 767.6h0M592.6 748.6h0M591.3 765h0M591.6 749.5h0M597.9 759.7h0M592.3 751.7h0M592.2 759.1h0M598.6 758.5h0M594.1 750.4h0M596.4 747.9h0M592.8 761.3h0M590.3 755.9h0" stroke="#d59c1f" stroke-width="1.1" stroke-linecap="round" fill="none"/><path d="M545.6 741.2h0M548.3 750.1h0M543 712.3h0M559.9 759h0M535.4 718.3h0M548.8 742.7h0M540.2 718.6h0M550.6 756.6h0M545 721.5h0M562.4 751.1h0M556.9 740.1h0M549.9 738.5h0M559.8 742.4h0M531.8 712.8h0M541.7 725.5h0M538.1 725.4h0M545 744.5h0M537 729h0M542.9 722.2h0M560.5 748.1h0M533.9 720.2h0M554.9 753.4h0M560.2 741.6h0M548.1 749.5h0M561.3 746.7h0M551 747h0M550 734.6h0M546.7 728.8h0M558.6 745.2h0M555 744.1h0M558.4 743.9h0M559.6 749.1h0M555.2 751.5h0M548.9 751.4h0M532.2 717.9h0M555.7 751h0M560.2 750.2h0M561.5 751.1h0M543.2 740.9h0M550.1 727.5h0M534.9 717.2h0M558.3 762.4h0M562 748.3h0M549.2 728.4h0M556.7 750.7h0M547.4 740.6h0M557.4 742.7h0M553.9 755.8h0M534.9 714.3h0M548 740h0M545.3 740.4h0M538.9 722.3h0M538 725.4h0M535.6 713.1h0M556.9 744.3h0M563.3 753h0M561.5 749.7h0M553.5 743.8h0M545.8 723.1h0M552.3 734.9h0M554.8 739.9h0M549.9 726.9h0M536.7 719.1h0M555.6 758.6h0M547.5 739.7h0M558.3 751.5h0M552.5 726.5h0M540.8 729.3h0M552.9 742.5h0M542.3 714.5h0M554.6 756.4h0M554.4 748.9h0M546.6 733.7h0M533.5 720h0M544.4 716.8h0M531.2 713.7h0M540.4 717.1h0M555.2 753.4h0M544.9 719.2h0M550.5 741.9h0M558.8 757.8h0M549.9 735.6h0M548 733.4h0M546.7 730.7h0M559.8 740.2h0M557.3 750.9h0M554.9 748.4h0M555.6 747.4h0M556.6 747.7h0M549.1 731.3h0M552 739.7h0M546.5 745.2h0M555.9 752.8h0M543.9 739.5h0M559.5 751.9h0M558.4 741h0M552.5 730.5h0M544 738h0M544.4 728.1h0M556.1 746.2h0M543.4 714h0M539.5 721.3h0M548.7 722.9h0M559 744.8h0M548.7 721.4h0M542.2 713.3h0M535 719.1h0M552.2 739.2h0M535 721.4h0M551.2 745.3h0M560 747.6h0M561 755.5h0M555.1 729.8h0M550.6 755.1h0M555.8 745.7h0M553.2 745.3h0M545.6 725h0M552.1 757.2h0M550.5 724.7h0M532.8 717.2h0M551.8 749.3h0M558.7 751.7h0M560.4 741h0M554.1 754.5h0M541.7 731h0M556.8 743.3h0M538.7 721.2h0M560.9 744.7h0M540.8 716.3h0M553.1 746.8h0M557.9 745.5h0M556.4 761.1h0M534.1 720.7h0M551.8 759h0M555.3 733.4h0M562.3 750.9h0M540.3 720.1h0M553.6 744.5h0M548.1 728.9h0M550.1 746.8h0M559.1 758.4h0M537.7 729.7h0M552 741.4h0M550.9 726.2h0M551.4 757.1h0M542.1 736.9h0M552.1 725.6h0M553.9 759.7h0M542.9 716.1h0M539 726.2h0M553.1 744.7h0M553.2 757.3h0M563.4 754h0M550.3 747.1h0M550.3 750.6h0M544.7 743.4h0M547.7 722.8h0M559.7 757.3h0M533.5 713.3h0M555 745h0M558.3 750.8h0M541.6 725.1h0M554.3 746.5h0M559.3 740.7h0M559 748h0M541.3 724.9h0M561 754.4h0M535 724.7h0M548.8 720.8h0M551.3 743.3h0M542.4 734.8h0M547.2 748.8h0M554.8 734.2h0M544 716.5h0M550.8 726.5h0M536.7 712h0M543 730.5h0M542.9 726.9h0M554.7 754.7h0M537.4 710.9h0M557.1 757.7h0M557.1 733.4h0M551 733.1h0M538 725.8h0M540 721.5h0M549.5 720h0M554.5 760.8h0M536.7 712.2h0M557.4 742.8h0M549.5 743.9h0M546.4 742.9h0M550.4 738.4h0M557.4 735.8h0M533.4 713.3h0M555.3 749.5h0M547.2 738.2h0M558.8 745.5h0M546.8 726.1h0M544.3 728.4h0M548.5 727.7h0M542.2 716h0M558.5 746.4h0M554.3 744.9h0M560.6 742.7h0M554.4 730.9h0M555.1 751.2h0M556.9 740.1h0M558.2 743.7h0M556.3 748.3h0M556.7 733.8h0M539.9 716.8h0M540 710.8h0M547.5 742.3h0M548.4 748.9h0M555.1 760.8h0M560.1 757h0M559.7 739.2h0M536 724.9h0M533.9 718.3h0M541.9 727.3h0M552.7 730.9h0M544.3 741.5h0M539.8 727.2h0M559 755.7h0M546 715.2h0M543.1 722h0M553.2 736.6h0M532.9 720h0M544.4 742.6h0M555.7 743.4h0M544.9 727.2h0M538.9 724.9h0M538.7 715.4h0M538.3 720.6h0M545.3 737.3h0M531.9 715h0M538.3 714.6h0M555.6 762.3h0M548.7 719.8h0M556.5 759.2h0M550.5 723.6h0M552.2 729h0M554.7 733.4h0M549.1 753.2h0M548.1 740.4h0M545.4 715.8h0M553.5 748.6h0M546.1 730h0M555.3 746.7h0M535.9 711.9h0M556.2 753.7h0M544.4 743.9h0M557.7 738.9h0M558.2 753.2h0M545.7 715.5h0M536.8 715.6h0M558.7 738.7h0M546.5 746.7h0M557.2 754.8h0M547.8 722.3h0M546.6 743.7h0M551 738.5h0M554.9 730.7h0M541 721h0M542.4 738.1h0M551.2 730.1h0M536.7 714.6h0M533 719.3h0M562.6 754.9h0M539.7 729.5h0M543.2 734h0M552.9 761.3h0M547.3 724.9h0M562.2 750.5h0M551.1 745.1h0M545.7 743h0M537 727h0M547.5 726.1h0M552.8 744.5h0M551.8 752.4h0M551.1 743.4h0M556.8 742h0M539.9 733.6h0M535.9 725.9h0M545.3 725.6h0M559.7 740.7h0M543 719.8h0M558.1 757.2h0M550 732.9h0M544.9 736h0M562.2 753h0M552 737.5h0M533.3 715.8h0M553.5 734.3h0M546.5 734.6h0M539.9 715.7h0M547.7 737.2h0M549.9 733h0M545 715.9h0M558 747.7h0M551.7 737.4h0M541.4 723h0M541.6 735h0M552.9 729.6h0M549.5 730.1h0M549.9 739h0M536.3 726.2h0M551.8 731.5h0M563.7 756.6h0M541.8 713.7h0M551.2 745.4h0M537.1 713.7h0M546.5 734.7h0M544.1 717.9h0M544.4 730.6h0M559.5 759.5h0M542.8 723.7h0M542.8 719.4h0M550 730.5h0M544.4 719.5h0M555.8 750h0M541.6 717.6h0M551.7 732.7h0M547.4 718.3h0M551.2 728.1h0M543.2 718.5h0M544.8 713.9h0M548 724.6h0M556.7 732.4h0M539.8 711h0M537.1 714.1h0M554.5 745.6h0M555.9 753.3h0M561.4 745.3h0M552.8 759h0M549.5 723.7h0M540.2 729.8h0M558 741.7h0M540.7 733.2h0M555.1 734.1h0M557.8 751.8h0M551 748.9h0M561.9 759.7h0M555.9 756.5h0M559.9 754.1h0M554.7 750.8h0M540.4 732.9h0M552.9 754.6h0M560.2 752.4h0M562.1 753.4h0M538.3 713.7h0M556.3 751.8h0M550.6 752.4h0M550 740.5h0M540.1 719.1h0M545.1 730.1h0M547.2 741.2h0M540.9 720.3h0M548.5 726.8h0M537.2 719.3h0M561.3 746.3h0M555.4 748.1h0M556.4 732.5h0M538.2 719.7h0M545.1 745.1h0M538.3 728.8h0M554.1 750.7h0M551.1 753.9h0M536.5 715.5h0M550.3 755.5h0M562.3 756.2h0M545.8 741.7h0M533.3 718.2h0M558.1 748.2h0M546.2 724.3h0M553.3 737.9h0M549.3 726.4h0M542.3 719.1h0M541.5 724.3h0M554.6 740h0M547.2 736.3h0M551.7 734.9h0M557.6 741h0M535.8 725.4h0M551 751.3h0M544.5 714.3h0M540.3 720.5h0M546 730.3h0M554.1 757.7h0M551.7 753.8h0M536.8 720.9h0M553.1 761.9h0M539.2 722.6h0M549.5 744.3h0M553.7 755.6h0M551.4 725.7h0M540.5 724.8h0M542.7 713.7h0M551.2 735.3h0M544.8 714.6h0M558.9 749.2h0M545 741.8h0M542.4 712.2h0M553 735.9h0M536.1 718.9h0M549.1 751.8h0M536.5 711.6h0M552.4 728.5h0M547.7 716h0M553.6 734.2h0M545.4 731.8h0M553.6 742.4h0M545.7 737.1h0M551.6 749.2h0M555.6 761.3h0M546.1 731.9h0M549.6 722.8h0M543.6 739.6h0M544.9 736.2h0M556.1 753h0M537.2 720h0M544.3 720.5h0M541.7 712.9h0M546.6 741.3h0M549.4 739.4h0M555.4 754.5h0M559.6 757h0M557.3 749.8h0M541.2 729.3h0M550.5 736.4h0M544.8 721.3h0M538 717.4h0M535.6 712.8h0M546.4 738.7h0M563.3 756.1h0M544.5 717.7h0M553.8 760h0M558.4 744.9h0M551.5 749h0M557.1 753.6h0M553.6 731.5h0M552.8 725.6h0M540.4 732h0M539 712.1h0M551.3 742.1h0M546.2 743.2h0M544.7 732.9h0M559.9 764h0M534.9 724.2h0M550.5 742h0M536.3 724h0M554.6 744.7h0M536.4 718.6h0M550.1 727.2h0M555.7 738.8h0M536.8 727.6h0M546.7 724.1h0M538 719.1h0M539.2 713.7h0M557.6 760.3h0M552 752.5h0M544.9 717.6h0M548.4 740.8h0M542.3 728h0M554 728.1h0M550.1 729.6h0M541.8 722.7h0M542 711.6h0M551.5 743.4h0M555 745.9h0M549.8 736.4h0M548.3 730.7h0M561.4 754.1h0M540.5 730.8h0M555.1 731.2h0M559.5 758.9h0M550.5 737.2h0M552.5 736h0M543.9 733.4h0M549.8 746.1h0M556.4 755.5h0M545 735.4h0M541.6 734.6h0M549.6 737.1h0M553.4 727.9h0M559.6 748.1h0M541.9 736.7h0M559.4 752.3h0M552.6 724.9h0M539.3 729h0M536 719.6h0M539.1 723.4h0M538.8 717.3h0M559.7 761.4h0M540.5 734.4h0M546.5 730.4h0M538.6 729.3h0M542.1 720.7h0M560.2 756.5h0M545.9 746.4h0M541.2 731.4h0M548.9 747.9h0M544.6 731.2h0M549.5 747h0M535.7 711.5h0M547.6 720.9h0M544.9 742.5h0M533.5 719.1h0M546 727.1h0M537.4 715.7h0M552.4 724h0M549 730.2h0M556.9 752.3h0M552.9 728.3h0M562 748.4h0M546 720.6h0M533.3 718.3h0M533 721.1h0M560 751.4h0M541.6 731.3h0" stroke="#7c9bd8" stroke-width="1.3" stroke-linecap="round" fill="none"/><path d="M540.1 741.5h0M568.5 756.4h0M543.4 735.2h0M538.9 739.3h0M535.8 717.6h0M545.3 755.7h0M552.6 733.1h0M548.3 760.1h0M549.5 727.8h0M539.7 727h0M532 714.3h0M528.3 718.1h0M546.8 746.3h0M563.6 766.7h0M552.4 732.9h0M543.7 711.2h0M557.7 740.7h0M540.3 750.5h0M554.2 730.2h0M537.1 708.9h0M568.8 758.9h0M546 744.6h0M543.8 733.1h0M550.4 735.7h0M559.3 731.5h0M548.4 732.5h0M558.7 759.7h0M542.7 711.5h0M545.3 725.1h0M542 713.7h0M556.4 750.6h0M544.8 721.8h0M538.4 712.3h0M539.7 716.3h0M543.7 735h0M547.9 732.1h0M551.8 749h0M560.3 724.3h0M557.1 734h0M541 732.9h0M562.2 762.4h0M548.6 730.5h0M545 728.7h0M537.9 725.4h0M560.7 759.7h0M546.9 737.6h0M551.9 737h0M545.8 720.7h0M546 732.8h0M564.9 744.1h0M562.8 760.3h0M555.6 750.1h0M557.9 740.2h0M544.3 729.7h0M546.6 730.2h0M535.3 715.3h0M539.6 721.7h0M558 756.5h0M543.6 722.6h0M547.2 729.2h0M565.9 751.6h0M554.4 741.1h0M536.4 732.3h0M561.4 739.7h0M552 734.2h0M546.6 739.1h0M537.1 715.2h0M563.3 745h0M538.4 731.9h0M533.1 717.6h0M554.1 740.5h0M545.7 728.6h0M555.1 752.6h0M550.9 720.5h0M542.8 730.6h0M561.2 759h0M554.8 739.4h0M549.5 741.8h0M557.3 737.7h0M535.8 733.5h0M548.7 740.2h0M535.8 722.9h0M559 750h0M554.7 757.1h0M549.1 727.9h0M552.8 720.7h0M562.8 733.8h0M544.8 738.1h0M536 713.9h0M546.9 717.6h0M540.8 737.2h0M551 718.9h0M550.1 729.8h0M559.3 727h0M559.8 758.6h0M551.4 732h0M564.9 746.2h0M541.6 745.1h0M558.6 753.8h0M549.6 747.9h0M541.5 711.1h0M543.1 736.3h0M534.3 721.8h0M548.9 752.2h0M535.5 713h0M563.6 744.6h0M536.2 716.1h0M547.1 734h0M545 724h0M552.5 738.8h0M538.6 721.7h0M552.6 729.5h0M563.1 749.8h0M547.7 752.5h0M551.9 755.1h0M543.8 729.2h0M558 736.6h0M545.7 725.7h0M539.6 714h0M551.6 727.2h0M534.8 727.3h0M557.5 747.2h0M560.4 758.4h0M545.2 752.4h0M546.3 716.3h0M561.3 751.5h0M549.6 736.7h0M551 718h0M546.4 736.8h0M560.1 743.1h0M546.8 765.4h0M531.6 714.2h0M552.6 743.6h0M546.5 716.2h0M552.9 735.1h0M540.5 713.8h0M547.9 735.6h0M559.6 746.2h0M556.1 750.7h0M558.9 748.2h0M557.7 746.3h0M560.8 756.2h0M558.5 731.7h0M551.4 744.2h0M560.3 761.9h0M552.8 728.6h0M559.5 752.1h0M559.4 749.5h0M550 756.1h0M550.3 755.6h0M545.1 737.3h0M550.2 751.3h0M541 730.2h0M537.3 713.7h0M543.4 734.1h0M548.3 727.5h0M554.6 765.6h0M549.7 721.2h0M560.4 757.7h0M561.2 759.4h0M564.7 731.7h0M562 743.8h0M534.1 714.5h0M556.4 740h0M538.4 716.1h0M539.1 730.9h0M560.3 743.1h0M551.2 764.2h0M549.2 746.3h0M551.2 715.8h0M560.5 737.2h0M536.4 728.2h0M550.5 735.2h0M549.5 732.9h0M554.2 737.1h0M562.9 739.7h0M555.3 745.9h0M549.5 732.2h0M546.5 713h0M563.5 762.2h0M552.7 738.7h0M550.6 725.8h0M562.6 755.1h0M555.1 734.3h0M555.6 730.8h0M552.1 749.5h0M547.8 716.6h0M535.2 718.9h0M547.5 727.2h0M539.1 718.3h0M551.4 726.7h0M541.8 726.7h0M556.5 728.5h0M555.3 761.3h0M552.7 758.2h0M556 752.5h0M533.8 719.7h0M546.4 751.8h0M551.9 729.4h0M542.8 725.5h0" stroke="#7c9bd8" stroke-width="1.2" stroke-linecap="round" fill="none"/><path d="M582.3 659.6h0M583.7 663.7h0M583.2 678.7h0M575.3 667.6h0M583.8 677.6h0M583.6 671.8h0M585.6 670.3h0M584.4 668.2h0M576.1 667.7h0M583.1 683.1h0M580 680.5h0M584.4 676.8h0M575.8 664.9h0M585.6 676.3h0M585.1 678.5h0M574.4 666.4h0M575.1 660.1h0M584.5 672.2h0M574.7 661.6h0M579.2 682h0M584.6 669.7h0M576.5 665.2h0M585 675.7h0M581 682.4h0M582.7 663.5h0M577 660.6h0M579.8 661h0M575.8 671.4h0M576.5 662.2h0M572.5 669.5h0M578.2 678.7h0M577.5 679.3h0M577 679.5h0M586.2 667.5h0M583.5 669.9h0M581 662.6h0M579.4 661.9h0M585.2 676h0M575.1 668.1h0M577.8 660.7h0M584.3 667.2h0M586 670.3h0M575.2 672.2h0M575.5 665.6h0M575.5 665.2h0M575.9 665.6h0M575.4 670.5h0M575.9 665.4h0M579.9 678.4h0M586.1 670.1h0M575.7 671.5h0M584.5 663.9h0M586.9 672h0M576.5 677.4h0M586.5 671.5h0M574.4 672.2h0M575.1 681.6h0M584.8 681.2h0M583 681.7h0M580.4 660.4h0M582.9 681.4h0M584.3 676.1h0M585.7 683.3h0M586.6 677.9h0M585.2 665.5h0M576 670.7h0M574.3 669.7h0M575.7 665.9h0M584.4 682.2h0M583.8 675.6h0M576.8 668.3h0M575.3 672.8h0M576.8 659.8h0M585.6 671.5h0M583.1 661h0M574.5 672.7h0M576 679.3h0M575.3 678.6h0M577.2 679.5h0M584.6 663.6h0M581.1 663.1h0M576.5 671h0M576.3 675.9h0M587.1 673.7h0M576.7 664h0M574.3 664.9h0" stroke="#d65fba" stroke-width="1.15" stroke-linecap="round" fill="none"/><polygon points="576.9,662.1 576.5,671.9 578.8,680.1 583.2,680.8 584.5,672.0 582.2,662.9 576.9,662.1" fill="#d65fba"/><polygon points="483.0,622.0 486.0,614.0 492.0,608.5 500.0,606.0 510.0,605.5 518.0,606.0 525.0,609.0 530.0,615.0 536.0,628.0 545.0,641.0 556.0,649.0 568.0,655.0 578.0,662.0 582.0,680.0 585.0,700.0 588.0,720.0 590.0,742.0 582.0,750.0 567.0,748.0 551.0,752.0 543.0,762.0 538.0,778.0 530.0,786.0 520.0,780.0 511.5,769.0 500.8,758.0 490.0,740.0 481.0,708.0 477.0,690.0 476.5,675.0 478.0,664.0 484.7,655.0 485.0,647.0 482.5,636.0" fill="url(#spk)"/><polygon points="534.7,777.9 540.9,757.4 551.1,747.2 567.4,743.1 581.7,747.2 589.9,757.4 592.0,771.7 589.9,786.1 585.8,800.4 579.7,810.6 569.5,816.7 557.2,819.8 547.0,814.7 540.9,804.4 536.8,792.2 530.7,784.0" fill="url(#spk)"/><polygon points="606.0,738.0 614.0,734.5 622.0,735.0 627.0,740.0 629.0,748.0 627.0,756.0 620.0,761.0 616.0,768.0 616.0,777.0 611.0,786.0 603.0,793.0 594.0,799.0 588.0,798.0 590.0,788.0 596.0,778.0 600.0,768.0 603.0,758.0 602.0,746.0" fill="url(#spk)"/><polygon points="606.0,678.0 612.0,675.0 620.0,677.0 628.0,684.0 631.0,692.0 626.0,697.0 618.0,694.0 610.0,688.0" fill="url(#spk)"/><polygon points="637.0,672.0 643.0,668.0 649.0,669.0 654.0,676.0 658.0,686.0 659.0,698.0 657.0,706.0 650.0,713.0 644.0,720.0 640.0,716.0 642.0,706.0 640.0,695.0 636.0,684.0" fill="url(#spk)"/><polygon points="539.0,616.9 545.5,610.3 552.0,612.0 558.0,618.4 566.7,627.1 572.6,622.7 584.2,615.4 591.5,612.5 599.6,616.9 604.7,631.5 607.6,638.8 601.8,651.9 588.6,656.3 581.3,650.5 572.6,646.1 563.8,650.5 555.0,644.6 543.4,641.7 537.5,634.4 538.2,622.7" fill="url(#spk)" fill-opacity="0.7"/><polygon points="586.6,690.0 593.0,692.0 599.0,700.0 603.0,710.0 603.5,722.0 601.0,733.0 597.0,743.0 593.0,747.4 590.0,740.0 592.0,728.0 591.0,715.0 588.0,703.0 586.0,696.0" fill="url(#spk)" fill-opacity="0.7"/><polygon points="554.4,559.7 560.0,560.0 567.0,566.0 577.0,572.0 584.0,580.0 587.5,588.0 587.0,596.0 585.5,603.5 579.0,600.0 570.0,592.0 561.0,583.0 555.0,575.0 553.0,567.0" fill="url(#spk)" fill-opacity="0.7"/><path d="M530.7 762.8h0M539 650.5h0M563.3 723.4h0M488.1 703.6h0M580.7 734.6h0M573.2 664.8h0M499.8 667.2h0M496.9 713.6h0M500.5 679h0M530.7 743.2h0M519.5 764.4h0M492.6 693.3h0M542.1 713.7h0M553.5 663.4h0M571.5 706.8h0M497.5 707.5h0M548 708h0M494.1 609.8h0M538.6 728.5h0M576.7 680h0M522.9 622h0M504.2 735.1h0M541.6 737.2h0M516.9 771.2h0M536.9 766.8h0M575.3 740.1h0M564.8 660.8h0M545.6 682.8h0M497.5 741.5h0M553.9 677h0M532.6 780.6h0M509.5 662.6h0M540.8 680.3h0M532.9 631.4h0M520 705.3h0M525.3 685.1h0M554.9 664.3h0M516.2 704.4h0M506.5 689.5h0M536.4 636.3h0M575.8 668.4h0M489 709.3h0M512.9 728.3h0M576.2 732h0M540.2 645.7h0M517.7 665.3h0M526.3 776.9h0M504.5 640h0M562.7 748.9h0M515.7 772.5h0M533.6 756.9h0M490.6 616.1h0M527.7 699.7h0M487.3 674.6h0M507.8 761.9h0M577.8 708.2h0M524.7 637.5h0M487.8 726.3h0M566.3 657.8h0M496.8 745.8h0M554.1 724.5h0M579.3 707.9h0M482.6 694h0M583 710.6h0M540.7 765.2h0M519.1 719.4h0M545.2 666.8h0M584.1 746.4h0M522.2 687.6h0M531.8 672h0M556.7 707.9h0M540.3 693.9h0M536.1 665h0M518.7 727.2h0M531.9 665.2h0M533.2 676h0M586.2 723.6h0M524.4 699.4h0M551 681.3h0M558.5 676.9h0M491.3 637.5h0M538.6 668.9h0M507.5 722.2h0M502.9 693.3h0M523.9 644.5h0M503.8 654.8h0M501.5 636.2h0M502.3 646h0M510.1 633.6h0M532.6 732.9h0" stroke="#7c9bd8" stroke-width="1.1" stroke-linecap="round" fill="none"/><path d="M555.9 762.2h0M561.3 768.8h0M586.7 768h0M548.7 761.5h0M570.1 746.1h0M564.1 800.4h0M544.9 801.9h0M546.7 766.4h0M541.7 803.8h0M570.1 813.8h0M561.1 750.8h0M557.4 782.3h0M552.4 791.4h0M559.3 790.9h0M552.7 752.4h0M556.3 815.5h0M554.7 784h0M550.9 770.8h0M552.1 773.6h0M560.7 765.9h0M544.9 803.9h0M572.6 799.6h0M570.9 809.4h0M543.1 784.5h0M577.3 810.5h0M549.9 754.6h0M574.2 761.7h0M557.3 808.1h0M560.7 811.6h0M574 799.9h0M558.4 785.5h0M551.1 770.3h0M545.8 756.2h0M578.6 792.3h0M563 760.7h0M562.5 766h0M560 771.9h0M540.4 801.1h0M560.5 765.7h0M554.6 795.3h0M551.1 781.3h0M557.6 783.3h0M558.5 747.6h0M559.2 816.6h0M554.1 784.6h0M580 766.9h0M576.6 794.6h0M554.4 797.8h0M580.9 792.2h0M546.9 774.6h0M586.6 779.7h0M553.2 766.4h0M565.5 751.7h0M565.8 775.5h0M563.6 815.7h0M546.5 766.1h0M548.8 763.3h0M578.1 759h0M577.7 761.3h0M565.1 772.9h0" stroke="#f07d75" stroke-width="1.1" stroke-linecap="round" fill="none"/><path d="M617.7 753.3h0M612.7 765h0M611.4 739.4h0M612.8 740.7h0M624.3 754.1h0M626.4 743.3h0M613.2 771.8h0M624.6 742.5h0M600.3 788.5h0M603.4 786.4h0M599.1 785.4h0M611.4 740.1h0M597.7 781.1h0M621 743.1h0M611.7 767.4h0M626.5 753h0M622.4 735.9h0M604 776.7h0M596 793.5h0M613.1 755.2h0M604.6 781h0M624.5 752.8h0M625.9 746.6h0M610.1 755.6h0M606.5 750.5h0M615.4 752.5h0M611.1 749.6h0M617.5 746.1h0M601.5 790.2h0M607.2 749.7h0M609.8 740.1h0M605.4 746.7h0M620.2 738h0M616.4 744h0M615.1 763.7h0M612 765.2h0M603.2 765.9h0M594.7 781.1h0M618.1 763h0M618.2 752.2h0" stroke="#f07d75" stroke-width="1.1" stroke-linecap="round" fill="none"/><text x="588.1" y="571.4" font-size="12.3">CCR4/Helios+</text><text x="601.9" y="617.8" font-size="12.3">Cycling</text><text x="599.6" y="655.1" font-size="12.3">CD8+/Cytotoxic</text><text x="565.8" y="676.5" font-size="12.3">LGALS1+</text><text x="476.4" y="688" font-size="12.3">canonical Tregs</text><text x="560.2" y="724.1" font-size="12.3">MTRNR2L12+</text><text x="466.6" y="748" font-size="12.3">ANXA-high</text><text x="598" y="766.8" font-size="12.3">KLRB1+</text><text x="498.8" y="799.6" font-size="12.3">CCR7+</text><path d="M632.4 661.9V689.1M527.5 744.8H543.8" stroke="#000" stroke-width="0.8"/><path d="M472.3 808V821.2H483" fill="none" stroke="#444" stroke-width="0.8"/><path d="M470.5 808.5L472.3 804.5L474.1 808.5Z" fill="#444"/><path d="M482.5 819.4L486.3 821.2L482.5 823Z" fill="#444"/><text x="493.6" y="823.3" font-size="7.2" fill="#333">UMAP-1</text><text transform="translate(474.9 804.3) rotate(-90)" font-size="7.2" fill="#333">UMAP-2</text><text x="471" y="841.5" font-size="12.6" fill="#1a1a1a">SpA Tregs</text><text x="471" y="856.7" font-size="12.3" fill="#1a1a1a">AS (PB n=5503, SF n=7894)</text><text x="471" y="871.2" font-size="12.4" fill="#1a1a1a">PsA (PB n=951, SF n=2,115)</text></svg></body></html>
